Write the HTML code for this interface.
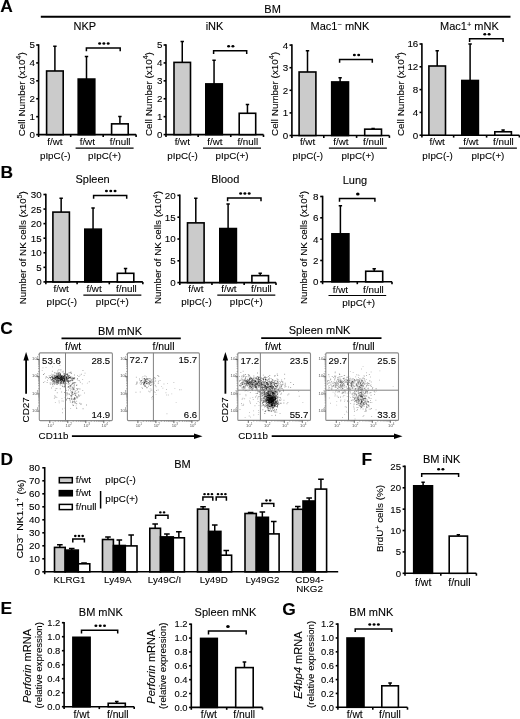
<!DOCTYPE html>
<html><head><meta charset="utf-8"><style>
html,body{margin:0;padding:0;background:#fff;}
svg{display:block;font-family:"Liberation Sans",sans-serif;will-change:transform;filter:blur(0.35px);}
text{stroke:#000;stroke-width:0.1px;}
</style></head><body>
<svg width="520" height="719" viewBox="0 0 520 719">
<defs><filter id="bl" x="-5%" y="-5%" width="110%" height="110%"><feGaussianBlur stdDeviation="0.35"/></filter></defs>
<rect width="520" height="719" fill="#fff"/>
<text x="0.3" y="12.2" font-size="17.4" font-weight="bold">A</text>
<text x="0.6" y="178.0" font-size="17.4" font-weight="bold">B</text>
<text x="0.2" y="333.5" font-size="17.4" font-weight="bold">C</text>
<text x="0.6" y="465.0" font-size="17.4" font-weight="bold">D</text>
<text x="0.6" y="613.8" font-size="17.4" font-weight="bold">E</text>
<text x="361.6" y="464.7" font-size="17.4" font-weight="bold">F</text>
<text x="282.3" y="614.8" font-size="17.4" font-weight="bold">G</text>
<text x="272.60" y="12.90" font-size="11" text-anchor="middle" >BM</text>
<line x1="40.80" y1="16.70" x2="510.50" y2="16.70" stroke="#000" stroke-width="2"/>
<path d="M38.60 44.20V134.60H136.10" stroke="#000" stroke-width="1.6" fill="none"/>
<line x1="36.20" y1="134.60" x2="38.60" y2="134.60" stroke="#000" stroke-width="1.6"/>
<text x="35.00" y="138.03" font-size="9.8" text-anchor="end" >0</text>
<line x1="36.20" y1="116.68" x2="38.60" y2="116.68" stroke="#000" stroke-width="1.6"/>
<text x="35.00" y="120.11" font-size="9.8" text-anchor="end" >1</text>
<line x1="36.20" y1="98.76" x2="38.60" y2="98.76" stroke="#000" stroke-width="1.6"/>
<text x="35.00" y="102.19" font-size="9.8" text-anchor="end" >2</text>
<line x1="36.20" y1="80.84" x2="38.60" y2="80.84" stroke="#000" stroke-width="1.6"/>
<text x="35.00" y="84.27" font-size="9.8" text-anchor="end" >3</text>
<line x1="36.20" y1="62.92" x2="38.60" y2="62.92" stroke="#000" stroke-width="1.6"/>
<text x="35.00" y="66.35" font-size="9.8" text-anchor="end" >4</text>
<line x1="36.20" y1="45.00" x2="38.60" y2="45.00" stroke="#000" stroke-width="1.6"/>
<text x="35.00" y="48.43" font-size="9.8" text-anchor="end" >5</text>
<line x1="38.60" y1="134.60" x2="38.60" y2="137.00" stroke="#000" stroke-width="1.6"/>
<line x1="70.70" y1="134.60" x2="70.70" y2="137.00" stroke="#000" stroke-width="1.6"/>
<line x1="103.20" y1="134.60" x2="103.20" y2="137.00" stroke="#000" stroke-width="1.6"/>
<line x1="136.10" y1="134.60" x2="136.10" y2="137.00" stroke="#000" stroke-width="1.6"/>
<path d="M54.90 70.98V46.25M53.20 46.25H56.60" stroke="#000" stroke-width="1.5" fill="none"/>
<rect x="46.60" y="70.98" width="16.60" height="63.62" fill="#cbcbcb" stroke="#000" stroke-width="1.6"/>
<path d="M86.50 79.05V56.47M84.80 56.47H88.20" stroke="#000" stroke-width="1.5" fill="none"/>
<rect x="78.20" y="79.05" width="16.60" height="55.55" fill="#000" stroke="#000" stroke-width="1.6"/>
<path d="M119.90 123.85V116.50M118.20 116.50H121.60" stroke="#000" stroke-width="1.5" fill="none"/>
<rect x="111.60" y="123.85" width="16.60" height="10.75" fill="#fff" stroke="#000" stroke-width="1.6"/>
<path d="M86.40 51.30V48.10H120.20V51.30" stroke="#000" stroke-width="1.5" fill="none"/>
<ellipse cx="99.60" cy="43.60" rx="1.5" ry="1.25" fill="#000"/>
<ellipse cx="103.90" cy="43.60" rx="1.5" ry="1.25" fill="#000"/>
<ellipse cx="108.20" cy="43.60" rx="1.5" ry="1.25" fill="#000"/>
<text x="84.80" y="30.00" font-size="11" text-anchor="middle" >NKP</text>
<text x="54.90" y="145.20" font-size="9.8" text-anchor="middle" >f/wt</text>
<text x="55.20" y="158.70" font-size="9.8" text-anchor="middle" >pIpC(-)</text>
<text x="87.30" y="145.20" font-size="9.8" text-anchor="middle" >f/wt</text>
<text x="120.20" y="145.20" font-size="9.8" text-anchor="middle" >f/null</text>
<line x1="75.60" y1="148.10" x2="133.60" y2="148.10" stroke="#000" stroke-width="1.2"/>
<text x="104.60" y="158.70" font-size="9.8" text-anchor="middle" >pIpC(+)</text>
<text transform="translate(24.80,136.30) rotate(-90)" font-size="9.3"  textLength="84" lengthAdjust="spacingAndGlyphs">Cell Number (x10<tspan dy="-3.6" font-size="6.5">4</tspan><tspan dy="3.6">)</tspan></text>
<path d="M166.00 44.20V134.60H263.50" stroke="#000" stroke-width="1.6" fill="none"/>
<line x1="163.60" y1="134.60" x2="166.00" y2="134.60" stroke="#000" stroke-width="1.6"/>
<text x="162.40" y="138.03" font-size="9.8" text-anchor="end" >0</text>
<line x1="163.60" y1="116.68" x2="166.00" y2="116.68" stroke="#000" stroke-width="1.6"/>
<text x="162.40" y="120.11" font-size="9.8" text-anchor="end" >1</text>
<line x1="163.60" y1="98.76" x2="166.00" y2="98.76" stroke="#000" stroke-width="1.6"/>
<text x="162.40" y="102.19" font-size="9.8" text-anchor="end" >2</text>
<line x1="163.60" y1="80.84" x2="166.00" y2="80.84" stroke="#000" stroke-width="1.6"/>
<text x="162.40" y="84.27" font-size="9.8" text-anchor="end" >3</text>
<line x1="163.60" y1="62.92" x2="166.00" y2="62.92" stroke="#000" stroke-width="1.6"/>
<text x="162.40" y="66.35" font-size="9.8" text-anchor="end" >4</text>
<line x1="163.60" y1="45.00" x2="166.00" y2="45.00" stroke="#000" stroke-width="1.6"/>
<text x="162.40" y="48.43" font-size="9.8" text-anchor="end" >5</text>
<line x1="166.00" y1="134.60" x2="166.00" y2="137.00" stroke="#000" stroke-width="1.6"/>
<line x1="198.15" y1="134.60" x2="198.15" y2="137.00" stroke="#000" stroke-width="1.6"/>
<line x1="230.75" y1="134.60" x2="230.75" y2="137.00" stroke="#000" stroke-width="1.6"/>
<line x1="263.50" y1="134.60" x2="263.50" y2="137.00" stroke="#000" stroke-width="1.6"/>
<path d="M182.25 62.38V41.42M180.55 41.42H183.95" stroke="#000" stroke-width="1.5" fill="none"/>
<rect x="174.00" y="62.38" width="16.50" height="72.22" fill="#cbcbcb" stroke="#000" stroke-width="1.6"/>
<path d="M214.05 83.89V60.23M212.35 60.23H215.75" stroke="#000" stroke-width="1.5" fill="none"/>
<rect x="205.80" y="83.89" width="16.50" height="50.71" fill="#000" stroke="#000" stroke-width="1.6"/>
<path d="M247.45 113.28V104.49M245.75 104.49H249.15" stroke="#000" stroke-width="1.5" fill="none"/>
<rect x="239.20" y="113.28" width="16.50" height="21.32" fill="#fff" stroke="#000" stroke-width="1.6"/>
<path d="M213.60 54.00V50.80H246.70V54.00" stroke="#000" stroke-width="1.5" fill="none"/>
<ellipse cx="228.60" cy="46.30" rx="1.5" ry="1.25" fill="#000"/>
<ellipse cx="232.90" cy="46.30" rx="1.5" ry="1.25" fill="#000"/>
<text x="214.50" y="30.00" font-size="11" text-anchor="middle" >iNK</text>
<text x="182.25" y="145.20" font-size="9.8" text-anchor="middle" >f/wt</text>
<text x="182.55" y="158.70" font-size="9.8" text-anchor="middle" >pIpC(-)</text>
<text x="214.85" y="145.20" font-size="9.8" text-anchor="middle" >f/wt</text>
<text x="247.75" y="145.20" font-size="9.8" text-anchor="middle" >f/null</text>
<line x1="203.00" y1="148.10" x2="261.00" y2="148.10" stroke="#000" stroke-width="1.2"/>
<text x="232.00" y="158.70" font-size="9.8" text-anchor="middle" >pIpC(+)</text>
<text transform="translate(151.80,136.10) rotate(-90)" font-size="9.3"  textLength="84" lengthAdjust="spacingAndGlyphs">Cell Number (x10<tspan dy="-3.6" font-size="6.5">4</tspan><tspan dy="3.6">)</tspan></text>
<path d="M291.90 44.30V135.50H389.40" stroke="#000" stroke-width="1.6" fill="none"/>
<line x1="289.50" y1="135.50" x2="291.90" y2="135.50" stroke="#000" stroke-width="1.6"/>
<text x="288.30" y="138.93" font-size="9.8" text-anchor="end" >0</text>
<line x1="289.50" y1="112.90" x2="291.90" y2="112.90" stroke="#000" stroke-width="1.6"/>
<text x="288.30" y="116.33" font-size="9.8" text-anchor="end" >1</text>
<line x1="289.50" y1="90.30" x2="291.90" y2="90.30" stroke="#000" stroke-width="1.6"/>
<text x="288.30" y="93.73" font-size="9.8" text-anchor="end" >2</text>
<line x1="289.50" y1="67.70" x2="291.90" y2="67.70" stroke="#000" stroke-width="1.6"/>
<text x="288.30" y="71.13" font-size="9.8" text-anchor="end" >3</text>
<line x1="289.50" y1="45.10" x2="291.90" y2="45.10" stroke="#000" stroke-width="1.6"/>
<text x="288.30" y="48.53" font-size="9.8" text-anchor="end" >4</text>
<line x1="291.90" y1="135.50" x2="291.90" y2="137.90" stroke="#000" stroke-width="1.6"/>
<line x1="323.80" y1="135.50" x2="323.80" y2="137.90" stroke="#000" stroke-width="1.6"/>
<line x1="356.60" y1="135.50" x2="356.60" y2="137.90" stroke="#000" stroke-width="1.6"/>
<line x1="389.40" y1="135.50" x2="389.40" y2="137.90" stroke="#000" stroke-width="1.6"/>
<path d="M307.50 71.99V50.75M305.80 50.75H309.20" stroke="#000" stroke-width="1.5" fill="none"/>
<rect x="299.10" y="71.99" width="16.80" height="63.51" fill="#cbcbcb" stroke="#000" stroke-width="1.6"/>
<path d="M340.10 81.94V77.64M338.40 77.64H341.80" stroke="#000" stroke-width="1.5" fill="none"/>
<rect x="331.70" y="81.94" width="16.80" height="53.56" fill="#000" stroke="#000" stroke-width="1.6"/>
<path d="M373.10 129.17V128.49M371.40 128.49H374.80" stroke="#000" stroke-width="1.5" fill="none"/>
<rect x="364.70" y="129.17" width="16.80" height="6.33" fill="#fff" stroke="#000" stroke-width="1.6"/>
<path d="M339.60 62.80V59.60H372.30V62.80" stroke="#000" stroke-width="1.5" fill="none"/>
<ellipse cx="354.40" cy="55.10" rx="1.5" ry="1.25" fill="#000"/>
<ellipse cx="358.70" cy="55.10" rx="1.5" ry="1.25" fill="#000"/>
<text x="340.00" y="30.00" font-size="11" text-anchor="middle" >Mac1<tspan dy="-3.2" font-size="7.5">−</tspan><tspan dy="3.2"> mNK</tspan></text>
<text x="307.50" y="145.20" font-size="9.8" text-anchor="middle" >f/wt</text>
<text x="307.80" y="158.70" font-size="9.8" text-anchor="middle" >pIpC(-)</text>
<text x="340.90" y="145.20" font-size="9.8" text-anchor="middle" >f/wt</text>
<text x="373.40" y="145.20" font-size="9.8" text-anchor="middle" >f/null</text>
<line x1="328.90" y1="148.10" x2="386.90" y2="148.10" stroke="#000" stroke-width="1.2"/>
<text x="357.90" y="158.70" font-size="9.8" text-anchor="middle" >pIpC(+)</text>
<text transform="translate(277.80,136.00) rotate(-90)" font-size="9.3"  textLength="84" lengthAdjust="spacingAndGlyphs">Cell Number (x10<tspan dy="-3.6" font-size="6.5">4</tspan><tspan dy="3.6">)</tspan></text>
<path d="M421.90 43.20V135.20H519.40" stroke="#000" stroke-width="1.6" fill="none"/>
<line x1="419.50" y1="135.20" x2="421.90" y2="135.20" stroke="#000" stroke-width="1.6"/>
<text x="418.30" y="138.63" font-size="9.8" text-anchor="end" >0</text>
<line x1="419.50" y1="112.40" x2="421.90" y2="112.40" stroke="#000" stroke-width="1.6"/>
<text x="418.30" y="115.83" font-size="9.8" text-anchor="end" >4</text>
<line x1="419.50" y1="89.60" x2="421.90" y2="89.60" stroke="#000" stroke-width="1.6"/>
<text x="418.30" y="93.03" font-size="9.8" text-anchor="end" >8</text>
<line x1="419.50" y1="66.80" x2="421.90" y2="66.80" stroke="#000" stroke-width="1.6"/>
<text x="418.30" y="70.23" font-size="9.8" text-anchor="end" >12</text>
<line x1="419.50" y1="44.00" x2="421.90" y2="44.00" stroke="#000" stroke-width="1.6"/>
<text x="418.30" y="47.43" font-size="9.8" text-anchor="end" >16</text>
<line x1="421.90" y1="135.20" x2="421.90" y2="137.60" stroke="#000" stroke-width="1.6"/>
<line x1="453.65" y1="135.20" x2="453.65" y2="137.60" stroke="#000" stroke-width="1.6"/>
<line x1="486.60" y1="135.20" x2="486.60" y2="137.60" stroke="#000" stroke-width="1.6"/>
<line x1="519.40" y1="135.20" x2="519.40" y2="137.60" stroke="#000" stroke-width="1.6"/>
<path d="M437.20 66.00V50.84M435.50 50.84H438.90" stroke="#000" stroke-width="1.5" fill="none"/>
<rect x="428.90" y="66.00" width="16.60" height="69.20" fill="#cbcbcb" stroke="#000" stroke-width="1.6"/>
<path d="M470.10 80.48V44.00M468.40 44.00H471.80" stroke="#000" stroke-width="1.5" fill="none"/>
<rect x="461.80" y="80.48" width="16.60" height="54.72" fill="#000" stroke="#000" stroke-width="1.6"/>
<path d="M503.10 131.78V130.07M501.40 130.07H504.80" stroke="#000" stroke-width="1.5" fill="none"/>
<rect x="494.80" y="131.78" width="16.60" height="3.42" fill="#fff" stroke="#000" stroke-width="1.6"/>
<path d="M469.60 41.90V38.70H503.10V41.90" stroke="#000" stroke-width="1.5" fill="none"/>
<ellipse cx="484.80" cy="34.20" rx="1.5" ry="1.25" fill="#000"/>
<ellipse cx="489.10" cy="34.20" rx="1.5" ry="1.25" fill="#000"/>
<text x="469.40" y="30.00" font-size="11" text-anchor="middle" >Mac1<tspan dy="-3.2" font-size="7.5">+</tspan><tspan dy="3.2"> mNK</tspan></text>
<text x="437.20" y="145.20" font-size="9.8" text-anchor="middle" >f/wt</text>
<text x="437.50" y="158.70" font-size="9.8" text-anchor="middle" >pIpC(-)</text>
<text x="470.90" y="145.20" font-size="9.8" text-anchor="middle" >f/wt</text>
<text x="503.40" y="145.20" font-size="9.8" text-anchor="middle" >f/null</text>
<line x1="458.90" y1="148.10" x2="516.90" y2="148.10" stroke="#000" stroke-width="1.2"/>
<text x="487.90" y="158.70" font-size="9.8" text-anchor="middle" >pIpC(+)</text>
<text transform="translate(403.90,136.10) rotate(-90)" font-size="9.3"  textLength="84" lengthAdjust="spacingAndGlyphs">Cell Number (x10<tspan dy="-3.6" font-size="6.5">4</tspan><tspan dy="3.6">)</tspan></text>
<path d="M45.85 193.70V281.90H142.85" stroke="#000" stroke-width="1.6" fill="none"/>
<line x1="43.45" y1="281.90" x2="45.85" y2="281.90" stroke="#000" stroke-width="1.6"/>
<text x="41.75" y="285.33" font-size="9.8" text-anchor="end" >0</text>
<line x1="43.45" y1="267.33" x2="45.85" y2="267.33" stroke="#000" stroke-width="1.6"/>
<text x="41.75" y="270.76" font-size="9.8" text-anchor="end" >5</text>
<line x1="43.45" y1="252.77" x2="45.85" y2="252.77" stroke="#000" stroke-width="1.6"/>
<text x="41.75" y="256.20" font-size="9.8" text-anchor="end" >10</text>
<line x1="43.45" y1="238.20" x2="45.85" y2="238.20" stroke="#000" stroke-width="1.6"/>
<text x="41.75" y="241.63" font-size="9.8" text-anchor="end" >15</text>
<line x1="43.45" y1="223.63" x2="45.85" y2="223.63" stroke="#000" stroke-width="1.6"/>
<text x="41.75" y="227.06" font-size="9.8" text-anchor="end" >20</text>
<line x1="43.45" y1="209.07" x2="45.85" y2="209.07" stroke="#000" stroke-width="1.6"/>
<text x="41.75" y="212.50" font-size="9.8" text-anchor="end" >25</text>
<line x1="43.45" y1="194.50" x2="45.85" y2="194.50" stroke="#000" stroke-width="1.6"/>
<text x="41.75" y="197.93" font-size="9.8" text-anchor="end" >30</text>
<line x1="45.85" y1="281.90" x2="45.85" y2="284.30" stroke="#000" stroke-width="1.6"/>
<line x1="77.10" y1="281.90" x2="77.10" y2="284.30" stroke="#000" stroke-width="1.6"/>
<line x1="109.30" y1="281.90" x2="109.30" y2="284.30" stroke="#000" stroke-width="1.6"/>
<line x1="142.85" y1="281.90" x2="142.85" y2="284.30" stroke="#000" stroke-width="1.6"/>
<path d="M61.15 212.10V198.29M59.45 198.29H62.85" stroke="#000" stroke-width="1.5" fill="none"/>
<rect x="52.90" y="212.10" width="16.50" height="69.80" fill="#cbcbcb" stroke="#000" stroke-width="1.6"/>
<path d="M93.05 229.17V207.90M91.35 207.90H94.75" stroke="#000" stroke-width="1.5" fill="none"/>
<rect x="84.80" y="229.17" width="16.50" height="52.73" fill="#000" stroke="#000" stroke-width="1.6"/>
<path d="M125.55 273.31V268.50M123.85 268.50H127.25" stroke="#000" stroke-width="1.5" fill="none"/>
<rect x="117.30" y="273.31" width="16.50" height="8.59" fill="#fff" stroke="#000" stroke-width="1.6"/>
<path d="M93.60 198.80V195.60H126.70V198.80" stroke="#000" stroke-width="1.5" fill="none"/>
<ellipse cx="106.45" cy="191.10" rx="1.5" ry="1.25" fill="#000"/>
<ellipse cx="110.75" cy="191.10" rx="1.5" ry="1.25" fill="#000"/>
<ellipse cx="115.05" cy="191.10" rx="1.5" ry="1.25" fill="#000"/>
<text x="92.60" y="183.20" font-size="11" text-anchor="middle" >Spleen</text>
<text x="61.15" y="292.00" font-size="9.8" text-anchor="middle" >f/wt</text>
<text x="61.75" y="305.10" font-size="9.8" text-anchor="middle" >pIpC(-)</text>
<text x="94.05" y="292.00" font-size="9.8" text-anchor="middle" >f/wt</text>
<text x="126.45" y="292.00" font-size="9.8" text-anchor="middle" >f/null</text>
<line x1="83.35" y1="295.20" x2="141.35" y2="295.20" stroke="#000" stroke-width="1.2"/>
<text x="112.35" y="305.10" font-size="9.8" text-anchor="middle" >pIpC(+)</text>
<text transform="translate(25.90,304.20) rotate(-90)" font-size="9.0"  textLength="113" lengthAdjust="spacingAndGlyphs">Number of NK cells (x10<tspan dy="-3.6" font-size="6.5">5</tspan><tspan dy="3.6">)</tspan></text>
<path d="M179.80 194.60V282.60H276.00" stroke="#000" stroke-width="1.6" fill="none"/>
<line x1="177.40" y1="282.60" x2="179.80" y2="282.60" stroke="#000" stroke-width="1.6"/>
<text x="175.70" y="286.03" font-size="9.8" text-anchor="end" >0</text>
<line x1="177.40" y1="260.80" x2="179.80" y2="260.80" stroke="#000" stroke-width="1.6"/>
<text x="175.70" y="264.23" font-size="9.8" text-anchor="end" >5</text>
<line x1="177.40" y1="239.00" x2="179.80" y2="239.00" stroke="#000" stroke-width="1.6"/>
<text x="175.70" y="242.43" font-size="9.8" text-anchor="end" >10</text>
<line x1="177.40" y1="217.20" x2="179.80" y2="217.20" stroke="#000" stroke-width="1.6"/>
<text x="175.70" y="220.63" font-size="9.8" text-anchor="end" >15</text>
<line x1="177.40" y1="195.40" x2="179.80" y2="195.40" stroke="#000" stroke-width="1.6"/>
<text x="175.70" y="198.83" font-size="9.8" text-anchor="end" >20</text>
<line x1="179.80" y1="282.60" x2="179.80" y2="285.00" stroke="#000" stroke-width="1.6"/>
<line x1="211.95" y1="282.60" x2="211.95" y2="285.00" stroke="#000" stroke-width="1.6"/>
<line x1="244.15" y1="282.60" x2="244.15" y2="285.00" stroke="#000" stroke-width="1.6"/>
<line x1="276.00" y1="282.60" x2="276.00" y2="285.00" stroke="#000" stroke-width="1.6"/>
<path d="M195.80 222.87V198.19M194.10 198.19H197.50" stroke="#000" stroke-width="1.5" fill="none"/>
<rect x="187.50" y="222.87" width="16.60" height="59.73" fill="#cbcbcb" stroke="#000" stroke-width="1.6"/>
<path d="M228.10 228.54V203.99M226.40 203.99H229.80" stroke="#000" stroke-width="1.5" fill="none"/>
<rect x="219.80" y="228.54" width="16.60" height="54.06" fill="#000" stroke="#000" stroke-width="1.6"/>
<path d="M260.20 275.62V273.18M258.50 273.18H261.90" stroke="#000" stroke-width="1.5" fill="none"/>
<rect x="251.90" y="275.62" width="16.60" height="6.98" fill="#fff" stroke="#000" stroke-width="1.6"/>
<path d="M227.60 201.30V198.10H261.00V201.30" stroke="#000" stroke-width="1.5" fill="none"/>
<ellipse cx="240.60" cy="193.60" rx="1.5" ry="1.25" fill="#000"/>
<ellipse cx="244.90" cy="193.60" rx="1.5" ry="1.25" fill="#000"/>
<ellipse cx="249.20" cy="193.60" rx="1.5" ry="1.25" fill="#000"/>
<text x="225.30" y="183.20" font-size="11" text-anchor="middle" >Blood</text>
<text x="195.80" y="292.00" font-size="9.8" text-anchor="middle" >f/wt</text>
<text x="196.40" y="305.10" font-size="9.8" text-anchor="middle" >pIpC(-)</text>
<text x="228.90" y="292.00" font-size="9.8" text-anchor="middle" >f/wt</text>
<text x="261.40" y="292.00" font-size="9.8" text-anchor="middle" >f/null</text>
<line x1="217.30" y1="295.20" x2="275.30" y2="295.20" stroke="#000" stroke-width="1.2"/>
<text x="246.30" y="305.10" font-size="9.8" text-anchor="middle" >pIpC(+)</text>
<text transform="translate(161.40,304.10) rotate(-90)" font-size="9.0"  textLength="113" lengthAdjust="spacingAndGlyphs">Number of NK cells (x10<tspan dy="-3.6" font-size="6.5">4</tspan><tspan dy="3.6">)</tspan></text>
<path d="M322.60 195.70V281.80H392.00" stroke="#000" stroke-width="1.6" fill="none"/>
<line x1="320.20" y1="281.80" x2="322.60" y2="281.80" stroke="#000" stroke-width="1.6"/>
<text x="318.50" y="285.23" font-size="9.8" text-anchor="end" >0</text>
<line x1="320.20" y1="260.48" x2="322.60" y2="260.48" stroke="#000" stroke-width="1.6"/>
<text x="318.50" y="263.91" font-size="9.8" text-anchor="end" >2</text>
<line x1="320.20" y1="239.15" x2="322.60" y2="239.15" stroke="#000" stroke-width="1.6"/>
<text x="318.50" y="242.58" font-size="9.8" text-anchor="end" >4</text>
<line x1="320.20" y1="217.82" x2="322.60" y2="217.82" stroke="#000" stroke-width="1.6"/>
<text x="318.50" y="221.25" font-size="9.8" text-anchor="end" >6</text>
<line x1="320.20" y1="196.50" x2="322.60" y2="196.50" stroke="#000" stroke-width="1.6"/>
<text x="318.50" y="199.93" font-size="9.8" text-anchor="end" >8</text>
<line x1="322.60" y1="281.80" x2="322.60" y2="284.20" stroke="#000" stroke-width="1.6"/>
<line x1="357.30" y1="281.80" x2="357.30" y2="284.20" stroke="#000" stroke-width="1.6"/>
<line x1="392.00" y1="281.80" x2="392.00" y2="284.20" stroke="#000" stroke-width="1.6"/>
<path d="M340.40 233.82V205.67M338.70 205.67H342.10" stroke="#000" stroke-width="1.5" fill="none"/>
<rect x="331.90" y="233.82" width="17.00" height="47.98" fill="#000" stroke="#000" stroke-width="1.6"/>
<path d="M374.20 271.24V268.79M372.50 268.79H375.90" stroke="#000" stroke-width="1.5" fill="none"/>
<rect x="365.70" y="271.24" width="17.00" height="10.56" fill="#fff" stroke="#000" stroke-width="1.6"/>
<path d="M339.50 201.70V198.50H374.90V201.70" stroke="#000" stroke-width="1.5" fill="none"/>
<ellipse cx="357.80" cy="194.00" rx="1.8" ry="1.5" fill="#000"/>
<text x="355.00" y="184.00" font-size="11" text-anchor="middle" >Lung</text>
<text x="340.40" y="293.00" font-size="9.8" text-anchor="middle" >f/wt</text>
<text x="373.40" y="293.00" font-size="9.8" text-anchor="middle" >f/null</text>
<line x1="328.50" y1="295.50" x2="386.20" y2="295.50" stroke="#000" stroke-width="1.2"/>
<text x="358.65" y="305.70" font-size="9.8" text-anchor="middle" >pIpC(+)</text>
<text transform="translate(307.30,304.10) rotate(-90)" font-size="9.0"  textLength="113" lengthAdjust="spacingAndGlyphs">Number of NK cells (x10<tspan dy="-3.6" font-size="6.5">4</tspan><tspan dy="3.6">)</tspan></text>
<text x="120.00" y="334.60" font-size="11" text-anchor="middle" >BM mNK</text>
<line x1="61.50" y1="338.30" x2="180.80" y2="338.30" stroke="#000" stroke-width="1.8"/>
<text x="319.60" y="334.40" font-size="11" text-anchor="middle" >Spleen mNK</text>
<line x1="261.20" y1="338.20" x2="381.50" y2="338.20" stroke="#000" stroke-width="1.8"/>
<g fill="#000" fill-opacity="0.5" filter="url(#bl)">
<path d="M54.4 378.8h.9v.9h-.9zM65.5 376.9h.9v.9h-.9zM53.9 377.9h.9v.9h-.9zM62.9 380.4h.9v.9h-.9zM54.4 375.2h.9v.9h-.9zM64.0 379.0h.9v.9h-.9zM68.2 380.2h.9v.9h-.9zM60.0 377.4h.9v.9h-.9zM73.4 377.4h.9v.9h-.9zM56.6 375.5h.9v.9h-.9zM61.0 378.3h.9v.9h-.9zM58.8 377.9h.9v.9h-.9z"/>
<path d="M61.9 379.5h.9v.9h-.9zM66.0 378.5h.9v.9h-.9zM51.6 379.5h.9v.9h-.9zM53.4 377.6h.9v.9h-.9zM53.1 378.0h.9v.9h-.9zM56.6 378.5h.9v.9h-.9zM77.0 377.9h.9v.9h-.9zM64.7 375.1h.9v.9h-.9zM59.1 379.5h.9v.9h-.9zM60.0 378.8h.9v.9h-.9zM61.0 375.8h.9v.9h-.9zM63.3 376.2h.9v.9h-.9z"/>
<path d="M69.9 376.9h.9v.9h-.9zM63.9 378.0h.9v.9h-.9zM65.3 376.7h.9v.9h-.9zM65.5 377.7h.9v.9h-.9zM66.8 379.4h.9v.9h-.9zM61.2 376.3h.9v.9h-.9zM64.3 379.0h.9v.9h-.9zM68.7 377.2h.9v.9h-.9zM63.3 379.1h.9v.9h-.9zM61.9 378.5h.9v.9h-.9zM61.4 376.7h.9v.9h-.9zM55.4 377.1h.9v.9h-.9z"/>
<path d="M63.5 381.3h.9v.9h-.9zM65.4 380.3h.9v.9h-.9zM64.4 379.5h.9v.9h-.9zM61.4 379.7h.9v.9h-.9zM69.4 377.3h.9v.9h-.9zM57.0 382.3h.9v.9h-.9zM61.7 380.1h.9v.9h-.9zM64.9 375.5h.9v.9h-.9zM72.7 381.9h.9v.9h-.9zM61.4 379.7h.9v.9h-.9zM61.1 376.1h.9v.9h-.9zM59.9 378.8h.9v.9h-.9z"/>
<path d="M66.1 379.6h.9v.9h-.9zM60.8 381.0h.9v.9h-.9zM56.7 379.7h.9v.9h-.9zM66.1 377.4h.9v.9h-.9zM51.5 376.0h.9v.9h-.9zM61.7 379.2h.9v.9h-.9zM68.2 375.8h.9v.9h-.9zM60.5 379.4h.9v.9h-.9zM59.7 372.8h.9v.9h-.9zM64.5 383.1h.9v.9h-.9zM65.5 376.0h.9v.9h-.9zM58.4 378.5h.9v.9h-.9z"/>
<path d="M72.9 379.4h.9v.9h-.9zM61.1 381.4h.9v.9h-.9zM60.1 382.1h.9v.9h-.9zM57.1 377.0h.9v.9h-.9zM64.1 381.1h.9v.9h-.9zM63.8 378.7h.9v.9h-.9zM51.4 376.4h.9v.9h-.9zM57.4 376.8h.9v.9h-.9zM63.4 377.3h.9v.9h-.9zM64.4 378.2h.9v.9h-.9zM58.8 378.3h.9v.9h-.9zM62.6 379.9h.9v.9h-.9z"/>
<path d="M58.1 377.5h.9v.9h-.9zM53.7 381.5h.9v.9h-.9zM67.8 377.6h.9v.9h-.9zM58.1 375.3h.9v.9h-.9zM61.3 378.5h.9v.9h-.9zM71.4 378.5h.9v.9h-.9zM56.6 372.6h.9v.9h-.9zM67.5 378.4h.9v.9h-.9zM52.5 378.4h.9v.9h-.9zM52.5 385.7h.9v.9h-.9zM66.1 379.3h.9v.9h-.9zM59.6 373.3h.9v.9h-.9z"/>
<path d="M59.9 374.6h.9v.9h-.9zM63.5 373.3h.9v.9h-.9zM56.0 380.7h.9v.9h-.9zM68.7 375.4h.9v.9h-.9zM52.8 379.9h.9v.9h-.9zM64.8 375.8h.9v.9h-.9zM57.0 376.5h.9v.9h-.9zM54.6 376.5h.9v.9h-.9zM66.8 379.5h.9v.9h-.9zM70.8 377.8h.9v.9h-.9zM59.8 375.8h.9v.9h-.9zM59.9 375.1h.9v.9h-.9z"/>
<path d="M51.6 379.5h.9v.9h-.9zM67.7 379.8h.9v.9h-.9zM67.2 378.6h.9v.9h-.9zM56.9 378.2h.9v.9h-.9zM58.6 375.6h.9v.9h-.9zM52.0 374.7h.9v.9h-.9zM60.5 378.3h.9v.9h-.9zM58.1 381.1h.9v.9h-.9zM61.4 379.3h.9v.9h-.9zM66.6 376.2h.9v.9h-.9zM50.7 379.7h.9v.9h-.9zM57.1 380.9h.9v.9h-.9z"/>
<path d="M62.2 380.2h.9v.9h-.9zM64.3 373.4h.9v.9h-.9zM64.1 376.5h.9v.9h-.9zM56.7 377.0h.9v.9h-.9zM64.3 379.9h.9v.9h-.9zM65.6 374.3h.9v.9h-.9zM57.5 372.8h.9v.9h-.9zM60.0 379.3h.9v.9h-.9zM56.7 378.5h.9v.9h-.9zM61.7 380.2h.9v.9h-.9zM56.4 376.2h.9v.9h-.9zM56.7 381.9h.9v.9h-.9z"/>
<path d="M66.0 377.7h.9v.9h-.9zM61.6 378.3h.9v.9h-.9zM61.5 377.5h.9v.9h-.9zM58.8 375.2h.9v.9h-.9zM57.3 381.6h.9v.9h-.9zM63.2 378.1h.9v.9h-.9zM59.4 378.1h.9v.9h-.9zM62.3 376.6h.9v.9h-.9zM61.5 378.5h.9v.9h-.9zM56.8 376.3h.9v.9h-.9zM55.5 375.7h.9v.9h-.9zM64.9 372.8h.9v.9h-.9z"/>
<path d="M59.2 376.7h.9v.9h-.9zM57.4 378.2h.9v.9h-.9zM66.1 378.2h.9v.9h-.9zM59.8 376.7h.9v.9h-.9zM59.9 380.0h.9v.9h-.9zM58.5 375.5h.9v.9h-.9zM54.2 375.6h.9v.9h-.9zM53.6 380.4h.9v.9h-.9zM62.3 377.5h.9v.9h-.9zM67.8 376.6h.9v.9h-.9zM64.3 379.8h.9v.9h-.9zM52.8 374.6h.9v.9h-.9z"/>
<path d="M55.9 380.0h.9v.9h-.9zM67.0 375.3h.9v.9h-.9zM65.7 377.2h.9v.9h-.9zM58.5 376.8h.9v.9h-.9zM58.9 374.0h.9v.9h-.9zM55.5 375.3h.9v.9h-.9zM63.0 382.6h.9v.9h-.9zM74.2 377.3h.9v.9h-.9zM51.9 377.1h.9v.9h-.9zM55.8 382.4h.9v.9h-.9zM63.4 376.4h.9v.9h-.9zM65.2 379.2h.9v.9h-.9z"/>
<path d="M52.4 376.8h.9v.9h-.9zM59.3 378.0h.9v.9h-.9zM61.2 377.3h.9v.9h-.9zM61.4 376.7h.9v.9h-.9zM56.0 381.3h.9v.9h-.9zM62.3 379.0h.9v.9h-.9zM52.5 377.6h.9v.9h-.9zM64.6 375.2h.9v.9h-.9zM66.0 377.1h.9v.9h-.9zM62.5 377.7h.9v.9h-.9zM61.6 380.6h.9v.9h-.9zM58.5 381.4h.9v.9h-.9z"/>
<path d="M56.6 376.0h.9v.9h-.9zM64.1 375.7h.9v.9h-.9zM58.6 380.0h.9v.9h-.9zM66.6 374.1h.9v.9h-.9zM63.0 382.1h.9v.9h-.9zM66.5 377.5h.9v.9h-.9zM57.5 377.3h.9v.9h-.9zM54.7 377.4h.9v.9h-.9zM59.6 377.7h.9v.9h-.9zM66.4 377.5h.9v.9h-.9zM53.2 380.3h.9v.9h-.9zM55.1 377.0h.9v.9h-.9z"/>
<path d="M59.8 377.2h.9v.9h-.9zM55.5 377.5h.9v.9h-.9zM71.4 376.7h.9v.9h-.9zM59.8 380.5h.9v.9h-.9zM64.2 379.7h.9v.9h-.9zM64.8 373.7h.9v.9h-.9zM56.2 378.3h.9v.9h-.9zM63.0 380.8h.9v.9h-.9zM62.8 377.5h.9v.9h-.9zM60.7 377.5h.9v.9h-.9zM61.7 379.5h.9v.9h-.9zM58.8 376.2h.9v.9h-.9z"/>
<path d="M56.2 380.4h.9v.9h-.9zM66.9 380.2h.9v.9h-.9zM64.8 379.8h.9v.9h-.9zM60.5 379.5h.9v.9h-.9zM55.2 377.6h.9v.9h-.9zM56.8 379.6h.9v.9h-.9zM57.6 377.8h.9v.9h-.9zM62.5 381.0h.9v.9h-.9zM56.5 375.9h.9v.9h-.9zM64.6 375.6h.9v.9h-.9zM62.8 376.7h.9v.9h-.9zM60.0 374.0h.9v.9h-.9z"/>
<path d="M64.1 376.9h.9v.9h-.9zM56.0 382.6h.9v.9h-.9zM64.1 385.7h.9v.9h-.9zM62.5 377.2h.9v.9h-.9zM61.0 381.5h.9v.9h-.9zM60.4 379.0h.9v.9h-.9zM63.1 376.0h.9v.9h-.9zM61.1 376.9h.9v.9h-.9zM54.3 379.9h.9v.9h-.9zM63.8 378.2h.9v.9h-.9zM56.0 373.6h.9v.9h-.9zM62.9 377.8h.9v.9h-.9z"/>
<path d="M52.1 377.9h.9v.9h-.9zM52.9 377.9h.9v.9h-.9zM61.2 378.8h.9v.9h-.9zM61.6 378.4h.9v.9h-.9zM54.8 377.2h.9v.9h-.9zM57.9 377.5h.9v.9h-.9zM61.9 379.4h.9v.9h-.9zM68.7 372.3h.9v.9h-.9zM62.5 377.6h.9v.9h-.9zM71.9 380.1h.9v.9h-.9zM52.2 378.9h.9v.9h-.9zM57.9 380.2h.9v.9h-.9z"/>
<path d="M55.2 377.8h.9v.9h-.9zM59.8 377.8h.9v.9h-.9zM57.6 374.0h.9v.9h-.9zM62.8 380.2h.9v.9h-.9zM60.2 375.8h.9v.9h-.9zM61.5 379.2h.9v.9h-.9zM59.6 378.0h.9v.9h-.9zM67.5 375.5h.9v.9h-.9zM57.7 373.8h.9v.9h-.9zM57.0 376.4h.9v.9h-.9zM55.7 376.5h.9v.9h-.9zM69.5 377.6h.9v.9h-.9z"/>
<path d="M59.9 382.8h.9v.9h-.9zM60.2 374.2h.9v.9h-.9zM62.5 375.9h.9v.9h-.9zM68.7 375.3h.9v.9h-.9zM57.6 374.5h.9v.9h-.9zM61.0 375.8h.9v.9h-.9zM60.2 377.2h.9v.9h-.9zM57.4 380.1h.9v.9h-.9zM65.2 378.1h.9v.9h-.9zM56.0 375.6h.9v.9h-.9zM61.8 383.3h.9v.9h-.9zM58.2 376.3h.9v.9h-.9z"/>
<path d="M57.0 375.6h.9v.9h-.9zM55.6 377.5h.9v.9h-.9zM67.7 378.0h.9v.9h-.9zM57.9 374.4h.9v.9h-.9zM61.6 377.9h.9v.9h-.9zM54.4 375.6h.9v.9h-.9zM60.3 380.2h.9v.9h-.9zM63.6 378.5h.9v.9h-.9zM58.9 378.7h.9v.9h-.9zM60.4 382.8h.9v.9h-.9zM54.8 377.2h.9v.9h-.9zM66.8 377.4h.9v.9h-.9z"/>
<path d="M67.6 377.9h.9v.9h-.9zM61.2 377.2h.9v.9h-.9zM53.6 375.9h.9v.9h-.9zM71.6 379.4h.9v.9h-.9zM63.5 380.1h.9v.9h-.9zM63.3 380.2h.9v.9h-.9zM59.2 377.5h.9v.9h-.9zM65.4 377.2h.9v.9h-.9zM53.8 377.5h.9v.9h-.9zM57.8 379.3h.9v.9h-.9zM56.9 375.7h.9v.9h-.9zM58.8 381.4h.9v.9h-.9z"/>
<path d="M60.3 378.4h.9v.9h-.9zM60.5 378.7h.9v.9h-.9zM65.1 381.1h.9v.9h-.9zM52.3 381.0h.9v.9h-.9zM60.5 377.3h.9v.9h-.9zM72.5 377.6h.9v.9h-.9zM70.2 380.1h.9v.9h-.9zM55.4 379.1h.9v.9h-.9zM64.2 377.7h.9v.9h-.9zM48.9 377.2h.9v.9h-.9zM59.5 375.6h.9v.9h-.9zM69.6 377.5h.9v.9h-.9z"/>
<path d="M58.5 377.3h.9v.9h-.9zM56.6 376.3h.9v.9h-.9zM61.0 378.7h.9v.9h-.9zM58.0 377.8h.9v.9h-.9zM53.5 379.1h.9v.9h-.9zM56.8 378.5h.9v.9h-.9zM56.0 376.9h.9v.9h-.9zM61.6 375.3h.9v.9h-.9zM72.8 377.9h.9v.9h-.9zM60.1 376.4h.9v.9h-.9zM68.5 381.0h.9v.9h-.9zM62.0 375.0h.9v.9h-.9z"/>
</g>
<g fill="#000" fill-opacity="0.35" filter="url(#bl)">
<path d="M56.5 381.5h.9v.9h-.9zM56.4 373.5h.9v.9h-.9zM50.3 375.0h.9v.9h-.9zM61.1 376.1h.9v.9h-.9zM61.2 391.5h.9v.9h-.9zM77.0 375.2h.9v.9h-.9zM64.1 379.5h.9v.9h-.9zM59.8 383.6h.9v.9h-.9zM58.0 377.4h.9v.9h-.9zM57.6 378.4h.9v.9h-.9zM72.6 383.1h.9v.9h-.9zM48.9 376.4h.9v.9h-.9z"/>
<path d="M53.8 382.3h.9v.9h-.9zM63.0 383.1h.9v.9h-.9zM60.4 370.4h.9v.9h-.9zM65.1 380.2h.9v.9h-.9zM65.6 373.4h.9v.9h-.9zM61.7 376.0h.9v.9h-.9zM54.8 380.3h.9v.9h-.9zM64.2 375.2h.9v.9h-.9zM45.6 367.2h.9v.9h-.9zM55.8 383.8h.9v.9h-.9zM60.5 368.9h.9v.9h-.9zM53.2 380.5h.9v.9h-.9z"/>
<path d="M76.1 385.0h.9v.9h-.9zM64.3 380.0h.9v.9h-.9zM51.5 376.5h.9v.9h-.9zM58.0 375.4h.9v.9h-.9zM61.6 377.3h.9v.9h-.9zM64.0 385.6h.9v.9h-.9zM67.7 381.2h.9v.9h-.9zM58.8 372.1h.9v.9h-.9zM60.0 381.4h.9v.9h-.9zM51.9 384.2h.9v.9h-.9zM58.0 380.5h.9v.9h-.9zM58.0 373.2h.9v.9h-.9z"/>
<path d="M79.6 374.7h.9v.9h-.9zM69.3 376.9h.9v.9h-.9zM63.5 375.5h.9v.9h-.9zM57.3 382.9h.9v.9h-.9zM78.5 376.1h.9v.9h-.9zM61.1 383.2h.9v.9h-.9zM55.3 381.9h.9v.9h-.9zM53.9 381.4h.9v.9h-.9zM64.9 384.6h.9v.9h-.9zM64.3 373.8h.9v.9h-.9zM67.0 374.4h.9v.9h-.9zM67.8 386.1h.9v.9h-.9z"/>
<path d="M66.4 376.8h.9v.9h-.9zM71.7 380.3h.9v.9h-.9zM49.8 376.9h.9v.9h-.9zM73.8 378.3h.9v.9h-.9zM62.1 377.5h.9v.9h-.9zM45.8 376.0h.9v.9h-.9zM64.2 380.1h.9v.9h-.9zM59.4 369.4h.9v.9h-.9zM72.0 382.8h.9v.9h-.9zM70.2 385.3h.9v.9h-.9zM57.0 376.1h.9v.9h-.9zM63.8 386.6h.9v.9h-.9z"/>
<path d="M45.8 377.2h.9v.9h-.9zM54.6 381.2h.9v.9h-.9zM74.2 378.3h.9v.9h-.9zM49.8 378.7h.9v.9h-.9zM58.4 372.0h.9v.9h-.9zM69.0 377.1h.9v.9h-.9zM67.1 373.4h.9v.9h-.9zM70.9 373.0h.9v.9h-.9zM70.5 371.4h.9v.9h-.9zM73.4 377.9h.9v.9h-.9zM47.0 377.2h.9v.9h-.9zM64.0 374.7h.9v.9h-.9z"/>
<path d="M56.6 380.0h.9v.9h-.9zM59.5 365.2h.9v.9h-.9zM57.1 380.7h.9v.9h-.9zM63.7 383.7h.9v.9h-.9zM54.8 390.1h.9v.9h-.9zM68.2 380.8h.9v.9h-.9zM70.8 383.8h.9v.9h-.9zM61.9 376.3h.9v.9h-.9zM70.2 381.4h.9v.9h-.9zM44.0 373.2h.9v.9h-.9zM65.2 379.7h.9v.9h-.9zM63.5 382.0h.9v.9h-.9z"/>
<path d="M62.3 386.2h.9v.9h-.9zM55.7 376.9h.9v.9h-.9zM63.9 382.5h.9v.9h-.9zM68.1 386.0h.9v.9h-.9zM56.7 384.0h.9v.9h-.9zM65.2 374.5h.9v.9h-.9zM59.8 388.3h.9v.9h-.9zM68.1 377.3h.9v.9h-.9zM54.7 379.0h.9v.9h-.9zM81.8 383.4h.9v.9h-.9zM63.8 375.0h.9v.9h-.9zM50.3 377.5h.9v.9h-.9z"/>
<path d="M56.8 392.3h.9v.9h-.9zM57.4 376.1h.9v.9h-.9zM71.2 379.9h.9v.9h-.9zM49.9 384.2h.9v.9h-.9zM58.2 372.9h.9v.9h-.9zM63.9 381.3h.9v.9h-.9zM58.0 382.0h.9v.9h-.9zM68.4 375.4h.9v.9h-.9zM42.5 367.4h.9v.9h-.9zM59.8 384.5h.9v.9h-.9zM70.0 385.7h.9v.9h-.9zM77.7 379.9h.9v.9h-.9z"/>
<path d="M70.5 372.6h.9v.9h-.9zM67.2 381.1h.9v.9h-.9zM60.2 377.0h.9v.9h-.9zM51.0 379.1h.9v.9h-.9zM72.5 377.9h.9v.9h-.9zM65.8 376.3h.9v.9h-.9zM63.3 374.6h.9v.9h-.9zM64.4 378.2h.9v.9h-.9zM63.8 376.4h.9v.9h-.9zM50.4 377.0h.9v.9h-.9zM70.3 386.5h.9v.9h-.9zM58.1 382.4h.9v.9h-.9z"/>
<path d="M67.8 381.1h.9v.9h-.9zM47.0 379.8h.9v.9h-.9zM52.3 383.8h.9v.9h-.9zM68.1 382.1h.9v.9h-.9zM67.3 373.6h.9v.9h-.9zM69.7 379.8h.9v.9h-.9zM59.4 375.7h.9v.9h-.9zM51.8 376.6h.9v.9h-.9zM88.8 381.3h.9v.9h-.9zM62.9 376.2h.9v.9h-.9zM55.4 376.3h.9v.9h-.9zM53.0 382.5h.9v.9h-.9z"/>
<path d="M58.6 382.8h.9v.9h-.9zM50.6 382.6h.9v.9h-.9zM60.8 382.0h.9v.9h-.9zM60.1 375.0h.9v.9h-.9zM71.9 377.6h.9v.9h-.9zM59.7 375.0h.9v.9h-.9zM62.8 377.3h.9v.9h-.9zM63.5 380.7h.9v.9h-.9zM54.8 372.4h.9v.9h-.9zM64.9 383.3h.9v.9h-.9zM67.3 374.2h.9v.9h-.9zM66.4 381.0h.9v.9h-.9z"/>
<path d="M63.6 381.1h.9v.9h-.9zM58.1 379.8h.9v.9h-.9zM69.3 377.2h.9v.9h-.9zM48.0 377.9h.9v.9h-.9zM62.8 370.8h.9v.9h-.9zM54.9 381.3h.9v.9h-.9zM59.6 379.3h.9v.9h-.9zM49.7 382.5h.9v.9h-.9zM76.8 378.9h.9v.9h-.9zM54.4 373.5h.9v.9h-.9zM69.0 379.9h.9v.9h-.9zM53.9 384.1h.9v.9h-.9z"/>
<path d="M67.9 382.0h.9v.9h-.9zM45.2 377.7h.9v.9h-.9zM66.6 373.8h.9v.9h-.9zM69.4 385.8h.9v.9h-.9zM70.3 376.2h.9v.9h-.9zM54.6 382.9h.9v.9h-.9zM69.9 385.0h.9v.9h-.9zM71.8 379.1h.9v.9h-.9zM57.3 370.5h.9v.9h-.9zM68.1 389.5h.9v.9h-.9zM56.8 376.7h.9v.9h-.9zM66.8 381.0h.9v.9h-.9z"/>
<path d="M48.7 375.2h.9v.9h-.9zM51.1 387.6h.9v.9h-.9zM54.5 382.5h.9v.9h-.9zM78.3 388.3h.9v.9h-.9zM73.8 386.9h.9v.9h-.9zM49.9 376.9h.9v.9h-.9zM54.4 377.4h.9v.9h-.9zM84.6 372.7h.9v.9h-.9zM66.0 373.7h.9v.9h-.9zM73.0 385.4h.9v.9h-.9zM56.4 388.0h.9v.9h-.9zM61.7 384.9h.9v.9h-.9z"/>
<path d="M63.8 376.6h.9v.9h-.9zM57.6 378.3h.9v.9h-.9zM66.6 379.8h.9v.9h-.9zM82.2 379.2h.9v.9h-.9zM56.8 375.6h.9v.9h-.9zM54.0 372.2h.9v.9h-.9zM52.1 382.6h.9v.9h-.9zM61.5 378.3h.9v.9h-.9zM64.2 383.9h.9v.9h-.9zM66.5 382.7h.9v.9h-.9zM56.0 377.6h.9v.9h-.9zM54.0 378.2h.9v.9h-.9z"/>
<path d="M53.6 377.0h.9v.9h-.9zM59.4 378.0h.9v.9h-.9zM58.6 376.7h.9v.9h-.9zM72.8 378.1h.9v.9h-.9zM51.9 379.4h.9v.9h-.9zM51.2 373.7h.9v.9h-.9zM61.8 371.6h.9v.9h-.9zM70.3 372.0h.9v.9h-.9zM52.9 381.2h.9v.9h-.9zM43.1 374.2h.9v.9h-.9zM50.2 377.6h.9v.9h-.9zM43.2 382.1h.9v.9h-.9z"/>
<path d="M59.7 380.3h.9v.9h-.9zM58.0 369.4h.9v.9h-.9zM59.6 372.9h.9v.9h-.9zM61.1 375.2h.9v.9h-.9zM58.1 377.9h.9v.9h-.9zM68.0 382.8h.9v.9h-.9zM52.0 378.5h.9v.9h-.9zM74.1 381.9h.9v.9h-.9zM54.4 378.1h.9v.9h-.9zM57.9 383.1h.9v.9h-.9zM61.3 380.7h.9v.9h-.9zM80.9 373.8h.9v.9h-.9z"/>
<path d="M51.9 370.8h.9v.9h-.9zM46.7 382.1h.9v.9h-.9zM63.6 386.4h.9v.9h-.9zM43.2 374.2h.9v.9h-.9zM74.0 384.3h.9v.9h-.9zM69.0 383.3h.9v.9h-.9zM61.3 379.0h.9v.9h-.9zM61.3 382.8h.9v.9h-.9zM59.5 380.4h.9v.9h-.9zM74.1 374.6h.9v.9h-.9zM54.2 381.2h.9v.9h-.9zM58.6 378.2h.9v.9h-.9z"/>
<path d="M79.9 381.8h.9v.9h-.9zM57.2 383.7h.9v.9h-.9zM83.7 375.2h.9v.9h-.9zM55.0 379.2h.9v.9h-.9zM55.3 388.4h.9v.9h-.9zM65.7 377.5h.9v.9h-.9zM65.4 375.7h.9v.9h-.9zM55.6 379.2h.9v.9h-.9zM82.5 370.0h.9v.9h-.9z"/>
</g>
<g fill="#000" fill-opacity="0.4" filter="url(#bl)">
<path d="M74.7 402.9h.9v.9h-.9zM76.0 407.4h.9v.9h-.9zM74.8 394.9h.9v.9h-.9zM72.5 387.0h.9v.9h-.9zM79.5 388.5h.9v.9h-.9zM72.5 389.2h.9v.9h-.9zM69.9 376.5h.9v.9h-.9zM71.5 393.1h.9v.9h-.9zM73.6 398.9h.9v.9h-.9zM72.4 388.4h.9v.9h-.9zM74.2 398.1h.9v.9h-.9zM69.4 381.0h.9v.9h-.9z"/>
<path d="M68.9 397.9h.9v.9h-.9zM77.0 389.2h.9v.9h-.9zM73.4 398.8h.9v.9h-.9zM78.3 391.4h.9v.9h-.9zM72.0 401.9h.9v.9h-.9zM82.6 408.3h.9v.9h-.9zM68.4 393.6h.9v.9h-.9zM71.8 392.0h.9v.9h-.9zM70.3 388.4h.9v.9h-.9zM73.0 405.0h.9v.9h-.9zM75.8 397.3h.9v.9h-.9zM73.1 388.0h.9v.9h-.9z"/>
<path d="M72.1 400.8h.9v.9h-.9zM76.3 407.9h.9v.9h-.9zM74.0 393.4h.9v.9h-.9zM66.5 392.3h.9v.9h-.9zM66.1 399.6h.9v.9h-.9zM70.5 391.7h.9v.9h-.9zM67.6 386.9h.9v.9h-.9zM69.3 398.6h.9v.9h-.9zM74.0 385.6h.9v.9h-.9zM65.3 388.5h.9v.9h-.9zM71.1 384.6h.9v.9h-.9zM75.4 393.0h.9v.9h-.9z"/>
<path d="M73.4 389.3h.9v.9h-.9zM70.7 388.7h.9v.9h-.9zM66.6 393.8h.9v.9h-.9zM74.6 382.3h.9v.9h-.9zM73.4 400.9h.9v.9h-.9zM73.9 402.2h.9v.9h-.9zM71.9 392.4h.9v.9h-.9zM67.8 384.2h.9v.9h-.9zM65.7 383.2h.9v.9h-.9zM74.0 397.0h.9v.9h-.9zM77.7 396.3h.9v.9h-.9zM69.0 393.8h.9v.9h-.9z"/>
<path d="M72.4 404.6h.9v.9h-.9zM80.8 403.5h.9v.9h-.9zM68.5 387.1h.9v.9h-.9zM73.8 388.6h.9v.9h-.9zM75.1 398.7h.9v.9h-.9zM76.4 396.3h.9v.9h-.9zM69.5 385.5h.9v.9h-.9zM72.5 401.6h.9v.9h-.9zM79.3 402.8h.9v.9h-.9zM74.5 398.3h.9v.9h-.9zM76.3 403.4h.9v.9h-.9zM76.4 384.5h.9v.9h-.9z"/>
<path d="M76.8 397.6h.9v.9h-.9zM71.2 395.5h.9v.9h-.9zM74.2 393.2h.9v.9h-.9zM66.2 390.2h.9v.9h-.9zM75.2 393.8h.9v.9h-.9zM66.6 392.7h.9v.9h-.9zM75.9 395.7h.9v.9h-.9zM74.7 391.5h.9v.9h-.9zM70.4 395.1h.9v.9h-.9zM71.6 393.5h.9v.9h-.9zM86.0 404.6h.9v.9h-.9zM73.5 382.5h.9v.9h-.9z"/>
<path d="M73.4 398.3h.9v.9h-.9zM70.2 389.9h.9v.9h-.9zM64.0 392.0h.9v.9h-.9zM70.6 396.3h.9v.9h-.9zM78.5 394.8h.9v.9h-.9zM76.9 396.7h.9v.9h-.9zM72.2 390.7h.9v.9h-.9zM69.6 399.8h.9v.9h-.9zM76.5 388.1h.9v.9h-.9zM76.4 389.9h.9v.9h-.9zM67.0 397.8h.9v.9h-.9zM67.9 398.2h.9v.9h-.9z"/>
<path d="M73.8 399.4h.9v.9h-.9zM75.0 401.8h.9v.9h-.9zM74.4 397.6h.9v.9h-.9zM74.0 400.8h.9v.9h-.9zM71.4 399.0h.9v.9h-.9zM79.0 395.7h.9v.9h-.9zM74.8 390.5h.9v.9h-.9zM71.8 394.1h.9v.9h-.9zM71.6 386.4h.9v.9h-.9zM72.9 394.2h.9v.9h-.9zM74.3 398.4h.9v.9h-.9zM65.9 398.7h.9v.9h-.9z"/>
<path d="M72.3 387.5h.9v.9h-.9zM71.5 395.2h.9v.9h-.9zM76.5 392.4h.9v.9h-.9zM73.6 382.7h.9v.9h-.9zM73.7 392.6h.9v.9h-.9zM71.3 398.0h.9v.9h-.9zM80.2 403.7h.9v.9h-.9zM69.9 401.6h.9v.9h-.9zM71.7 392.0h.9v.9h-.9zM70.7 394.8h.9v.9h-.9zM75.2 395.1h.9v.9h-.9zM72.2 391.6h.9v.9h-.9z"/>
<path d="M71.4 398.6h.9v.9h-.9zM70.9 390.9h.9v.9h-.9z"/>
</g>
<g fill="#000" fill-opacity="0.3" filter="url(#bl)">
<path d="M63.3 381.0h.9v.9h-.9zM63.0 372.4h.9v.9h-.9zM71.3 396.5h.9v.9h-.9zM62.1 408.6h.9v.9h-.9zM55.4 396.6h.9v.9h-.9zM72.2 383.6h.9v.9h-.9zM62.9 400.7h.9v.9h-.9zM66.8 393.4h.9v.9h-.9zM84.1 392.6h.9v.9h-.9zM44.4 381.2h.9v.9h-.9zM76.8 388.5h.9v.9h-.9zM52.0 366.4h.9v.9h-.9z"/>
<path d="M70.2 407.9h.9v.9h-.9zM49.8 364.1h.9v.9h-.9zM72.4 383.5h.9v.9h-.9zM62.2 386.1h.9v.9h-.9zM54.3 395.3h.9v.9h-.9zM77.9 394.4h.9v.9h-.9zM58.8 402.4h.9v.9h-.9zM64.6 396.9h.9v.9h-.9zM53.9 397.8h.9v.9h-.9zM75.6 405.4h.9v.9h-.9zM66.4 395.3h.9v.9h-.9zM58.6 400.5h.9v.9h-.9z"/>
<path d="M76.0 402.9h.9v.9h-.9zM61.0 375.5h.9v.9h-.9zM65.1 387.5h.9v.9h-.9zM56.4 397.2h.9v.9h-.9zM78.2 394.7h.9v.9h-.9zM80.3 394.7h.9v.9h-.9zM53.5 383.1h.9v.9h-.9zM61.5 398.2h.9v.9h-.9zM77.9 391.6h.9v.9h-.9zM79.1 380.3h.9v.9h-.9zM64.6 407.8h.9v.9h-.9zM71.7 402.4h.9v.9h-.9z"/>
<path d="M41.8 370.2h.9v.9h-.9zM54.9 401.9h.9v.9h-.9zM86.9 382.7h.9v.9h-.9zM53.4 378.0h.9v.9h-.9zM54.6 396.6h.9v.9h-.9zM62.0 412.3h.9v.9h-.9zM75.3 381.9h.9v.9h-.9zM69.1 388.2h.9v.9h-.9zM76.2 400.8h.9v.9h-.9zM61.6 400.6h.9v.9h-.9zM73.3 389.0h.9v.9h-.9zM69.3 398.1h.9v.9h-.9z"/>
<path d="M62.0 382.1h.9v.9h-.9zM82.3 390.1h.9v.9h-.9z"/>
</g>
<rect x="39.30" y="352.90" width="73.10" height="67.70" rx="1" fill="none" stroke="#8a8a8a" stroke-width="1.1"/>
<line x1="65.50" y1="352.90" x2="65.50" y2="420.60" stroke="#808080" stroke-width="1"/>
<text x="42.10" y="363.60" font-size="9.6" text-anchor="start" >53.6</text>
<text x="110.20" y="363.60" font-size="9.6" text-anchor="end" >28.5</text>
<text x="110.20" y="418.20" font-size="9.6" text-anchor="end" >14.9</text>
<text x="65.00" y="350.00" font-size="10.4" text-anchor="start" >f/wt</text>
<line x1="36.80" y1="359.50" x2="39.30" y2="359.50" stroke="#555" stroke-width="0.9"/>
<text x="32.1" y="360.1" font-size="4.2" fill="#555" style="stroke:none">10<tspan dy="-1.6" font-size="3">1</tspan></text>
<line x1="38.10" y1="354.32" x2="39.30" y2="354.32" stroke="#777" stroke-width="0.6"/>
<line x1="36.80" y1="376.70" x2="39.30" y2="376.70" stroke="#555" stroke-width="0.9"/>
<text x="32.1" y="377.3" font-size="4.2" fill="#555" style="stroke:none">10<tspan dy="-1.6" font-size="3">2</tspan></text>
<line x1="38.10" y1="371.52" x2="39.30" y2="371.52" stroke="#777" stroke-width="0.6"/>
<line x1="38.10" y1="368.49" x2="39.30" y2="368.49" stroke="#777" stroke-width="0.6"/>
<line x1="38.10" y1="366.34" x2="39.30" y2="366.34" stroke="#777" stroke-width="0.6"/>
<line x1="38.10" y1="364.68" x2="39.30" y2="364.68" stroke="#777" stroke-width="0.6"/>
<line x1="38.10" y1="363.32" x2="39.30" y2="363.32" stroke="#777" stroke-width="0.6"/>
<line x1="38.10" y1="362.16" x2="39.30" y2="362.16" stroke="#777" stroke-width="0.6"/>
<line x1="38.10" y1="361.17" x2="39.30" y2="361.17" stroke="#777" stroke-width="0.6"/>
<line x1="38.10" y1="360.29" x2="39.30" y2="360.29" stroke="#777" stroke-width="0.6"/>
<line x1="36.80" y1="393.90" x2="39.30" y2="393.90" stroke="#555" stroke-width="0.9"/>
<text x="32.1" y="394.5" font-size="4.2" fill="#555" style="stroke:none">10<tspan dy="-1.6" font-size="3">3</tspan></text>
<line x1="38.10" y1="388.72" x2="39.30" y2="388.72" stroke="#777" stroke-width="0.6"/>
<line x1="38.10" y1="385.69" x2="39.30" y2="385.69" stroke="#777" stroke-width="0.6"/>
<line x1="38.10" y1="383.54" x2="39.30" y2="383.54" stroke="#777" stroke-width="0.6"/>
<line x1="38.10" y1="381.88" x2="39.30" y2="381.88" stroke="#777" stroke-width="0.6"/>
<line x1="38.10" y1="380.52" x2="39.30" y2="380.52" stroke="#777" stroke-width="0.6"/>
<line x1="38.10" y1="379.36" x2="39.30" y2="379.36" stroke="#777" stroke-width="0.6"/>
<line x1="38.10" y1="378.37" x2="39.30" y2="378.37" stroke="#777" stroke-width="0.6"/>
<line x1="38.10" y1="377.49" x2="39.30" y2="377.49" stroke="#777" stroke-width="0.6"/>
<line x1="36.80" y1="411.10" x2="39.30" y2="411.10" stroke="#555" stroke-width="0.9"/>
<text x="32.1" y="411.7" font-size="4.2" fill="#555" style="stroke:none">10<tspan dy="-1.6" font-size="3">4</tspan></text>
<line x1="38.10" y1="405.92" x2="39.30" y2="405.92" stroke="#777" stroke-width="0.6"/>
<line x1="38.10" y1="402.89" x2="39.30" y2="402.89" stroke="#777" stroke-width="0.6"/>
<line x1="38.10" y1="400.74" x2="39.30" y2="400.74" stroke="#777" stroke-width="0.6"/>
<line x1="38.10" y1="399.08" x2="39.30" y2="399.08" stroke="#777" stroke-width="0.6"/>
<line x1="38.10" y1="397.72" x2="39.30" y2="397.72" stroke="#777" stroke-width="0.6"/>
<line x1="38.10" y1="396.56" x2="39.30" y2="396.56" stroke="#777" stroke-width="0.6"/>
<line x1="38.10" y1="395.57" x2="39.30" y2="395.57" stroke="#777" stroke-width="0.6"/>
<line x1="38.10" y1="394.69" x2="39.30" y2="394.69" stroke="#777" stroke-width="0.6"/>
<line x1="49.80" y1="420.60" x2="49.80" y2="423.10" stroke="#555" stroke-width="0.9"/>
<text x="47.6" y="426.8" font-size="4.2" fill="#555" style="stroke:none">10<tspan dy="-1.6" font-size="3">1</tspan></text>
<line x1="55.22" y1="420.60" x2="55.22" y2="421.80" stroke="#777" stroke-width="0.6"/>
<line x1="58.39" y1="420.60" x2="58.39" y2="421.80" stroke="#777" stroke-width="0.6"/>
<line x1="60.64" y1="420.60" x2="60.64" y2="421.80" stroke="#777" stroke-width="0.6"/>
<line x1="62.38" y1="420.60" x2="62.38" y2="421.80" stroke="#777" stroke-width="0.6"/>
<line x1="63.81" y1="420.60" x2="63.81" y2="421.80" stroke="#777" stroke-width="0.6"/>
<line x1="65.01" y1="420.60" x2="65.01" y2="421.80" stroke="#777" stroke-width="0.6"/>
<line x1="66.06" y1="420.60" x2="66.06" y2="421.80" stroke="#777" stroke-width="0.6"/>
<line x1="66.98" y1="420.60" x2="66.98" y2="421.80" stroke="#777" stroke-width="0.6"/>
<line x1="67.80" y1="420.60" x2="67.80" y2="423.10" stroke="#555" stroke-width="0.9"/>
<text x="65.6" y="426.8" font-size="4.2" fill="#555" style="stroke:none">10<tspan dy="-1.6" font-size="3">2</tspan></text>
<line x1="73.22" y1="420.60" x2="73.22" y2="421.80" stroke="#777" stroke-width="0.6"/>
<line x1="76.39" y1="420.60" x2="76.39" y2="421.80" stroke="#777" stroke-width="0.6"/>
<line x1="78.64" y1="420.60" x2="78.64" y2="421.80" stroke="#777" stroke-width="0.6"/>
<line x1="80.38" y1="420.60" x2="80.38" y2="421.80" stroke="#777" stroke-width="0.6"/>
<line x1="81.81" y1="420.60" x2="81.81" y2="421.80" stroke="#777" stroke-width="0.6"/>
<line x1="83.01" y1="420.60" x2="83.01" y2="421.80" stroke="#777" stroke-width="0.6"/>
<line x1="84.06" y1="420.60" x2="84.06" y2="421.80" stroke="#777" stroke-width="0.6"/>
<line x1="84.98" y1="420.60" x2="84.98" y2="421.80" stroke="#777" stroke-width="0.6"/>
<line x1="85.80" y1="420.60" x2="85.80" y2="423.10" stroke="#555" stroke-width="0.9"/>
<text x="83.6" y="426.8" font-size="4.2" fill="#555" style="stroke:none">10<tspan dy="-1.6" font-size="3">3</tspan></text>
<line x1="91.22" y1="420.60" x2="91.22" y2="421.80" stroke="#777" stroke-width="0.6"/>
<line x1="94.39" y1="420.60" x2="94.39" y2="421.80" stroke="#777" stroke-width="0.6"/>
<line x1="96.64" y1="420.60" x2="96.64" y2="421.80" stroke="#777" stroke-width="0.6"/>
<line x1="98.38" y1="420.60" x2="98.38" y2="421.80" stroke="#777" stroke-width="0.6"/>
<line x1="99.81" y1="420.60" x2="99.81" y2="421.80" stroke="#777" stroke-width="0.6"/>
<line x1="101.01" y1="420.60" x2="101.01" y2="421.80" stroke="#777" stroke-width="0.6"/>
<line x1="102.06" y1="420.60" x2="102.06" y2="421.80" stroke="#777" stroke-width="0.6"/>
<line x1="102.98" y1="420.60" x2="102.98" y2="421.80" stroke="#777" stroke-width="0.6"/>
<line x1="103.80" y1="420.60" x2="103.80" y2="423.10" stroke="#555" stroke-width="0.9"/>
<text x="101.6" y="426.8" font-size="4.2" fill="#555" style="stroke:none">10<tspan dy="-1.6" font-size="3">4</tspan></text>
<line x1="109.22" y1="420.60" x2="109.22" y2="421.80" stroke="#777" stroke-width="0.6"/>
<g fill="#000" fill-opacity="0.4" filter="url(#bl)">
<path d="M140.5 381.5h.9v.9h-.9zM144.9 380.0h.9v.9h-.9zM149.7 381.1h.9v.9h-.9zM145.0 384.8h.9v.9h-.9zM144.1 378.3h.9v.9h-.9zM140.8 379.9h.9v.9h-.9zM148.5 382.8h.9v.9h-.9zM150.3 384.9h.9v.9h-.9zM152.5 382.4h.9v.9h-.9zM151.2 382.4h.9v.9h-.9zM144.0 382.8h.9v.9h-.9zM146.4 380.7h.9v.9h-.9z"/>
<path d="M153.8 382.7h.9v.9h-.9zM144.3 380.9h.9v.9h-.9zM155.2 380.6h.9v.9h-.9zM149.0 382.4h.9v.9h-.9zM148.2 382.4h.9v.9h-.9zM144.4 380.1h.9v.9h-.9zM145.6 380.4h.9v.9h-.9zM149.3 384.4h.9v.9h-.9zM142.8 382.3h.9v.9h-.9zM142.4 379.6h.9v.9h-.9zM145.3 381.3h.9v.9h-.9zM144.5 375.6h.9v.9h-.9z"/>
<path d="M151.5 380.5h.9v.9h-.9zM143.8 382.6h.9v.9h-.9zM143.9 378.1h.9v.9h-.9zM148.1 382.0h.9v.9h-.9zM143.0 382.9h.9v.9h-.9zM147.6 378.7h.9v.9h-.9zM153.0 381.7h.9v.9h-.9zM141.8 382.1h.9v.9h-.9zM146.7 383.2h.9v.9h-.9zM141.0 383.3h.9v.9h-.9zM149.8 382.6h.9v.9h-.9zM148.6 383.9h.9v.9h-.9z"/>
<path d="M149.0 381.4h.9v.9h-.9zM143.0 383.5h.9v.9h-.9zM150.0 381.7h.9v.9h-.9zM146.8 382.7h.9v.9h-.9zM136.5 381.8h.9v.9h-.9zM136.6 381.6h.9v.9h-.9zM150.3 385.1h.9v.9h-.9zM144.4 382.0h.9v.9h-.9zM145.9 376.4h.9v.9h-.9zM149.0 381.1h.9v.9h-.9zM146.5 379.1h.9v.9h-.9zM146.0 381.3h.9v.9h-.9z"/>
<path d="M151.1 381.7h.9v.9h-.9zM159.6 380.2h.9v.9h-.9zM145.2 381.0h.9v.9h-.9zM143.1 384.3h.9v.9h-.9zM148.7 378.4h.9v.9h-.9zM146.6 383.5h.9v.9h-.9zM140.7 381.4h.9v.9h-.9zM145.3 386.1h.9v.9h-.9zM147.8 380.2h.9v.9h-.9zM144.0 385.1h.9v.9h-.9zM144.4 386.0h.9v.9h-.9zM140.2 380.7h.9v.9h-.9z"/>
<path d="M145.3 379.6h.9v.9h-.9zM145.4 382.6h.9v.9h-.9zM143.6 378.0h.9v.9h-.9zM151.4 384.2h.9v.9h-.9zM143.5 381.7h.9v.9h-.9zM136.3 383.3h.9v.9h-.9zM141.1 379.9h.9v.9h-.9zM154.5 378.4h.9v.9h-.9zM146.3 378.8h.9v.9h-.9zM139.1 378.6h.9v.9h-.9zM147.2 378.3h.9v.9h-.9zM143.9 382.6h.9v.9h-.9z"/>
<path d="M145.6 378.3h.9v.9h-.9zM151.9 381.4h.9v.9h-.9zM151.6 378.9h.9v.9h-.9zM152.7 378.2h.9v.9h-.9zM139.5 380.2h.9v.9h-.9zM144.7 381.7h.9v.9h-.9zM144.0 382.4h.9v.9h-.9zM151.3 379.7h.9v.9h-.9zM140.9 380.2h.9v.9h-.9zM149.3 382.8h.9v.9h-.9zM144.8 379.0h.9v.9h-.9zM146.1 383.1h.9v.9h-.9z"/>
<path d="M143.4 383.9h.9v.9h-.9zM147.0 381.7h.9v.9h-.9zM143.8 384.0h.9v.9h-.9zM146.3 377.9h.9v.9h-.9zM149.3 380.2h.9v.9h-.9zM150.3 381.5h.9v.9h-.9zM143.8 381.5h.9v.9h-.9zM144.3 379.3h.9v.9h-.9zM146.2 382.9h.9v.9h-.9zM146.4 380.9h.9v.9h-.9zM144.0 382.3h.9v.9h-.9z"/>
</g>
<g fill="#000" fill-opacity="0.3" filter="url(#bl)">
<path d="M150.6 390.1h.9v.9h-.9zM151.3 397.2h.9v.9h-.9zM135.6 383.9h.9v.9h-.9zM152.7 389.7h.9v.9h-.9zM135.9 376.8h.9v.9h-.9zM148.0 390.7h.9v.9h-.9zM157.2 375.0h.9v.9h-.9zM149.4 391.4h.9v.9h-.9zM148.6 378.0h.9v.9h-.9zM142.5 376.2h.9v.9h-.9zM158.0 382.7h.9v.9h-.9zM144.9 378.9h.9v.9h-.9z"/>
<path d="M147.2 378.7h.9v.9h-.9zM140.4 384.0h.9v.9h-.9zM146.5 387.0h.9v.9h-.9zM149.5 391.4h.9v.9h-.9zM148.0 385.8h.9v.9h-.9zM150.2 379.4h.9v.9h-.9zM158.0 380.8h.9v.9h-.9zM135.5 391.8h.9v.9h-.9zM153.6 380.8h.9v.9h-.9zM156.1 390.1h.9v.9h-.9zM154.0 377.1h.9v.9h-.9zM149.8 378.0h.9v.9h-.9z"/>
<path d="M143.4 380.8h.9v.9h-.9zM141.5 387.2h.9v.9h-.9zM142.0 388.0h.9v.9h-.9zM149.7 380.6h.9v.9h-.9zM149.7 388.4h.9v.9h-.9zM157.6 382.7h.9v.9h-.9zM162.4 387.7h.9v.9h-.9zM158.4 376.1h.9v.9h-.9zM139.8 391.6h.9v.9h-.9zM146.5 387.1h.9v.9h-.9zM158.0 375.5h.9v.9h-.9zM152.0 396.0h.9v.9h-.9z"/>
<path d="M154.8 384.8h.9v.9h-.9zM152.9 384.3h.9v.9h-.9zM154.6 392.1h.9v.9h-.9zM146.5 387.7h.9v.9h-.9zM150.8 388.7h.9v.9h-.9zM155.1 377.8h.9v.9h-.9zM157.7 389.5h.9v.9h-.9zM139.5 382.5h.9v.9h-.9zM136.6 382.5h.9v.9h-.9z"/>
</g>
<g fill="#000" fill-opacity="0.25" filter="url(#bl)">
<path d="M167.1 382.9h.9v.9h-.9zM154.9 385.4h.9v.9h-.9zM155.7 386.3h.9v.9h-.9zM151.6 398.5h.9v.9h-.9zM161.1 385.9h.9v.9h-.9zM174.4 388.2h.9v.9h-.9zM173.4 382.1h.9v.9h-.9zM179.0 389.3h.9v.9h-.9zM152.9 397.1h.9v.9h-.9zM148.6 383.6h.9v.9h-.9zM166.1 389.0h.9v.9h-.9zM167.9 394.6h.9v.9h-.9z"/>
<path d="M166.2 394.5h.9v.9h-.9zM171.3 393.4h.9v.9h-.9zM175.7 401.9h.9v.9h-.9zM141.7 377.5h.9v.9h-.9zM180.7 389.3h.9v.9h-.9zM165.5 392.3h.9v.9h-.9zM166.5 413.3h.9v.9h-.9zM155.6 393.9h.9v.9h-.9zM163.5 383.6h.9v.9h-.9zM153.8 390.9h.9v.9h-.9z"/>
</g>
<rect x="127.40" y="352.90" width="72.00" height="67.70" rx="1" fill="none" stroke="#8a8a8a" stroke-width="1.1"/>
<line x1="153.40" y1="352.90" x2="153.40" y2="420.60" stroke="#808080" stroke-width="1"/>
<text x="129.60" y="363.20" font-size="9.6" text-anchor="start" >72.7</text>
<text x="197.20" y="363.20" font-size="9.6" text-anchor="end" >15.7</text>
<text x="197.20" y="418.00" font-size="9.6" text-anchor="end" >6.6</text>
<text x="152.50" y="350.00" font-size="10.4" text-anchor="start" >f/null</text>
<line x1="124.90" y1="359.50" x2="127.40" y2="359.50" stroke="#555" stroke-width="0.9"/>
<text x="120.2" y="360.1" font-size="4.2" fill="#555" style="stroke:none">10<tspan dy="-1.6" font-size="3">1</tspan></text>
<line x1="126.20" y1="354.32" x2="127.40" y2="354.32" stroke="#777" stroke-width="0.6"/>
<line x1="124.90" y1="376.70" x2="127.40" y2="376.70" stroke="#555" stroke-width="0.9"/>
<text x="120.2" y="377.3" font-size="4.2" fill="#555" style="stroke:none">10<tspan dy="-1.6" font-size="3">2</tspan></text>
<line x1="126.20" y1="371.52" x2="127.40" y2="371.52" stroke="#777" stroke-width="0.6"/>
<line x1="126.20" y1="368.49" x2="127.40" y2="368.49" stroke="#777" stroke-width="0.6"/>
<line x1="126.20" y1="366.34" x2="127.40" y2="366.34" stroke="#777" stroke-width="0.6"/>
<line x1="126.20" y1="364.68" x2="127.40" y2="364.68" stroke="#777" stroke-width="0.6"/>
<line x1="126.20" y1="363.32" x2="127.40" y2="363.32" stroke="#777" stroke-width="0.6"/>
<line x1="126.20" y1="362.16" x2="127.40" y2="362.16" stroke="#777" stroke-width="0.6"/>
<line x1="126.20" y1="361.17" x2="127.40" y2="361.17" stroke="#777" stroke-width="0.6"/>
<line x1="126.20" y1="360.29" x2="127.40" y2="360.29" stroke="#777" stroke-width="0.6"/>
<line x1="124.90" y1="393.90" x2="127.40" y2="393.90" stroke="#555" stroke-width="0.9"/>
<text x="120.2" y="394.5" font-size="4.2" fill="#555" style="stroke:none">10<tspan dy="-1.6" font-size="3">3</tspan></text>
<line x1="126.20" y1="388.72" x2="127.40" y2="388.72" stroke="#777" stroke-width="0.6"/>
<line x1="126.20" y1="385.69" x2="127.40" y2="385.69" stroke="#777" stroke-width="0.6"/>
<line x1="126.20" y1="383.54" x2="127.40" y2="383.54" stroke="#777" stroke-width="0.6"/>
<line x1="126.20" y1="381.88" x2="127.40" y2="381.88" stroke="#777" stroke-width="0.6"/>
<line x1="126.20" y1="380.52" x2="127.40" y2="380.52" stroke="#777" stroke-width="0.6"/>
<line x1="126.20" y1="379.36" x2="127.40" y2="379.36" stroke="#777" stroke-width="0.6"/>
<line x1="126.20" y1="378.37" x2="127.40" y2="378.37" stroke="#777" stroke-width="0.6"/>
<line x1="126.20" y1="377.49" x2="127.40" y2="377.49" stroke="#777" stroke-width="0.6"/>
<line x1="124.90" y1="411.10" x2="127.40" y2="411.10" stroke="#555" stroke-width="0.9"/>
<text x="120.2" y="411.7" font-size="4.2" fill="#555" style="stroke:none">10<tspan dy="-1.6" font-size="3">4</tspan></text>
<line x1="126.20" y1="405.92" x2="127.40" y2="405.92" stroke="#777" stroke-width="0.6"/>
<line x1="126.20" y1="402.89" x2="127.40" y2="402.89" stroke="#777" stroke-width="0.6"/>
<line x1="126.20" y1="400.74" x2="127.40" y2="400.74" stroke="#777" stroke-width="0.6"/>
<line x1="126.20" y1="399.08" x2="127.40" y2="399.08" stroke="#777" stroke-width="0.6"/>
<line x1="126.20" y1="397.72" x2="127.40" y2="397.72" stroke="#777" stroke-width="0.6"/>
<line x1="126.20" y1="396.56" x2="127.40" y2="396.56" stroke="#777" stroke-width="0.6"/>
<line x1="126.20" y1="395.57" x2="127.40" y2="395.57" stroke="#777" stroke-width="0.6"/>
<line x1="126.20" y1="394.69" x2="127.40" y2="394.69" stroke="#777" stroke-width="0.6"/>
<line x1="137.90" y1="420.60" x2="137.90" y2="423.10" stroke="#555" stroke-width="0.9"/>
<text x="135.7" y="426.8" font-size="4.2" fill="#555" style="stroke:none">10<tspan dy="-1.6" font-size="3">1</tspan></text>
<line x1="143.32" y1="420.60" x2="143.32" y2="421.80" stroke="#777" stroke-width="0.6"/>
<line x1="146.49" y1="420.60" x2="146.49" y2="421.80" stroke="#777" stroke-width="0.6"/>
<line x1="148.74" y1="420.60" x2="148.74" y2="421.80" stroke="#777" stroke-width="0.6"/>
<line x1="150.48" y1="420.60" x2="150.48" y2="421.80" stroke="#777" stroke-width="0.6"/>
<line x1="151.91" y1="420.60" x2="151.91" y2="421.80" stroke="#777" stroke-width="0.6"/>
<line x1="153.11" y1="420.60" x2="153.11" y2="421.80" stroke="#777" stroke-width="0.6"/>
<line x1="154.16" y1="420.60" x2="154.16" y2="421.80" stroke="#777" stroke-width="0.6"/>
<line x1="155.08" y1="420.60" x2="155.08" y2="421.80" stroke="#777" stroke-width="0.6"/>
<line x1="155.90" y1="420.60" x2="155.90" y2="423.10" stroke="#555" stroke-width="0.9"/>
<text x="153.7" y="426.8" font-size="4.2" fill="#555" style="stroke:none">10<tspan dy="-1.6" font-size="3">2</tspan></text>
<line x1="161.32" y1="420.60" x2="161.32" y2="421.80" stroke="#777" stroke-width="0.6"/>
<line x1="164.49" y1="420.60" x2="164.49" y2="421.80" stroke="#777" stroke-width="0.6"/>
<line x1="166.74" y1="420.60" x2="166.74" y2="421.80" stroke="#777" stroke-width="0.6"/>
<line x1="168.48" y1="420.60" x2="168.48" y2="421.80" stroke="#777" stroke-width="0.6"/>
<line x1="169.91" y1="420.60" x2="169.91" y2="421.80" stroke="#777" stroke-width="0.6"/>
<line x1="171.11" y1="420.60" x2="171.11" y2="421.80" stroke="#777" stroke-width="0.6"/>
<line x1="172.16" y1="420.60" x2="172.16" y2="421.80" stroke="#777" stroke-width="0.6"/>
<line x1="173.08" y1="420.60" x2="173.08" y2="421.80" stroke="#777" stroke-width="0.6"/>
<line x1="173.90" y1="420.60" x2="173.90" y2="423.10" stroke="#555" stroke-width="0.9"/>
<text x="171.7" y="426.8" font-size="4.2" fill="#555" style="stroke:none">10<tspan dy="-1.6" font-size="3">3</tspan></text>
<line x1="179.32" y1="420.60" x2="179.32" y2="421.80" stroke="#777" stroke-width="0.6"/>
<line x1="182.49" y1="420.60" x2="182.49" y2="421.80" stroke="#777" stroke-width="0.6"/>
<line x1="184.74" y1="420.60" x2="184.74" y2="421.80" stroke="#777" stroke-width="0.6"/>
<line x1="186.48" y1="420.60" x2="186.48" y2="421.80" stroke="#777" stroke-width="0.6"/>
<line x1="187.91" y1="420.60" x2="187.91" y2="421.80" stroke="#777" stroke-width="0.6"/>
<line x1="189.11" y1="420.60" x2="189.11" y2="421.80" stroke="#777" stroke-width="0.6"/>
<line x1="190.16" y1="420.60" x2="190.16" y2="421.80" stroke="#777" stroke-width="0.6"/>
<line x1="191.08" y1="420.60" x2="191.08" y2="421.80" stroke="#777" stroke-width="0.6"/>
<line x1="191.90" y1="420.60" x2="191.90" y2="423.10" stroke="#555" stroke-width="0.9"/>
<text x="189.7" y="426.8" font-size="4.2" fill="#555" style="stroke:none">10<tspan dy="-1.6" font-size="3">4</tspan></text>
<line x1="197.32" y1="420.60" x2="197.32" y2="421.80" stroke="#777" stroke-width="0.6"/>
<g fill="#000" fill-opacity="0.4" filter="url(#bl)">
<path d="M251.3 387.0h.9v.9h-.9zM245.7 376.1h.9v.9h-.9zM254.3 384.2h.9v.9h-.9zM255.4 383.9h.9v.9h-.9zM251.6 380.3h.9v.9h-.9zM246.6 381.6h.9v.9h-.9zM249.6 385.4h.9v.9h-.9zM257.7 378.1h.9v.9h-.9zM258.4 382.2h.9v.9h-.9zM261.8 387.3h.9v.9h-.9zM257.3 376.4h.9v.9h-.9zM258.1 377.2h.9v.9h-.9z"/>
<path d="M265.5 380.2h.9v.9h-.9zM251.3 388.4h.9v.9h-.9zM244.2 380.6h.9v.9h-.9zM246.4 384.6h.9v.9h-.9zM250.4 383.5h.9v.9h-.9zM258.1 376.7h.9v.9h-.9zM264.2 381.5h.9v.9h-.9zM239.5 380.2h.9v.9h-.9zM260.0 385.7h.9v.9h-.9zM247.3 382.7h.9v.9h-.9zM254.9 385.8h.9v.9h-.9zM251.8 385.7h.9v.9h-.9z"/>
<path d="M245.7 380.0h.9v.9h-.9zM258.3 384.8h.9v.9h-.9zM252.5 384.4h.9v.9h-.9zM254.6 385.0h.9v.9h-.9zM262.4 384.1h.9v.9h-.9zM259.6 381.1h.9v.9h-.9zM248.4 374.5h.9v.9h-.9zM256.3 382.5h.9v.9h-.9zM257.3 376.1h.9v.9h-.9zM249.0 380.5h.9v.9h-.9zM262.9 378.1h.9v.9h-.9zM256.6 388.2h.9v.9h-.9z"/>
<path d="M243.0 385.7h.9v.9h-.9zM265.9 388.7h.9v.9h-.9zM241.8 378.8h.9v.9h-.9zM254.6 386.4h.9v.9h-.9zM242.7 379.9h.9v.9h-.9zM243.8 386.1h.9v.9h-.9zM248.4 384.3h.9v.9h-.9zM258.2 386.3h.9v.9h-.9zM256.4 383.5h.9v.9h-.9zM262.4 384.0h.9v.9h-.9zM242.6 380.6h.9v.9h-.9zM260.4 382.9h.9v.9h-.9z"/>
<path d="M250.1 383.2h.9v.9h-.9zM280.1 382.2h.9v.9h-.9zM256.9 383.9h.9v.9h-.9zM250.7 386.4h.9v.9h-.9zM260.0 383.7h.9v.9h-.9zM241.8 386.7h.9v.9h-.9zM259.2 382.1h.9v.9h-.9zM243.0 381.6h.9v.9h-.9zM248.7 379.6h.9v.9h-.9zM261.3 382.8h.9v.9h-.9zM263.1 379.1h.9v.9h-.9zM251.4 387.0h.9v.9h-.9z"/>
<path d="M255.6 379.9h.9v.9h-.9zM245.6 380.4h.9v.9h-.9zM252.2 384.7h.9v.9h-.9zM254.1 384.9h.9v.9h-.9zM259.8 382.8h.9v.9h-.9zM263.5 384.9h.9v.9h-.9zM251.4 381.8h.9v.9h-.9zM252.8 379.9h.9v.9h-.9zM241.9 382.5h.9v.9h-.9zM248.7 384.4h.9v.9h-.9zM248.0 382.7h.9v.9h-.9zM254.6 380.8h.9v.9h-.9z"/>
<path d="M254.5 379.9h.9v.9h-.9zM249.4 385.1h.9v.9h-.9zM256.1 382.4h.9v.9h-.9zM246.5 384.7h.9v.9h-.9zM269.3 375.0h.9v.9h-.9zM261.5 383.1h.9v.9h-.9zM261.9 386.3h.9v.9h-.9zM244.5 388.3h.9v.9h-.9zM248.0 381.5h.9v.9h-.9zM258.0 382.1h.9v.9h-.9zM255.1 380.6h.9v.9h-.9zM244.4 382.4h.9v.9h-.9z"/>
<path d="M243.9 386.9h.9v.9h-.9zM254.9 387.1h.9v.9h-.9zM242.6 375.3h.9v.9h-.9zM242.3 383.6h.9v.9h-.9zM240.9 377.7h.9v.9h-.9zM255.2 381.0h.9v.9h-.9zM258.4 385.1h.9v.9h-.9zM255.8 378.2h.9v.9h-.9zM245.7 390.0h.9v.9h-.9zM251.0 383.3h.9v.9h-.9zM253.9 382.3h.9v.9h-.9zM251.4 380.4h.9v.9h-.9z"/>
<path d="M248.6 375.5h.9v.9h-.9zM266.6 382.0h.9v.9h-.9zM242.1 384.1h.9v.9h-.9zM258.3 377.5h.9v.9h-.9zM248.6 387.4h.9v.9h-.9zM257.3 383.8h.9v.9h-.9zM261.0 381.9h.9v.9h-.9zM250.4 387.7h.9v.9h-.9zM251.3 382.1h.9v.9h-.9zM258.1 382.5h.9v.9h-.9zM242.7 388.8h.9v.9h-.9zM252.3 388.4h.9v.9h-.9z"/>
<path d="M257.0 379.3h.9v.9h-.9zM265.5 381.8h.9v.9h-.9zM245.8 382.3h.9v.9h-.9zM246.9 381.5h.9v.9h-.9zM245.5 384.6h.9v.9h-.9zM255.8 386.0h.9v.9h-.9zM266.5 383.3h.9v.9h-.9zM253.6 383.4h.9v.9h-.9zM246.2 380.5h.9v.9h-.9zM259.0 379.4h.9v.9h-.9zM254.9 387.3h.9v.9h-.9zM247.0 379.2h.9v.9h-.9z"/>
<path d="M253.6 381.8h.9v.9h-.9zM254.9 380.6h.9v.9h-.9zM254.5 380.4h.9v.9h-.9zM260.9 383.3h.9v.9h-.9zM257.5 380.9h.9v.9h-.9zM241.1 382.4h.9v.9h-.9zM252.4 386.1h.9v.9h-.9zM260.7 382.2h.9v.9h-.9zM252.4 379.0h.9v.9h-.9zM252.5 383.0h.9v.9h-.9zM249.4 378.7h.9v.9h-.9zM263.3 379.2h.9v.9h-.9z"/>
<path d="M266.3 386.3h.9v.9h-.9zM265.4 379.5h.9v.9h-.9zM257.9 377.6h.9v.9h-.9zM249.8 377.2h.9v.9h-.9zM246.8 380.6h.9v.9h-.9zM260.6 386.0h.9v.9h-.9zM249.8 381.4h.9v.9h-.9zM245.1 378.5h.9v.9h-.9zM257.6 379.7h.9v.9h-.9zM255.7 378.4h.9v.9h-.9zM244.6 380.5h.9v.9h-.9zM259.9 380.5h.9v.9h-.9z"/>
<path d="M258.9 381.1h.9v.9h-.9zM243.7 375.6h.9v.9h-.9zM248.9 379.1h.9v.9h-.9zM260.1 383.8h.9v.9h-.9zM239.4 385.1h.9v.9h-.9zM257.0 372.6h.9v.9h-.9zM244.2 383.1h.9v.9h-.9zM239.8 379.8h.9v.9h-.9zM256.9 383.1h.9v.9h-.9zM256.3 384.3h.9v.9h-.9zM245.5 390.2h.9v.9h-.9zM256.9 389.4h.9v.9h-.9z"/>
<path d="M250.5 384.1h.9v.9h-.9zM255.4 381.8h.9v.9h-.9zM255.2 383.1h.9v.9h-.9zM259.2 383.3h.9v.9h-.9zM253.1 383.9h.9v.9h-.9zM264.3 382.5h.9v.9h-.9zM257.5 382.7h.9v.9h-.9zM245.2 377.6h.9v.9h-.9zM247.6 376.4h.9v.9h-.9zM254.8 380.5h.9v.9h-.9zM262.5 383.5h.9v.9h-.9zM242.4 381.5h.9v.9h-.9z"/>
<path d="M253.0 380.0h.9v.9h-.9zM249.7 378.7h.9v.9h-.9zM246.7 383.2h.9v.9h-.9zM249.9 386.3h.9v.9h-.9zM249.6 387.1h.9v.9h-.9zM261.5 384.7h.9v.9h-.9zM260.4 387.5h.9v.9h-.9zM258.0 381.5h.9v.9h-.9zM254.0 379.8h.9v.9h-.9zM250.7 383.4h.9v.9h-.9zM248.5 382.6h.9v.9h-.9zM249.0 377.9h.9v.9h-.9z"/>
<path d="M241.0 384.5h.9v.9h-.9zM252.8 384.9h.9v.9h-.9zM251.7 382.2h.9v.9h-.9zM254.6 381.1h.9v.9h-.9zM263.5 385.5h.9v.9h-.9zM255.6 378.7h.9v.9h-.9zM248.1 382.9h.9v.9h-.9zM261.7 382.0h.9v.9h-.9zM252.2 383.9h.9v.9h-.9zM253.3 381.6h.9v.9h-.9zM243.3 386.2h.9v.9h-.9zM251.9 380.4h.9v.9h-.9z"/>
<path d="M251.5 377.8h.9v.9h-.9zM238.9 376.2h.9v.9h-.9zM255.3 377.7h.9v.9h-.9zM253.2 378.2h.9v.9h-.9zM246.3 379.8h.9v.9h-.9zM266.0 382.7h.9v.9h-.9zM247.5 384.9h.9v.9h-.9zM249.6 386.1h.9v.9h-.9zM239.7 385.6h.9v.9h-.9zM243.5 379.6h.9v.9h-.9zM253.8 378.5h.9v.9h-.9zM239.0 380.8h.9v.9h-.9z"/>
<path d="M249.7 376.6h.9v.9h-.9zM259.9 379.3h.9v.9h-.9zM247.1 381.3h.9v.9h-.9zM252.5 385.5h.9v.9h-.9zM259.2 382.8h.9v.9h-.9zM251.5 378.3h.9v.9h-.9zM254.7 380.4h.9v.9h-.9zM253.1 378.5h.9v.9h-.9zM249.5 381.5h.9v.9h-.9zM240.2 385.4h.9v.9h-.9zM251.0 377.8h.9v.9h-.9zM250.0 382.4h.9v.9h-.9z"/>
<path d="M249.3 378.6h.9v.9h-.9zM250.2 377.5h.9v.9h-.9zM265.6 388.2h.9v.9h-.9zM270.1 386.5h.9v.9h-.9zM244.5 380.1h.9v.9h-.9zM260.8 380.4h.9v.9h-.9zM249.2 381.9h.9v.9h-.9zM255.4 377.5h.9v.9h-.9zM252.3 383.6h.9v.9h-.9zM258.2 379.3h.9v.9h-.9zM266.7 383.4h.9v.9h-.9zM255.8 387.1h.9v.9h-.9z"/>
<path d="M260.5 386.7h.9v.9h-.9zM251.7 381.4h.9v.9h-.9zM245.9 380.9h.9v.9h-.9zM245.1 374.1h.9v.9h-.9zM247.3 378.7h.9v.9h-.9zM247.2 380.5h.9v.9h-.9zM248.1 382.3h.9v.9h-.9zM251.5 380.8h.9v.9h-.9zM247.0 381.6h.9v.9h-.9zM249.5 381.6h.9v.9h-.9zM263.0 382.8h.9v.9h-.9zM248.8 375.2h.9v.9h-.9z"/>
<path d="M240.4 372.2h.9v.9h-.9zM259.0 385.6h.9v.9h-.9zM248.7 380.5h.9v.9h-.9zM255.8 383.9h.9v.9h-.9zM249.5 377.8h.9v.9h-.9zM263.3 384.5h.9v.9h-.9zM247.1 381.8h.9v.9h-.9zM247.6 380.3h.9v.9h-.9zM248.8 385.4h.9v.9h-.9zM252.0 380.4h.9v.9h-.9zM246.5 382.9h.9v.9h-.9zM245.0 376.7h.9v.9h-.9z"/>
<path d="M250.9 387.2h.9v.9h-.9zM246.5 382.5h.9v.9h-.9zM250.4 386.0h.9v.9h-.9zM255.8 377.8h.9v.9h-.9zM266.0 382.0h.9v.9h-.9zM244.7 380.3h.9v.9h-.9zM252.5 385.6h.9v.9h-.9zM249.7 379.5h.9v.9h-.9zM262.6 387.2h.9v.9h-.9zM249.1 382.4h.9v.9h-.9zM255.0 381.0h.9v.9h-.9zM244.7 385.4h.9v.9h-.9z"/>
<path d="M243.2 375.9h.9v.9h-.9zM256.7 385.8h.9v.9h-.9zM258.5 379.5h.9v.9h-.9zM250.0 378.4h.9v.9h-.9zM247.8 373.9h.9v.9h-.9zM245.0 386.6h.9v.9h-.9zM242.6 387.7h.9v.9h-.9zM253.4 375.5h.9v.9h-.9zM259.6 378.8h.9v.9h-.9zM256.4 381.4h.9v.9h-.9zM249.2 381.4h.9v.9h-.9zM241.4 379.5h.9v.9h-.9z"/>
<path d="M248.8 387.9h.9v.9h-.9zM247.4 383.1h.9v.9h-.9zM255.7 386.1h.9v.9h-.9zM250.1 382.7h.9v.9h-.9zM244.6 390.4h.9v.9h-.9zM240.1 382.9h.9v.9h-.9zM249.2 382.6h.9v.9h-.9zM247.8 380.5h.9v.9h-.9zM260.0 385.2h.9v.9h-.9zM251.5 381.6h.9v.9h-.9zM253.5 381.8h.9v.9h-.9zM255.6 384.5h.9v.9h-.9z"/>
<path d="M255.9 376.8h.9v.9h-.9zM251.6 378.5h.9v.9h-.9zM255.6 381.1h.9v.9h-.9zM254.5 381.7h.9v.9h-.9zM259.6 386.5h.9v.9h-.9zM253.5 377.1h.9v.9h-.9zM252.1 388.6h.9v.9h-.9zM246.6 381.8h.9v.9h-.9zM271.7 387.6h.9v.9h-.9zM257.3 382.8h.9v.9h-.9zM241.5 387.5h.9v.9h-.9zM259.5 376.5h.9v.9h-.9z"/>
<path d="M251.2 381.6h.9v.9h-.9zM251.6 379.9h.9v.9h-.9zM272.1 379.2h.9v.9h-.9zM263.9 384.2h.9v.9h-.9zM252.2 383.5h.9v.9h-.9zM258.1 379.5h.9v.9h-.9zM249.2 386.1h.9v.9h-.9zM259.7 383.4h.9v.9h-.9zM242.6 376.7h.9v.9h-.9zM264.2 386.9h.9v.9h-.9zM256.3 383.4h.9v.9h-.9zM249.6 383.7h.9v.9h-.9z"/>
<path d="M261.8 384.6h.9v.9h-.9zM247.8 383.3h.9v.9h-.9zM247.9 381.8h.9v.9h-.9zM243.4 374.3h.9v.9h-.9zM243.8 382.7h.9v.9h-.9zM245.9 383.9h.9v.9h-.9zM247.7 383.1h.9v.9h-.9zM248.5 386.8h.9v.9h-.9zM249.0 382.2h.9v.9h-.9zM261.4 387.0h.9v.9h-.9zM242.9 387.0h.9v.9h-.9zM243.7 378.9h.9v.9h-.9z"/>
<path d="M245.5 385.4h.9v.9h-.9zM243.7 384.0h.9v.9h-.9zM255.6 381.5h.9v.9h-.9zM255.9 388.9h.9v.9h-.9zM265.1 379.3h.9v.9h-.9zM254.4 380.8h.9v.9h-.9zM251.2 380.3h.9v.9h-.9zM256.6 379.3h.9v.9h-.9zM242.3 382.3h.9v.9h-.9zM254.8 386.1h.9v.9h-.9zM257.7 379.3h.9v.9h-.9zM244.9 383.2h.9v.9h-.9z"/>
<path d="M254.4 384.5h.9v.9h-.9zM262.9 374.7h.9v.9h-.9zM247.4 383.9h.9v.9h-.9zM243.7 387.6h.9v.9h-.9zM251.6 384.1h.9v.9h-.9zM250.6 383.3h.9v.9h-.9zM255.5 383.9h.9v.9h-.9zM241.3 375.8h.9v.9h-.9zM251.6 384.7h.9v.9h-.9zM250.3 381.6h.9v.9h-.9zM260.9 384.3h.9v.9h-.9zM244.7 382.7h.9v.9h-.9z"/>
<path d="M250.6 382.3h.9v.9h-.9zM251.7 384.1h.9v.9h-.9zM252.2 383.3h.9v.9h-.9zM252.6 381.5h.9v.9h-.9zM247.8 383.0h.9v.9h-.9zM255.9 387.3h.9v.9h-.9zM272.1 379.9h.9v.9h-.9zM247.1 385.6h.9v.9h-.9zM249.0 382.6h.9v.9h-.9zM242.3 384.1h.9v.9h-.9zM240.7 385.4h.9v.9h-.9zM245.7 382.9h.9v.9h-.9z"/>
<path d="M260.2 379.4h.9v.9h-.9zM251.4 389.1h.9v.9h-.9zM241.2 382.6h.9v.9h-.9zM251.0 378.5h.9v.9h-.9zM242.9 386.3h.9v.9h-.9zM257.7 378.2h.9v.9h-.9zM258.8 379.1h.9v.9h-.9zM246.0 383.5h.9v.9h-.9zM251.4 383.9h.9v.9h-.9zM261.0 380.1h.9v.9h-.9zM256.7 383.1h.9v.9h-.9zM239.1 384.7h.9v.9h-.9z"/>
<path d="M260.3 377.6h.9v.9h-.9zM249.8 385.4h.9v.9h-.9zM259.5 380.9h.9v.9h-.9zM250.5 381.1h.9v.9h-.9zM242.6 382.5h.9v.9h-.9zM269.1 377.5h.9v.9h-.9zM252.1 379.0h.9v.9h-.9zM264.4 376.7h.9v.9h-.9zM259.5 383.6h.9v.9h-.9zM245.5 381.1h.9v.9h-.9zM252.8 387.8h.9v.9h-.9zM254.6 386.1h.9v.9h-.9z"/>
<path d="M260.8 382.5h.9v.9h-.9zM252.7 381.9h.9v.9h-.9zM265.4 386.4h.9v.9h-.9zM260.2 380.0h.9v.9h-.9zM250.1 384.7h.9v.9h-.9zM250.9 377.7h.9v.9h-.9zM240.4 383.7h.9v.9h-.9zM258.4 383.9h.9v.9h-.9zM264.7 377.0h.9v.9h-.9zM259.3 379.3h.9v.9h-.9zM254.3 383.2h.9v.9h-.9zM248.5 379.3h.9v.9h-.9z"/>
<path d="M249.7 381.8h.9v.9h-.9zM258.1 381.1h.9v.9h-.9zM244.6 378.6h.9v.9h-.9zM248.6 383.8h.9v.9h-.9zM245.4 380.9h.9v.9h-.9zM256.4 383.0h.9v.9h-.9zM268.6 383.7h.9v.9h-.9z"/>
</g>
<g fill="#000" fill-opacity="0.38" filter="url(#bl)">
<path d="M276.6 392.6h.9v.9h-.9zM259.1 377.2h.9v.9h-.9zM266.7 384.6h.9v.9h-.9zM280.4 386.8h.9v.9h-.9zM268.4 378.3h.9v.9h-.9zM274.7 383.0h.9v.9h-.9zM265.3 379.1h.9v.9h-.9zM277.0 382.9h.9v.9h-.9zM273.4 383.6h.9v.9h-.9zM266.7 382.1h.9v.9h-.9zM267.7 383.7h.9v.9h-.9zM267.1 386.5h.9v.9h-.9z"/>
<path d="M265.0 384.9h.9v.9h-.9zM272.8 386.4h.9v.9h-.9zM250.9 386.5h.9v.9h-.9zM274.3 382.1h.9v.9h-.9zM269.4 382.3h.9v.9h-.9zM261.5 395.7h.9v.9h-.9zM270.3 385.6h.9v.9h-.9zM263.4 382.0h.9v.9h-.9zM255.0 383.3h.9v.9h-.9zM265.4 383.7h.9v.9h-.9zM274.4 389.1h.9v.9h-.9zM271.7 379.3h.9v.9h-.9z"/>
<path d="M267.9 385.9h.9v.9h-.9zM284.2 373.8h.9v.9h-.9zM262.5 380.8h.9v.9h-.9zM270.1 386.1h.9v.9h-.9zM281.1 385.9h.9v.9h-.9zM281.3 381.0h.9v.9h-.9zM265.5 377.0h.9v.9h-.9zM265.7 386.2h.9v.9h-.9zM271.1 391.5h.9v.9h-.9zM268.9 379.5h.9v.9h-.9zM274.8 375.3h.9v.9h-.9zM276.7 384.8h.9v.9h-.9z"/>
<path d="M261.1 385.3h.9v.9h-.9zM272.4 388.3h.9v.9h-.9zM269.0 381.1h.9v.9h-.9zM270.8 382.8h.9v.9h-.9zM263.5 387.0h.9v.9h-.9zM277.5 380.4h.9v.9h-.9zM266.7 378.9h.9v.9h-.9zM267.4 380.5h.9v.9h-.9zM270.5 385.9h.9v.9h-.9zM281.2 379.5h.9v.9h-.9zM265.2 378.6h.9v.9h-.9zM270.3 386.3h.9v.9h-.9z"/>
<path d="M264.3 383.1h.9v.9h-.9zM263.5 377.5h.9v.9h-.9zM266.7 386.4h.9v.9h-.9zM267.9 376.0h.9v.9h-.9zM263.4 381.8h.9v.9h-.9zM284.2 378.3h.9v.9h-.9zM290.2 387.0h.9v.9h-.9zM279.3 386.8h.9v.9h-.9zM252.5 384.0h.9v.9h-.9zM272.2 385.2h.9v.9h-.9zM279.5 382.9h.9v.9h-.9zM264.9 385.1h.9v.9h-.9z"/>
<path d="M271.7 385.0h.9v.9h-.9zM267.4 383.0h.9v.9h-.9zM248.9 384.0h.9v.9h-.9zM278.0 383.6h.9v.9h-.9zM270.2 385.8h.9v.9h-.9zM268.6 382.4h.9v.9h-.9zM282.9 390.3h.9v.9h-.9zM258.3 381.0h.9v.9h-.9zM273.0 386.4h.9v.9h-.9zM262.5 381.1h.9v.9h-.9zM275.6 388.3h.9v.9h-.9zM264.4 382.2h.9v.9h-.9z"/>
<path d="M269.0 388.0h.9v.9h-.9zM274.5 385.2h.9v.9h-.9zM284.4 386.7h.9v.9h-.9zM272.0 390.0h.9v.9h-.9zM282.9 389.5h.9v.9h-.9zM284.5 385.3h.9v.9h-.9zM257.0 382.3h.9v.9h-.9zM272.8 383.6h.9v.9h-.9zM277.0 384.9h.9v.9h-.9zM285.5 386.2h.9v.9h-.9zM278.5 388.7h.9v.9h-.9zM282.3 381.9h.9v.9h-.9z"/>
<path d="M282.1 383.8h.9v.9h-.9zM257.6 390.9h.9v.9h-.9zM273.8 389.0h.9v.9h-.9zM264.4 386.6h.9v.9h-.9zM266.7 393.7h.9v.9h-.9zM282.8 383.7h.9v.9h-.9zM254.8 384.2h.9v.9h-.9zM274.1 383.6h.9v.9h-.9zM274.5 382.7h.9v.9h-.9zM276.5 385.7h.9v.9h-.9zM266.5 387.3h.9v.9h-.9zM275.8 383.4h.9v.9h-.9z"/>
<path d="M267.0 380.2h.9v.9h-.9zM288.4 393.5h.9v.9h-.9zM277.6 382.1h.9v.9h-.9zM277.3 380.8h.9v.9h-.9zM264.6 375.9h.9v.9h-.9zM267.7 381.1h.9v.9h-.9zM279.4 385.5h.9v.9h-.9zM267.1 382.5h.9v.9h-.9zM270.9 383.7h.9v.9h-.9zM271.9 388.6h.9v.9h-.9zM261.1 384.7h.9v.9h-.9zM272.7 387.2h.9v.9h-.9z"/>
<path d="M271.4 380.8h.9v.9h-.9zM277.7 388.5h.9v.9h-.9zM266.5 388.3h.9v.9h-.9zM290.3 382.0h.9v.9h-.9zM276.8 373.6h.9v.9h-.9zM273.8 380.4h.9v.9h-.9zM275.3 383.2h.9v.9h-.9zM274.1 388.6h.9v.9h-.9zM278.8 387.8h.9v.9h-.9zM267.4 383.2h.9v.9h-.9zM271.9 382.3h.9v.9h-.9zM266.4 384.2h.9v.9h-.9z"/>
<path d="M275.6 383.1h.9v.9h-.9zM263.9 388.3h.9v.9h-.9zM267.7 391.1h.9v.9h-.9zM274.1 385.0h.9v.9h-.9zM280.9 384.4h.9v.9h-.9zM263.4 384.6h.9v.9h-.9zM257.9 385.4h.9v.9h-.9zM272.8 386.2h.9v.9h-.9zM272.2 391.6h.9v.9h-.9zM273.3 382.2h.9v.9h-.9zM293.1 384.1h.9v.9h-.9zM277.5 383.4h.9v.9h-.9z"/>
<path d="M269.9 383.8h.9v.9h-.9zM267.7 383.9h.9v.9h-.9zM270.3 381.9h.9v.9h-.9zM266.3 382.6h.9v.9h-.9zM255.0 385.1h.9v.9h-.9zM253.2 382.4h.9v.9h-.9zM271.1 381.2h.9v.9h-.9zM271.8 391.4h.9v.9h-.9zM272.7 381.8h.9v.9h-.9zM274.2 380.9h.9v.9h-.9zM258.5 380.5h.9v.9h-.9zM275.8 382.8h.9v.9h-.9z"/>
<path d="M275.4 386.5h.9v.9h-.9zM257.7 377.6h.9v.9h-.9zM265.2 378.4h.9v.9h-.9zM275.5 379.9h.9v.9h-.9zM263.1 389.0h.9v.9h-.9zM261.5 378.3h.9v.9h-.9zM279.8 383.9h.9v.9h-.9zM269.9 385.7h.9v.9h-.9zM266.7 382.2h.9v.9h-.9zM268.7 388.4h.9v.9h-.9zM270.6 378.0h.9v.9h-.9zM262.2 385.4h.9v.9h-.9z"/>
<path d="M261.2 377.6h.9v.9h-.9zM266.5 376.9h.9v.9h-.9zM272.8 391.8h.9v.9h-.9zM284.8 384.3h.9v.9h-.9zM281.6 384.5h.9v.9h-.9zM271.4 386.4h.9v.9h-.9zM271.8 381.8h.9v.9h-.9zM270.8 382.5h.9v.9h-.9zM273.8 387.9h.9v.9h-.9zM262.7 381.5h.9v.9h-.9zM263.1 390.2h.9v.9h-.9zM276.5 384.5h.9v.9h-.9z"/>
<path d="M264.5 387.4h.9v.9h-.9zM263.7 377.1h.9v.9h-.9zM266.1 388.6h.9v.9h-.9zM270.5 381.8h.9v.9h-.9zM266.9 387.2h.9v.9h-.9zM265.1 381.1h.9v.9h-.9zM275.0 386.1h.9v.9h-.9zM270.6 385.5h.9v.9h-.9zM274.0 375.6h.9v.9h-.9zM271.5 381.2h.9v.9h-.9zM270.5 383.5h.9v.9h-.9zM273.3 387.0h.9v.9h-.9z"/>
<path d="M264.4 380.9h.9v.9h-.9zM268.0 383.4h.9v.9h-.9zM260.4 383.9h.9v.9h-.9zM276.7 381.3h.9v.9h-.9zM258.6 386.6h.9v.9h-.9zM281.1 385.5h.9v.9h-.9zM282.1 388.3h.9v.9h-.9zM270.8 382.6h.9v.9h-.9zM288.0 386.6h.9v.9h-.9zM268.8 388.9h.9v.9h-.9zM266.0 382.1h.9v.9h-.9zM281.1 387.8h.9v.9h-.9z"/>
<path d="M268.2 387.6h.9v.9h-.9zM277.2 375.0h.9v.9h-.9zM270.6 387.5h.9v.9h-.9zM273.2 379.7h.9v.9h-.9zM277.3 381.6h.9v.9h-.9zM277.4 385.1h.9v.9h-.9zM279.4 380.9h.9v.9h-.9zM284.8 382.8h.9v.9h-.9zM270.1 381.7h.9v.9h-.9zM270.8 384.4h.9v.9h-.9zM269.5 386.4h.9v.9h-.9zM275.8 383.1h.9v.9h-.9z"/>
<path d="M271.1 384.7h.9v.9h-.9zM278.2 389.1h.9v.9h-.9zM265.2 386.7h.9v.9h-.9zM276.6 378.4h.9v.9h-.9zM274.7 390.4h.9v.9h-.9zM268.2 379.1h.9v.9h-.9zM256.5 383.9h.9v.9h-.9zM270.0 383.2h.9v.9h-.9zM277.5 379.0h.9v.9h-.9zM270.7 390.8h.9v.9h-.9zM282.3 381.3h.9v.9h-.9zM259.0 385.1h.9v.9h-.9z"/>
<path d="M274.0 384.6h.9v.9h-.9zM265.0 386.7h.9v.9h-.9zM265.6 379.4h.9v.9h-.9zM265.3 383.6h.9v.9h-.9z"/>
</g>
<g fill="#000" fill-opacity="0.38" filter="url(#bl)">
<path d="M266.3 383.9h.9v.9h-.9zM268.9 394.1h.9v.9h-.9zM257.6 390.8h.9v.9h-.9zM262.3 377.9h.9v.9h-.9zM267.6 384.2h.9v.9h-.9zM264.8 386.1h.9v.9h-.9zM251.1 384.9h.9v.9h-.9zM271.2 391.9h.9v.9h-.9zM259.1 391.7h.9v.9h-.9zM270.1 394.6h.9v.9h-.9zM277.8 395.7h.9v.9h-.9zM273.9 391.8h.9v.9h-.9z"/>
<path d="M266.9 383.9h.9v.9h-.9zM266.4 392.8h.9v.9h-.9zM271.8 386.2h.9v.9h-.9zM254.3 385.2h.9v.9h-.9zM257.0 389.7h.9v.9h-.9zM258.6 384.6h.9v.9h-.9zM264.9 387.5h.9v.9h-.9zM267.6 392.2h.9v.9h-.9zM268.3 394.3h.9v.9h-.9zM262.4 390.9h.9v.9h-.9zM283.0 390.5h.9v.9h-.9zM263.3 389.3h.9v.9h-.9z"/>
<path d="M265.7 387.5h.9v.9h-.9zM275.0 396.6h.9v.9h-.9zM264.4 385.7h.9v.9h-.9zM272.9 393.8h.9v.9h-.9zM267.3 392.6h.9v.9h-.9zM265.5 394.5h.9v.9h-.9zM267.1 390.3h.9v.9h-.9zM270.9 385.0h.9v.9h-.9zM268.4 390.0h.9v.9h-.9zM272.6 386.5h.9v.9h-.9zM255.8 386.4h.9v.9h-.9zM269.6 389.3h.9v.9h-.9z"/>
<path d="M269.3 395.0h.9v.9h-.9zM272.4 392.4h.9v.9h-.9zM268.5 385.1h.9v.9h-.9zM266.2 388.0h.9v.9h-.9zM261.7 389.4h.9v.9h-.9zM264.5 385.4h.9v.9h-.9zM260.8 381.7h.9v.9h-.9zM276.2 386.0h.9v.9h-.9zM263.2 379.1h.9v.9h-.9zM266.0 389.3h.9v.9h-.9zM268.8 385.4h.9v.9h-.9zM260.2 397.4h.9v.9h-.9z"/>
<path d="M264.6 390.3h.9v.9h-.9zM267.4 388.8h.9v.9h-.9zM275.1 391.0h.9v.9h-.9zM271.1 394.7h.9v.9h-.9zM271.6 389.1h.9v.9h-.9zM260.9 392.4h.9v.9h-.9zM266.7 383.0h.9v.9h-.9zM270.7 396.4h.9v.9h-.9zM272.6 390.4h.9v.9h-.9zM276.0 391.1h.9v.9h-.9zM261.2 389.8h.9v.9h-.9zM270.8 387.8h.9v.9h-.9z"/>
<path d="M262.2 383.9h.9v.9h-.9zM275.5 392.0h.9v.9h-.9zM262.2 394.5h.9v.9h-.9zM267.1 385.4h.9v.9h-.9zM262.5 391.5h.9v.9h-.9zM272.7 392.0h.9v.9h-.9zM264.9 379.0h.9v.9h-.9zM260.5 390.7h.9v.9h-.9zM261.0 383.8h.9v.9h-.9zM259.9 380.4h.9v.9h-.9zM274.8 380.3h.9v.9h-.9zM260.5 390.8h.9v.9h-.9z"/>
<path d="M270.3 393.2h.9v.9h-.9zM261.9 388.7h.9v.9h-.9zM277.3 385.6h.9v.9h-.9zM269.0 386.0h.9v.9h-.9zM257.5 385.2h.9v.9h-.9zM261.3 392.4h.9v.9h-.9zM271.7 397.9h.9v.9h-.9zM261.6 387.1h.9v.9h-.9zM269.8 386.5h.9v.9h-.9zM261.5 388.2h.9v.9h-.9zM272.2 386.2h.9v.9h-.9zM276.6 386.5h.9v.9h-.9z"/>
<path d="M272.6 392.4h.9v.9h-.9zM263.8 389.1h.9v.9h-.9zM274.2 383.8h.9v.9h-.9zM273.3 388.2h.9v.9h-.9zM271.9 393.6h.9v.9h-.9zM269.3 386.3h.9v.9h-.9zM267.4 384.4h.9v.9h-.9zM255.1 396.5h.9v.9h-.9zM262.4 378.9h.9v.9h-.9zM268.6 381.6h.9v.9h-.9zM269.1 395.4h.9v.9h-.9zM274.6 393.0h.9v.9h-.9z"/>
<path d="M264.9 385.3h.9v.9h-.9zM254.7 383.9h.9v.9h-.9zM265.1 385.9h.9v.9h-.9zM276.3 387.4h.9v.9h-.9zM265.2 392.9h.9v.9h-.9zM263.7 392.6h.9v.9h-.9zM269.8 385.7h.9v.9h-.9zM271.4 387.8h.9v.9h-.9zM264.2 391.6h.9v.9h-.9zM267.6 387.1h.9v.9h-.9zM272.5 395.1h.9v.9h-.9zM266.9 386.7h.9v.9h-.9z"/>
<path d="M265.3 389.7h.9v.9h-.9zM273.3 382.2h.9v.9h-.9zM276.3 390.7h.9v.9h-.9zM267.3 400.4h.9v.9h-.9zM274.6 396.9h.9v.9h-.9zM265.0 393.9h.9v.9h-.9zM257.7 386.8h.9v.9h-.9zM261.2 394.6h.9v.9h-.9zM269.5 383.4h.9v.9h-.9zM272.7 390.4h.9v.9h-.9zM270.4 401.9h.9v.9h-.9zM257.0 393.0h.9v.9h-.9z"/>
<path d="M263.3 390.5h.9v.9h-.9zM270.2 394.9h.9v.9h-.9zM272.0 391.7h.9v.9h-.9zM253.6 387.1h.9v.9h-.9zM268.1 387.7h.9v.9h-.9zM263.4 392.3h.9v.9h-.9zM267.4 387.1h.9v.9h-.9zM265.4 385.9h.9v.9h-.9zM262.9 386.7h.9v.9h-.9zM272.1 395.9h.9v.9h-.9zM269.8 385.8h.9v.9h-.9zM264.4 391.0h.9v.9h-.9z"/>
<path d="M263.7 392.4h.9v.9h-.9zM275.9 395.2h.9v.9h-.9zM263.0 390.0h.9v.9h-.9zM266.8 391.4h.9v.9h-.9zM261.4 389.7h.9v.9h-.9zM268.3 385.6h.9v.9h-.9zM267.7 391.4h.9v.9h-.9zM266.2 386.7h.9v.9h-.9zM268.3 390.4h.9v.9h-.9zM262.2 388.0h.9v.9h-.9zM266.8 385.2h.9v.9h-.9zM269.3 386.5h.9v.9h-.9z"/>
<path d="M260.1 393.7h.9v.9h-.9zM273.8 383.7h.9v.9h-.9zM264.3 384.8h.9v.9h-.9zM255.7 393.1h.9v.9h-.9zM264.1 392.6h.9v.9h-.9zM264.3 384.4h.9v.9h-.9zM271.1 387.0h.9v.9h-.9zM271.2 383.1h.9v.9h-.9zM275.0 395.7h.9v.9h-.9zM263.0 380.2h.9v.9h-.9zM255.8 387.7h.9v.9h-.9zM255.5 387.1h.9v.9h-.9z"/>
<path d="M268.2 386.5h.9v.9h-.9zM269.4 387.4h.9v.9h-.9zM262.0 388.8h.9v.9h-.9zM262.8 390.2h.9v.9h-.9zM264.0 395.2h.9v.9h-.9zM261.7 391.9h.9v.9h-.9zM268.9 390.9h.9v.9h-.9zM265.0 385.2h.9v.9h-.9zM256.0 385.4h.9v.9h-.9zM270.6 390.6h.9v.9h-.9zM271.7 383.9h.9v.9h-.9zM268.0 386.8h.9v.9h-.9z"/>
<path d="M257.3 392.4h.9v.9h-.9zM275.5 387.8h.9v.9h-.9zM271.9 388.3h.9v.9h-.9zM260.6 380.9h.9v.9h-.9zM270.9 393.7h.9v.9h-.9zM264.4 393.5h.9v.9h-.9zM271.3 386.1h.9v.9h-.9zM271.8 392.3h.9v.9h-.9zM263.2 387.3h.9v.9h-.9zM268.5 385.8h.9v.9h-.9zM260.0 389.7h.9v.9h-.9zM278.6 390.5h.9v.9h-.9z"/>
<path d="M263.8 386.7h.9v.9h-.9zM275.1 385.5h.9v.9h-.9zM261.7 386.3h.9v.9h-.9zM265.6 386.3h.9v.9h-.9zM265.8 389.2h.9v.9h-.9zM274.0 390.8h.9v.9h-.9zM256.5 387.6h.9v.9h-.9zM261.2 384.0h.9v.9h-.9zM264.4 385.5h.9v.9h-.9zM266.5 386.5h.9v.9h-.9zM274.5 388.0h.9v.9h-.9zM259.4 391.3h.9v.9h-.9z"/>
<path d="M262.7 390.2h.9v.9h-.9zM257.3 381.4h.9v.9h-.9zM257.2 384.6h.9v.9h-.9zM256.2 395.4h.9v.9h-.9zM275.3 386.0h.9v.9h-.9zM277.3 393.5h.9v.9h-.9zM261.4 387.2h.9v.9h-.9zM269.9 384.2h.9v.9h-.9z"/>
</g>
<g fill="#000" fill-opacity="0.42" filter="url(#bl)">
<path d="M272.8 393.3h.9v.9h-.9zM274.7 410.8h.9v.9h-.9zM271.0 405.5h.9v.9h-.9zM270.2 401.1h.9v.9h-.9zM265.5 398.6h.9v.9h-.9zM276.5 406.1h.9v.9h-.9zM264.5 395.5h.9v.9h-.9zM272.3 403.4h.9v.9h-.9zM269.6 391.6h.9v.9h-.9zM266.9 401.7h.9v.9h-.9zM274.2 396.0h.9v.9h-.9zM271.6 407.0h.9v.9h-.9z"/>
<path d="M265.6 392.0h.9v.9h-.9zM269.4 404.8h.9v.9h-.9zM269.3 400.2h.9v.9h-.9zM263.7 399.3h.9v.9h-.9zM260.5 397.9h.9v.9h-.9zM267.8 406.5h.9v.9h-.9zM273.0 391.5h.9v.9h-.9zM276.4 411.7h.9v.9h-.9zM270.5 400.3h.9v.9h-.9zM266.9 396.2h.9v.9h-.9zM268.7 401.5h.9v.9h-.9zM270.4 397.7h.9v.9h-.9z"/>
<path d="M264.3 413.0h.9v.9h-.9zM274.8 405.5h.9v.9h-.9zM267.2 394.9h.9v.9h-.9zM268.1 396.5h.9v.9h-.9zM274.1 390.4h.9v.9h-.9zM269.6 397.6h.9v.9h-.9zM268.8 401.7h.9v.9h-.9zM270.8 399.0h.9v.9h-.9zM271.2 386.2h.9v.9h-.9zM272.8 397.7h.9v.9h-.9zM271.6 397.3h.9v.9h-.9zM263.3 401.8h.9v.9h-.9z"/>
<path d="M267.0 400.0h.9v.9h-.9zM266.6 395.2h.9v.9h-.9zM274.6 391.3h.9v.9h-.9zM277.1 404.9h.9v.9h-.9zM270.7 402.7h.9v.9h-.9zM280.6 399.4h.9v.9h-.9zM261.8 393.0h.9v.9h-.9zM267.2 396.4h.9v.9h-.9zM263.5 397.6h.9v.9h-.9zM273.0 402.4h.9v.9h-.9zM270.5 391.3h.9v.9h-.9zM272.1 400.5h.9v.9h-.9z"/>
<path d="M272.3 398.8h.9v.9h-.9zM275.3 393.6h.9v.9h-.9zM269.1 403.0h.9v.9h-.9zM268.3 400.6h.9v.9h-.9zM275.0 414.8h.9v.9h-.9zM261.6 398.1h.9v.9h-.9zM270.9 395.6h.9v.9h-.9zM269.8 389.2h.9v.9h-.9zM273.6 401.9h.9v.9h-.9zM265.7 402.9h.9v.9h-.9zM265.5 396.3h.9v.9h-.9zM279.7 391.2h.9v.9h-.9z"/>
<path d="M260.9 399.8h.9v.9h-.9zM270.8 410.8h.9v.9h-.9zM276.8 402.3h.9v.9h-.9zM264.2 394.0h.9v.9h-.9zM268.2 406.2h.9v.9h-.9zM267.0 399.6h.9v.9h-.9zM264.0 401.4h.9v.9h-.9zM278.9 399.4h.9v.9h-.9zM268.3 393.1h.9v.9h-.9zM268.9 395.1h.9v.9h-.9zM264.5 405.7h.9v.9h-.9zM269.3 400.5h.9v.9h-.9z"/>
<path d="M271.1 399.6h.9v.9h-.9zM269.7 397.2h.9v.9h-.9zM272.0 394.0h.9v.9h-.9zM265.8 398.0h.9v.9h-.9zM269.9 390.3h.9v.9h-.9zM266.9 393.0h.9v.9h-.9zM269.3 405.7h.9v.9h-.9zM265.1 400.6h.9v.9h-.9zM275.5 398.4h.9v.9h-.9zM272.0 393.6h.9v.9h-.9zM262.0 402.7h.9v.9h-.9zM270.3 408.2h.9v.9h-.9z"/>
<path d="M269.5 395.0h.9v.9h-.9zM274.0 409.2h.9v.9h-.9zM274.0 396.2h.9v.9h-.9zM271.2 402.5h.9v.9h-.9zM267.1 397.1h.9v.9h-.9zM276.0 402.4h.9v.9h-.9zM271.3 397.8h.9v.9h-.9zM271.1 398.5h.9v.9h-.9zM270.7 401.8h.9v.9h-.9zM266.4 399.5h.9v.9h-.9zM266.9 399.0h.9v.9h-.9zM263.1 397.5h.9v.9h-.9z"/>
<path d="M268.0 401.5h.9v.9h-.9zM268.2 390.6h.9v.9h-.9zM269.8 381.4h.9v.9h-.9zM266.5 404.3h.9v.9h-.9zM266.1 395.7h.9v.9h-.9zM265.5 400.2h.9v.9h-.9zM266.3 402.1h.9v.9h-.9zM271.5 391.8h.9v.9h-.9zM277.4 392.9h.9v.9h-.9zM268.7 402.5h.9v.9h-.9zM260.5 395.9h.9v.9h-.9zM272.8 403.2h.9v.9h-.9z"/>
<path d="M268.0 398.9h.9v.9h-.9zM275.8 392.0h.9v.9h-.9zM266.6 407.1h.9v.9h-.9zM270.5 401.6h.9v.9h-.9zM267.5 395.0h.9v.9h-.9zM264.3 405.4h.9v.9h-.9zM270.2 391.4h.9v.9h-.9zM272.6 395.9h.9v.9h-.9zM274.7 391.5h.9v.9h-.9zM266.9 396.9h.9v.9h-.9zM262.7 400.7h.9v.9h-.9zM273.5 397.5h.9v.9h-.9z"/>
<path d="M264.5 388.8h.9v.9h-.9zM272.5 398.1h.9v.9h-.9zM267.2 399.1h.9v.9h-.9zM271.2 390.1h.9v.9h-.9zM274.2 397.3h.9v.9h-.9zM269.8 397.8h.9v.9h-.9zM270.9 405.0h.9v.9h-.9zM264.9 396.7h.9v.9h-.9zM264.8 395.6h.9v.9h-.9zM269.3 397.5h.9v.9h-.9zM270.4 397.6h.9v.9h-.9zM275.9 400.3h.9v.9h-.9z"/>
<path d="M277.3 400.0h.9v.9h-.9zM266.1 403.2h.9v.9h-.9zM275.2 395.1h.9v.9h-.9zM270.4 395.4h.9v.9h-.9zM266.2 401.0h.9v.9h-.9zM270.9 404.8h.9v.9h-.9zM267.3 402.7h.9v.9h-.9zM275.2 400.4h.9v.9h-.9zM267.7 401.6h.9v.9h-.9zM274.2 393.1h.9v.9h-.9zM270.9 409.9h.9v.9h-.9zM270.5 397.2h.9v.9h-.9z"/>
<path d="M271.5 400.2h.9v.9h-.9zM276.1 395.4h.9v.9h-.9zM264.1 395.9h.9v.9h-.9zM275.2 398.6h.9v.9h-.9zM272.9 400.2h.9v.9h-.9zM270.2 406.4h.9v.9h-.9zM269.1 406.5h.9v.9h-.9zM277.0 402.7h.9v.9h-.9zM271.8 401.6h.9v.9h-.9zM270.0 398.1h.9v.9h-.9zM274.7 404.0h.9v.9h-.9zM270.2 398.8h.9v.9h-.9z"/>
<path d="M273.9 405.1h.9v.9h-.9zM267.8 407.8h.9v.9h-.9zM268.5 402.7h.9v.9h-.9zM269.4 397.9h.9v.9h-.9zM272.2 397.2h.9v.9h-.9zM269.2 388.6h.9v.9h-.9zM273.2 393.2h.9v.9h-.9zM273.7 402.7h.9v.9h-.9zM272.7 407.1h.9v.9h-.9zM272.7 399.5h.9v.9h-.9zM267.8 391.8h.9v.9h-.9zM274.4 392.2h.9v.9h-.9z"/>
<path d="M273.6 394.5h.9v.9h-.9zM262.7 404.0h.9v.9h-.9zM270.8 400.4h.9v.9h-.9zM268.7 410.3h.9v.9h-.9zM267.3 401.7h.9v.9h-.9zM273.3 407.6h.9v.9h-.9zM270.0 402.5h.9v.9h-.9zM268.2 390.6h.9v.9h-.9zM268.2 407.9h.9v.9h-.9zM267.6 393.6h.9v.9h-.9zM275.8 396.3h.9v.9h-.9zM271.0 399.7h.9v.9h-.9z"/>
<path d="M268.5 391.7h.9v.9h-.9zM276.9 406.6h.9v.9h-.9zM271.8 401.4h.9v.9h-.9zM268.7 406.2h.9v.9h-.9zM266.2 387.1h.9v.9h-.9zM269.9 400.5h.9v.9h-.9zM271.1 402.2h.9v.9h-.9zM272.6 394.8h.9v.9h-.9zM265.5 401.7h.9v.9h-.9zM271.7 397.7h.9v.9h-.9zM267.8 401.3h.9v.9h-.9zM270.8 410.9h.9v.9h-.9z"/>
<path d="M273.3 402.4h.9v.9h-.9zM277.1 391.5h.9v.9h-.9zM268.5 393.7h.9v.9h-.9zM263.4 398.4h.9v.9h-.9zM279.8 400.2h.9v.9h-.9zM261.9 389.7h.9v.9h-.9zM265.6 401.3h.9v.9h-.9zM275.3 391.1h.9v.9h-.9zM272.4 392.7h.9v.9h-.9zM275.1 401.8h.9v.9h-.9zM270.5 393.0h.9v.9h-.9zM263.4 392.4h.9v.9h-.9z"/>
<path d="M269.7 405.5h.9v.9h-.9zM278.1 389.8h.9v.9h-.9zM270.6 398.5h.9v.9h-.9zM265.1 392.7h.9v.9h-.9zM274.4 389.9h.9v.9h-.9zM265.5 399.1h.9v.9h-.9zM276.9 405.5h.9v.9h-.9zM269.9 388.3h.9v.9h-.9zM267.9 402.0h.9v.9h-.9zM266.7 405.5h.9v.9h-.9zM270.0 399.2h.9v.9h-.9zM266.3 400.5h.9v.9h-.9z"/>
<path d="M265.3 395.8h.9v.9h-.9zM272.4 399.1h.9v.9h-.9zM281.0 392.7h.9v.9h-.9zM267.2 393.2h.9v.9h-.9zM264.9 410.7h.9v.9h-.9zM260.5 398.9h.9v.9h-.9zM268.4 396.9h.9v.9h-.9zM265.8 398.9h.9v.9h-.9zM268.2 400.3h.9v.9h-.9zM266.5 400.0h.9v.9h-.9zM269.9 408.7h.9v.9h-.9zM268.2 404.1h.9v.9h-.9z"/>
<path d="M271.7 401.5h.9v.9h-.9zM271.3 398.8h.9v.9h-.9zM268.0 396.8h.9v.9h-.9zM262.8 395.3h.9v.9h-.9zM264.2 393.8h.9v.9h-.9zM259.5 396.0h.9v.9h-.9zM266.7 400.1h.9v.9h-.9zM267.2 409.7h.9v.9h-.9zM268.6 390.1h.9v.9h-.9zM266.7 391.8h.9v.9h-.9zM268.1 410.0h.9v.9h-.9zM273.7 393.2h.9v.9h-.9z"/>
<path d="M277.3 398.3h.9v.9h-.9zM275.8 409.6h.9v.9h-.9zM266.4 388.3h.9v.9h-.9zM269.0 399.1h.9v.9h-.9zM267.5 405.6h.9v.9h-.9zM270.8 400.3h.9v.9h-.9zM273.6 398.0h.9v.9h-.9zM268.3 395.6h.9v.9h-.9zM272.2 408.5h.9v.9h-.9zM270.4 405.9h.9v.9h-.9zM266.3 400.0h.9v.9h-.9zM276.4 386.6h.9v.9h-.9z"/>
<path d="M266.8 395.7h.9v.9h-.9zM277.0 403.8h.9v.9h-.9zM280.4 393.8h.9v.9h-.9zM276.7 403.1h.9v.9h-.9zM272.3 403.0h.9v.9h-.9zM271.1 390.1h.9v.9h-.9zM272.0 406.3h.9v.9h-.9zM266.4 397.0h.9v.9h-.9zM276.5 395.6h.9v.9h-.9zM271.3 400.1h.9v.9h-.9zM266.8 395.8h.9v.9h-.9zM263.6 393.5h.9v.9h-.9z"/>
<path d="M263.6 398.0h.9v.9h-.9zM276.7 396.1h.9v.9h-.9zM263.5 401.2h.9v.9h-.9zM275.1 399.2h.9v.9h-.9zM271.3 392.8h.9v.9h-.9zM276.1 404.1h.9v.9h-.9zM276.0 409.2h.9v.9h-.9zM273.5 392.7h.9v.9h-.9zM271.2 398.8h.9v.9h-.9zM272.3 387.3h.9v.9h-.9zM269.1 404.1h.9v.9h-.9zM276.6 402.9h.9v.9h-.9z"/>
<path d="M276.3 400.7h.9v.9h-.9zM263.5 396.9h.9v.9h-.9zM267.8 384.1h.9v.9h-.9zM266.0 388.4h.9v.9h-.9zM274.5 402.9h.9v.9h-.9zM264.0 385.6h.9v.9h-.9zM268.1 409.5h.9v.9h-.9zM261.0 393.4h.9v.9h-.9zM267.4 402.1h.9v.9h-.9zM273.7 393.7h.9v.9h-.9zM266.5 392.6h.9v.9h-.9zM271.8 394.7h.9v.9h-.9z"/>
<path d="M278.4 404.1h.9v.9h-.9zM268.8 397.5h.9v.9h-.9zM279.7 397.1h.9v.9h-.9zM266.4 397.1h.9v.9h-.9zM269.8 389.3h.9v.9h-.9zM273.4 393.7h.9v.9h-.9zM272.7 386.0h.9v.9h-.9zM268.7 393.5h.9v.9h-.9zM272.1 402.5h.9v.9h-.9zM259.6 393.9h.9v.9h-.9zM274.7 404.3h.9v.9h-.9zM272.6 395.1h.9v.9h-.9z"/>
<path d="M263.1 401.8h.9v.9h-.9zM269.7 399.3h.9v.9h-.9zM269.3 400.5h.9v.9h-.9zM274.3 397.4h.9v.9h-.9zM271.7 397.1h.9v.9h-.9zM265.7 404.9h.9v.9h-.9zM273.2 403.4h.9v.9h-.9zM269.2 399.4h.9v.9h-.9zM264.5 411.1h.9v.9h-.9zM268.4 399.5h.9v.9h-.9zM268.4 394.3h.9v.9h-.9zM261.4 400.5h.9v.9h-.9z"/>
<path d="M270.9 401.4h.9v.9h-.9zM266.5 403.3h.9v.9h-.9zM265.3 398.4h.9v.9h-.9zM275.8 393.7h.9v.9h-.9zM271.5 390.6h.9v.9h-.9zM266.4 403.0h.9v.9h-.9zM266.0 400.6h.9v.9h-.9zM270.3 394.3h.9v.9h-.9zM268.1 400.3h.9v.9h-.9zM271.0 404.5h.9v.9h-.9zM272.5 396.6h.9v.9h-.9zM266.8 393.5h.9v.9h-.9z"/>
<path d="M271.1 399.2h.9v.9h-.9zM266.8 405.7h.9v.9h-.9zM271.7 401.3h.9v.9h-.9zM270.7 404.8h.9v.9h-.9zM276.9 403.7h.9v.9h-.9zM262.1 402.1h.9v.9h-.9zM273.6 386.4h.9v.9h-.9zM277.1 406.4h.9v.9h-.9zM265.2 399.9h.9v.9h-.9zM270.2 398.1h.9v.9h-.9zM267.0 407.7h.9v.9h-.9zM277.6 401.2h.9v.9h-.9z"/>
<path d="M269.5 398.7h.9v.9h-.9zM273.4 401.4h.9v.9h-.9zM265.0 388.2h.9v.9h-.9zM270.0 397.6h.9v.9h-.9zM266.1 394.1h.9v.9h-.9zM266.2 399.9h.9v.9h-.9zM273.3 392.9h.9v.9h-.9zM272.7 398.6h.9v.9h-.9zM268.5 401.2h.9v.9h-.9zM270.4 402.2h.9v.9h-.9zM267.8 394.8h.9v.9h-.9zM272.2 392.0h.9v.9h-.9z"/>
<path d="M272.4 403.5h.9v.9h-.9zM273.5 391.6h.9v.9h-.9zM280.7 402.8h.9v.9h-.9zM260.3 403.3h.9v.9h-.9zM264.5 393.3h.9v.9h-.9zM268.9 401.8h.9v.9h-.9zM269.9 393.5h.9v.9h-.9zM264.1 400.3h.9v.9h-.9zM271.9 397.6h.9v.9h-.9zM271.6 387.7h.9v.9h-.9zM271.7 401.0h.9v.9h-.9zM278.7 391.6h.9v.9h-.9z"/>
<path d="M264.4 391.6h.9v.9h-.9zM274.9 401.2h.9v.9h-.9zM272.3 398.4h.9v.9h-.9zM267.9 400.2h.9v.9h-.9zM269.7 399.3h.9v.9h-.9zM271.0 395.9h.9v.9h-.9zM272.9 398.4h.9v.9h-.9zM266.0 398.2h.9v.9h-.9zM269.1 401.0h.9v.9h-.9zM283.4 402.5h.9v.9h-.9zM268.1 396.7h.9v.9h-.9zM273.5 398.9h.9v.9h-.9z"/>
<path d="M266.8 395.1h.9v.9h-.9zM270.8 404.6h.9v.9h-.9zM274.1 402.3h.9v.9h-.9zM274.4 400.9h.9v.9h-.9zM275.8 406.2h.9v.9h-.9zM269.9 401.3h.9v.9h-.9zM276.8 391.5h.9v.9h-.9zM268.5 399.3h.9v.9h-.9zM257.7 401.2h.9v.9h-.9zM268.9 398.1h.9v.9h-.9zM274.6 412.0h.9v.9h-.9zM264.8 399.0h.9v.9h-.9z"/>
<path d="M264.6 396.1h.9v.9h-.9zM266.6 394.9h.9v.9h-.9zM274.4 400.2h.9v.9h-.9zM265.3 406.1h.9v.9h-.9zM262.4 409.3h.9v.9h-.9zM273.3 405.0h.9v.9h-.9zM276.3 397.4h.9v.9h-.9zM274.7 400.1h.9v.9h-.9zM272.4 397.5h.9v.9h-.9zM269.3 409.8h.9v.9h-.9zM270.9 394.9h.9v.9h-.9zM267.8 392.9h.9v.9h-.9z"/>
<path d="M270.8 398.1h.9v.9h-.9zM278.0 403.5h.9v.9h-.9zM273.0 394.7h.9v.9h-.9zM269.5 398.0h.9v.9h-.9zM268.1 401.5h.9v.9h-.9zM271.9 405.2h.9v.9h-.9zM271.0 397.6h.9v.9h-.9zM269.4 395.9h.9v.9h-.9zM266.1 393.3h.9v.9h-.9zM268.9 399.5h.9v.9h-.9zM262.9 404.4h.9v.9h-.9zM273.0 407.1h.9v.9h-.9z"/>
<path d="M272.5 395.4h.9v.9h-.9zM273.3 401.5h.9v.9h-.9zM267.8 392.5h.9v.9h-.9zM268.0 397.0h.9v.9h-.9zM265.8 405.1h.9v.9h-.9zM267.7 394.5h.9v.9h-.9zM269.6 400.4h.9v.9h-.9zM272.0 405.1h.9v.9h-.9zM269.0 402.2h.9v.9h-.9zM273.5 395.7h.9v.9h-.9zM270.8 403.8h.9v.9h-.9zM273.4 396.8h.9v.9h-.9z"/>
<path d="M274.4 399.7h.9v.9h-.9zM266.7 394.4h.9v.9h-.9zM271.4 405.3h.9v.9h-.9zM268.3 402.8h.9v.9h-.9zM272.3 401.5h.9v.9h-.9zM274.2 406.3h.9v.9h-.9zM266.7 405.6h.9v.9h-.9zM278.1 401.9h.9v.9h-.9zM267.5 404.5h.9v.9h-.9zM270.2 390.6h.9v.9h-.9zM274.0 399.3h.9v.9h-.9zM263.5 400.6h.9v.9h-.9z"/>
<path d="M272.5 407.8h.9v.9h-.9zM273.6 395.4h.9v.9h-.9zM271.4 404.2h.9v.9h-.9zM268.1 394.8h.9v.9h-.9zM270.3 395.8h.9v.9h-.9zM268.4 404.9h.9v.9h-.9zM267.1 394.6h.9v.9h-.9zM270.2 392.1h.9v.9h-.9zM270.6 397.4h.9v.9h-.9zM265.7 399.5h.9v.9h-.9zM263.5 404.8h.9v.9h-.9zM268.3 395.2h.9v.9h-.9z"/>
<path d="M267.3 397.1h.9v.9h-.9zM272.6 399.0h.9v.9h-.9zM271.1 400.7h.9v.9h-.9zM271.5 402.7h.9v.9h-.9zM275.2 401.0h.9v.9h-.9zM272.5 410.3h.9v.9h-.9zM267.6 398.3h.9v.9h-.9zM262.4 405.2h.9v.9h-.9zM275.3 397.8h.9v.9h-.9zM274.6 393.7h.9v.9h-.9zM279.4 390.5h.9v.9h-.9zM267.6 398.2h.9v.9h-.9z"/>
<path d="M268.8 402.9h.9v.9h-.9zM269.4 390.3h.9v.9h-.9zM270.3 394.1h.9v.9h-.9zM267.2 404.6h.9v.9h-.9zM268.8 397.3h.9v.9h-.9zM274.8 388.5h.9v.9h-.9zM272.2 403.5h.9v.9h-.9zM263.4 401.7h.9v.9h-.9zM273.4 393.3h.9v.9h-.9zM269.3 410.4h.9v.9h-.9zM270.7 397.4h.9v.9h-.9zM275.0 396.8h.9v.9h-.9z"/>
<path d="M267.6 395.0h.9v.9h-.9zM259.6 401.9h.9v.9h-.9zM270.0 392.8h.9v.9h-.9zM273.7 410.5h.9v.9h-.9zM276.7 389.1h.9v.9h-.9zM274.1 406.0h.9v.9h-.9zM274.9 399.2h.9v.9h-.9zM275.0 395.6h.9v.9h-.9zM267.8 393.3h.9v.9h-.9zM262.2 399.5h.9v.9h-.9zM264.2 391.3h.9v.9h-.9zM270.4 401.7h.9v.9h-.9z"/>
<path d="M271.0 398.1h.9v.9h-.9zM272.1 404.7h.9v.9h-.9zM270.5 397.4h.9v.9h-.9zM269.1 406.1h.9v.9h-.9zM273.8 397.4h.9v.9h-.9zM272.3 404.6h.9v.9h-.9zM270.6 404.1h.9v.9h-.9zM273.4 397.9h.9v.9h-.9zM270.9 399.4h.9v.9h-.9zM268.0 399.5h.9v.9h-.9zM271.2 390.9h.9v.9h-.9zM262.0 395.3h.9v.9h-.9z"/>
<path d="M266.6 397.8h.9v.9h-.9zM266.0 392.1h.9v.9h-.9zM271.7 387.3h.9v.9h-.9zM271.4 401.6h.9v.9h-.9zM269.6 400.4h.9v.9h-.9zM263.2 400.1h.9v.9h-.9zM270.2 397.5h.9v.9h-.9zM273.6 396.8h.9v.9h-.9zM272.9 396.7h.9v.9h-.9zM268.8 402.8h.9v.9h-.9zM269.6 399.4h.9v.9h-.9zM274.0 403.7h.9v.9h-.9z"/>
<path d="M269.1 395.0h.9v.9h-.9zM273.6 399.4h.9v.9h-.9zM271.5 414.9h.9v.9h-.9zM269.3 394.9h.9v.9h-.9zM271.0 398.1h.9v.9h-.9zM272.3 399.4h.9v.9h-.9zM264.9 403.9h.9v.9h-.9zM265.8 395.6h.9v.9h-.9zM272.0 391.9h.9v.9h-.9zM276.2 402.6h.9v.9h-.9zM276.1 401.9h.9v.9h-.9zM264.9 400.6h.9v.9h-.9z"/>
<path d="M264.8 396.3h.9v.9h-.9zM271.7 403.8h.9v.9h-.9zM269.7 400.1h.9v.9h-.9zM264.5 390.0h.9v.9h-.9z"/>
</g>
<g fill="#000" fill-opacity="0.5" filter="url(#bl)">
<path d="M271.5 397.3h.9v.9h-.9zM267.7 395.3h.9v.9h-.9zM269.5 398.5h.9v.9h-.9zM270.4 398.7h.9v.9h-.9zM267.9 396.9h.9v.9h-.9zM272.6 404.7h.9v.9h-.9zM274.2 397.2h.9v.9h-.9zM273.0 400.6h.9v.9h-.9zM269.3 399.2h.9v.9h-.9zM267.6 391.7h.9v.9h-.9zM271.9 405.0h.9v.9h-.9zM269.4 395.1h.9v.9h-.9z"/>
<path d="M275.0 398.4h.9v.9h-.9zM268.3 405.0h.9v.9h-.9zM269.1 401.0h.9v.9h-.9zM272.2 392.1h.9v.9h-.9zM275.8 398.1h.9v.9h-.9zM270.3 401.4h.9v.9h-.9zM273.9 403.8h.9v.9h-.9zM268.2 398.5h.9v.9h-.9zM268.8 398.5h.9v.9h-.9zM269.2 395.5h.9v.9h-.9zM274.4 397.2h.9v.9h-.9zM268.5 396.5h.9v.9h-.9z"/>
<path d="M271.0 402.7h.9v.9h-.9zM270.8 400.6h.9v.9h-.9zM269.3 406.1h.9v.9h-.9zM270.2 402.2h.9v.9h-.9zM272.1 401.3h.9v.9h-.9zM270.1 398.4h.9v.9h-.9zM274.8 402.7h.9v.9h-.9zM267.9 397.7h.9v.9h-.9zM270.1 401.9h.9v.9h-.9zM271.5 400.9h.9v.9h-.9zM269.5 396.9h.9v.9h-.9zM267.4 407.0h.9v.9h-.9z"/>
<path d="M271.1 401.4h.9v.9h-.9zM272.1 393.3h.9v.9h-.9zM271.6 400.9h.9v.9h-.9zM271.4 400.1h.9v.9h-.9zM271.0 403.7h.9v.9h-.9zM273.1 393.1h.9v.9h-.9zM273.2 400.3h.9v.9h-.9zM268.8 402.7h.9v.9h-.9zM272.9 396.1h.9v.9h-.9zM268.7 398.4h.9v.9h-.9zM271.1 398.2h.9v.9h-.9zM268.6 395.5h.9v.9h-.9z"/>
<path d="M271.8 400.0h.9v.9h-.9zM273.0 405.8h.9v.9h-.9zM269.9 398.6h.9v.9h-.9zM272.7 398.4h.9v.9h-.9zM275.9 402.0h.9v.9h-.9zM272.9 399.3h.9v.9h-.9zM272.0 393.4h.9v.9h-.9zM277.0 399.6h.9v.9h-.9zM273.1 400.8h.9v.9h-.9zM271.1 401.4h.9v.9h-.9zM274.5 399.8h.9v.9h-.9zM271.2 401.8h.9v.9h-.9z"/>
<path d="M274.7 403.7h.9v.9h-.9zM271.2 397.2h.9v.9h-.9zM271.1 402.6h.9v.9h-.9zM272.4 404.2h.9v.9h-.9zM267.7 400.3h.9v.9h-.9zM272.9 399.0h.9v.9h-.9zM272.1 403.1h.9v.9h-.9zM269.8 396.6h.9v.9h-.9zM268.9 397.4h.9v.9h-.9zM270.2 399.5h.9v.9h-.9zM267.8 398.3h.9v.9h-.9zM274.8 400.9h.9v.9h-.9z"/>
<path d="M272.6 399.4h.9v.9h-.9zM271.0 404.1h.9v.9h-.9zM274.9 398.6h.9v.9h-.9zM268.5 399.7h.9v.9h-.9zM267.9 398.4h.9v.9h-.9zM274.0 405.3h.9v.9h-.9zM271.9 397.3h.9v.9h-.9zM269.6 390.0h.9v.9h-.9zM269.3 395.5h.9v.9h-.9zM270.7 397.0h.9v.9h-.9zM270.8 401.7h.9v.9h-.9zM267.1 399.0h.9v.9h-.9z"/>
<path d="M270.4 397.8h.9v.9h-.9zM267.1 397.5h.9v.9h-.9zM268.5 401.9h.9v.9h-.9zM274.5 399.1h.9v.9h-.9zM271.9 400.0h.9v.9h-.9zM273.2 400.1h.9v.9h-.9zM267.7 396.4h.9v.9h-.9zM273.4 397.8h.9v.9h-.9zM264.9 401.6h.9v.9h-.9zM268.8 398.6h.9v.9h-.9zM269.8 402.4h.9v.9h-.9zM269.1 393.7h.9v.9h-.9z"/>
<path d="M272.2 404.5h.9v.9h-.9zM273.3 399.0h.9v.9h-.9zM271.1 401.6h.9v.9h-.9zM271.0 401.1h.9v.9h-.9zM268.3 394.2h.9v.9h-.9zM272.6 402.7h.9v.9h-.9zM274.2 399.1h.9v.9h-.9zM277.6 402.8h.9v.9h-.9zM268.9 395.1h.9v.9h-.9zM272.5 400.4h.9v.9h-.9zM271.9 401.3h.9v.9h-.9zM271.1 405.8h.9v.9h-.9z"/>
<path d="M266.8 402.0h.9v.9h-.9zM267.5 397.4h.9v.9h-.9zM273.3 409.9h.9v.9h-.9zM273.2 397.0h.9v.9h-.9zM271.3 405.0h.9v.9h-.9zM268.4 398.0h.9v.9h-.9zM266.4 396.8h.9v.9h-.9zM272.4 406.4h.9v.9h-.9zM269.0 392.3h.9v.9h-.9zM271.2 400.8h.9v.9h-.9zM269.8 399.0h.9v.9h-.9zM276.4 402.9h.9v.9h-.9z"/>
<path d="M268.9 391.1h.9v.9h-.9zM273.8 395.6h.9v.9h-.9zM273.9 405.4h.9v.9h-.9zM268.5 400.5h.9v.9h-.9zM269.4 396.5h.9v.9h-.9zM268.5 397.2h.9v.9h-.9zM272.7 397.3h.9v.9h-.9zM268.3 401.1h.9v.9h-.9zM268.4 399.7h.9v.9h-.9zM271.8 401.6h.9v.9h-.9zM271.7 407.1h.9v.9h-.9zM271.6 398.0h.9v.9h-.9z"/>
<path d="M270.7 400.1h.9v.9h-.9zM278.4 396.9h.9v.9h-.9zM268.1 403.4h.9v.9h-.9zM269.0 402.7h.9v.9h-.9zM275.5 398.6h.9v.9h-.9zM270.8 397.2h.9v.9h-.9zM271.0 401.3h.9v.9h-.9zM272.5 401.0h.9v.9h-.9zM268.9 401.0h.9v.9h-.9zM269.8 398.4h.9v.9h-.9zM274.9 405.7h.9v.9h-.9zM272.7 400.9h.9v.9h-.9z"/>
<path d="M268.4 393.3h.9v.9h-.9zM272.2 397.3h.9v.9h-.9zM271.8 395.9h.9v.9h-.9zM273.3 396.9h.9v.9h-.9zM274.8 405.1h.9v.9h-.9zM270.5 395.2h.9v.9h-.9zM269.9 402.4h.9v.9h-.9zM273.4 403.4h.9v.9h-.9zM273.2 401.4h.9v.9h-.9zM275.1 402.8h.9v.9h-.9zM271.5 405.0h.9v.9h-.9zM271.0 395.7h.9v.9h-.9z"/>
<path d="M270.1 395.3h.9v.9h-.9zM268.5 399.4h.9v.9h-.9zM269.6 402.7h.9v.9h-.9zM264.1 397.5h.9v.9h-.9zM275.0 398.9h.9v.9h-.9zM271.6 403.3h.9v.9h-.9zM271.2 397.7h.9v.9h-.9zM272.9 392.4h.9v.9h-.9zM271.6 398.2h.9v.9h-.9zM272.4 401.2h.9v.9h-.9zM274.4 394.3h.9v.9h-.9zM269.2 399.8h.9v.9h-.9z"/>
<path d="M274.7 397.6h.9v.9h-.9zM273.3 399.2h.9v.9h-.9zM269.6 395.5h.9v.9h-.9zM267.7 399.1h.9v.9h-.9zM266.6 400.4h.9v.9h-.9zM267.5 400.2h.9v.9h-.9zM274.9 396.7h.9v.9h-.9zM271.5 405.6h.9v.9h-.9zM267.9 402.4h.9v.9h-.9zM277.1 394.1h.9v.9h-.9zM273.7 399.9h.9v.9h-.9zM269.7 402.6h.9v.9h-.9z"/>
<path d="M270.2 389.4h.9v.9h-.9zM270.1 397.4h.9v.9h-.9zM272.7 398.2h.9v.9h-.9zM271.5 399.7h.9v.9h-.9zM272.0 397.4h.9v.9h-.9zM271.0 397.4h.9v.9h-.9zM269.6 397.9h.9v.9h-.9zM271.3 404.1h.9v.9h-.9zM272.3 400.8h.9v.9h-.9zM270.3 402.8h.9v.9h-.9zM272.4 401.8h.9v.9h-.9zM271.1 402.6h.9v.9h-.9z"/>
<path d="M272.0 398.7h.9v.9h-.9zM273.6 402.9h.9v.9h-.9zM273.6 400.5h.9v.9h-.9zM266.8 398.0h.9v.9h-.9zM271.4 395.4h.9v.9h-.9zM272.1 396.3h.9v.9h-.9zM273.2 395.4h.9v.9h-.9zM266.8 397.5h.9v.9h-.9zM270.0 400.1h.9v.9h-.9zM274.2 400.5h.9v.9h-.9zM274.9 402.3h.9v.9h-.9zM271.5 401.4h.9v.9h-.9z"/>
<path d="M272.0 400.0h.9v.9h-.9zM275.1 397.9h.9v.9h-.9zM268.9 397.4h.9v.9h-.9zM271.2 402.1h.9v.9h-.9zM277.0 400.9h.9v.9h-.9zM268.0 391.4h.9v.9h-.9zM273.9 394.7h.9v.9h-.9zM274.9 402.1h.9v.9h-.9zM268.6 402.0h.9v.9h-.9zM270.5 404.4h.9v.9h-.9zM268.8 398.7h.9v.9h-.9zM270.5 395.8h.9v.9h-.9z"/>
<path d="M272.1 401.2h.9v.9h-.9zM274.3 398.1h.9v.9h-.9zM272.3 397.2h.9v.9h-.9zM268.4 400.9h.9v.9h-.9zM269.5 399.8h.9v.9h-.9zM272.4 396.1h.9v.9h-.9zM273.3 399.4h.9v.9h-.9zM271.2 400.1h.9v.9h-.9zM270.2 406.4h.9v.9h-.9zM268.0 394.5h.9v.9h-.9zM266.9 398.8h.9v.9h-.9zM276.0 401.0h.9v.9h-.9z"/>
<path d="M270.9 401.7h.9v.9h-.9zM275.1 398.1h.9v.9h-.9zM274.2 402.7h.9v.9h-.9zM268.8 401.7h.9v.9h-.9zM275.3 396.6h.9v.9h-.9zM272.1 403.9h.9v.9h-.9zM268.1 396.8h.9v.9h-.9zM274.4 404.7h.9v.9h-.9zM267.6 391.5h.9v.9h-.9zM269.1 398.5h.9v.9h-.9zM270.8 399.2h.9v.9h-.9zM272.1 397.8h.9v.9h-.9z"/>
<path d="M272.8 400.7h.9v.9h-.9zM275.7 404.2h.9v.9h-.9zM267.3 404.2h.9v.9h-.9zM269.7 402.2h.9v.9h-.9zM274.2 399.6h.9v.9h-.9zM272.1 399.1h.9v.9h-.9zM273.9 396.2h.9v.9h-.9zM269.8 401.0h.9v.9h-.9zM269.8 398.8h.9v.9h-.9zM273.2 402.4h.9v.9h-.9zM276.9 397.3h.9v.9h-.9zM267.9 397.1h.9v.9h-.9z"/>
<path d="M267.5 401.7h.9v.9h-.9zM271.2 402.0h.9v.9h-.9zM269.1 394.3h.9v.9h-.9zM266.4 396.3h.9v.9h-.9zM266.1 398.8h.9v.9h-.9zM272.3 400.8h.9v.9h-.9zM275.1 390.9h.9v.9h-.9zM273.1 402.1h.9v.9h-.9zM268.4 401.8h.9v.9h-.9zM271.8 405.4h.9v.9h-.9zM276.8 397.2h.9v.9h-.9zM272.1 400.6h.9v.9h-.9z"/>
<path d="M272.0 399.3h.9v.9h-.9zM271.7 408.4h.9v.9h-.9zM273.9 405.0h.9v.9h-.9zM272.8 400.8h.9v.9h-.9zM265.9 396.1h.9v.9h-.9zM272.8 400.1h.9v.9h-.9zM271.6 397.3h.9v.9h-.9zM272.4 400.3h.9v.9h-.9zM272.1 397.1h.9v.9h-.9zM267.9 400.1h.9v.9h-.9zM269.7 396.6h.9v.9h-.9zM274.5 403.2h.9v.9h-.9z"/>
<path d="M273.8 398.9h.9v.9h-.9zM271.8 405.2h.9v.9h-.9zM271.6 398.7h.9v.9h-.9zM273.8 398.7h.9v.9h-.9zM269.2 401.6h.9v.9h-.9zM271.4 405.2h.9v.9h-.9zM272.6 400.0h.9v.9h-.9zM269.3 398.3h.9v.9h-.9zM271.5 397.9h.9v.9h-.9zM269.9 403.8h.9v.9h-.9zM270.8 395.8h.9v.9h-.9zM274.3 393.6h.9v.9h-.9z"/>
<path d="M271.3 404.3h.9v.9h-.9zM269.4 407.9h.9v.9h-.9zM268.8 399.7h.9v.9h-.9zM274.9 397.8h.9v.9h-.9zM268.5 400.3h.9v.9h-.9zM270.8 401.6h.9v.9h-.9zM270.0 401.4h.9v.9h-.9zM271.3 401.1h.9v.9h-.9zM273.5 402.7h.9v.9h-.9zM269.2 399.6h.9v.9h-.9zM279.7 402.8h.9v.9h-.9zM273.2 400.0h.9v.9h-.9z"/>
</g>
<g fill="#000" fill-opacity="0.3" filter="url(#bl)">
<path d="M244.7 416.9h.9v.9h-.9zM239.5 393.8h.9v.9h-.9zM271.1 399.0h.9v.9h-.9zM248.9 389.5h.9v.9h-.9zM272.1 398.2h.9v.9h-.9zM257.9 396.0h.9v.9h-.9zM257.5 397.3h.9v.9h-.9zM261.3 405.5h.9v.9h-.9zM269.4 398.8h.9v.9h-.9zM267.9 389.3h.9v.9h-.9zM242.7 405.1h.9v.9h-.9zM272.9 393.5h.9v.9h-.9z"/>
<path d="M283.5 399.8h.9v.9h-.9zM254.5 405.3h.9v.9h-.9zM265.5 397.7h.9v.9h-.9zM249.3 378.3h.9v.9h-.9zM249.0 412.2h.9v.9h-.9zM279.0 399.7h.9v.9h-.9zM239.5 409.0h.9v.9h-.9zM272.5 394.3h.9v.9h-.9zM265.5 410.3h.9v.9h-.9zM241.5 404.7h.9v.9h-.9zM270.1 406.5h.9v.9h-.9zM268.7 398.3h.9v.9h-.9z"/>
<path d="M256.2 403.2h.9v.9h-.9zM272.5 382.6h.9v.9h-.9zM279.6 413.1h.9v.9h-.9zM270.1 399.6h.9v.9h-.9zM245.5 395.3h.9v.9h-.9zM257.2 398.5h.9v.9h-.9zM243.2 403.8h.9v.9h-.9zM259.3 390.8h.9v.9h-.9zM250.3 388.1h.9v.9h-.9zM252.3 397.2h.9v.9h-.9zM245.4 393.9h.9v.9h-.9zM268.4 410.6h.9v.9h-.9z"/>
<path d="M259.6 391.6h.9v.9h-.9zM250.0 402.8h.9v.9h-.9zM251.9 390.0h.9v.9h-.9zM279.9 388.3h.9v.9h-.9zM255.5 387.4h.9v.9h-.9zM241.1 403.1h.9v.9h-.9zM258.3 411.9h.9v.9h-.9zM242.7 370.8h.9v.9h-.9zM270.9 396.8h.9v.9h-.9zM252.5 387.4h.9v.9h-.9zM258.4 391.4h.9v.9h-.9zM277.2 405.0h.9v.9h-.9z"/>
<path d="M248.1 380.2h.9v.9h-.9zM265.0 394.6h.9v.9h-.9zM273.5 403.7h.9v.9h-.9zM246.2 382.2h.9v.9h-.9zM249.0 400.4h.9v.9h-.9zM280.5 385.6h.9v.9h-.9zM263.9 396.3h.9v.9h-.9zM258.5 404.9h.9v.9h-.9zM261.8 392.8h.9v.9h-.9zM265.0 410.8h.9v.9h-.9zM268.6 397.2h.9v.9h-.9zM267.6 408.6h.9v.9h-.9z"/>
<path d="M275.5 398.2h.9v.9h-.9zM298.2 391.2h.9v.9h-.9zM253.0 410.4h.9v.9h-.9zM260.5 398.7h.9v.9h-.9zM252.8 399.1h.9v.9h-.9zM262.0 403.2h.9v.9h-.9zM258.8 383.7h.9v.9h-.9zM244.9 384.6h.9v.9h-.9zM302.4 402.2h.9v.9h-.9zM298.8 395.8h.9v.9h-.9zM255.4 390.3h.9v.9h-.9zM241.7 398.8h.9v.9h-.9z"/>
<path d="M249.7 397.7h.9v.9h-.9zM257.9 413.9h.9v.9h-.9zM287.4 402.1h.9v.9h-.9zM253.3 414.6h.9v.9h-.9zM275.7 400.9h.9v.9h-.9zM287.3 394.6h.9v.9h-.9zM272.1 393.6h.9v.9h-.9zM271.0 399.4h.9v.9h-.9zM249.9 392.1h.9v.9h-.9zM244.2 398.3h.9v.9h-.9zM272.8 403.8h.9v.9h-.9zM262.5 392.4h.9v.9h-.9z"/>
<path d="M274.2 404.5h.9v.9h-.9zM258.4 382.4h.9v.9h-.9zM286.5 403.3h.9v.9h-.9zM270.1 394.7h.9v.9h-.9zM270.3 404.9h.9v.9h-.9zM263.0 394.0h.9v.9h-.9zM261.3 389.6h.9v.9h-.9zM272.8 392.0h.9v.9h-.9zM249.6 401.6h.9v.9h-.9zM248.7 415.5h.9v.9h-.9zM261.7 397.4h.9v.9h-.9zM280.3 398.2h.9v.9h-.9z"/>
<path d="M261.4 388.7h.9v.9h-.9zM273.2 404.8h.9v.9h-.9zM264.0 406.7h.9v.9h-.9zM258.1 410.2h.9v.9h-.9zM253.5 386.0h.9v.9h-.9zM250.0 416.7h.9v.9h-.9zM242.4 397.8h.9v.9h-.9zM247.5 390.7h.9v.9h-.9z"/>
</g>
<rect x="237.80" y="352.90" width="72.70" height="67.50" rx="1" fill="none" stroke="#8a8a8a" stroke-width="1.1"/>
<line x1="260.40" y1="352.90" x2="260.40" y2="420.40" stroke="#808080" stroke-width="1"/>
<line x1="237.80" y1="390.20" x2="310.50" y2="390.20" stroke="#808080" stroke-width="1"/>
<text x="240.40" y="363.80" font-size="9.6" text-anchor="start" >17.2</text>
<text x="308.40" y="363.60" font-size="9.6" text-anchor="end" >23.5</text>
<text x="308.40" y="418.40" font-size="9.6" text-anchor="end" >55.7</text>
<text x="265.00" y="350.00" font-size="10.4" text-anchor="start" >f/wt</text>
<line x1="235.30" y1="359.50" x2="237.80" y2="359.50" stroke="#555" stroke-width="0.9"/>
<text x="230.6" y="360.1" font-size="4.2" fill="#555" style="stroke:none">10<tspan dy="-1.6" font-size="3">1</tspan></text>
<line x1="236.60" y1="354.32" x2="237.80" y2="354.32" stroke="#777" stroke-width="0.6"/>
<line x1="235.30" y1="376.70" x2="237.80" y2="376.70" stroke="#555" stroke-width="0.9"/>
<text x="230.6" y="377.3" font-size="4.2" fill="#555" style="stroke:none">10<tspan dy="-1.6" font-size="3">2</tspan></text>
<line x1="236.60" y1="371.52" x2="237.80" y2="371.52" stroke="#777" stroke-width="0.6"/>
<line x1="236.60" y1="368.49" x2="237.80" y2="368.49" stroke="#777" stroke-width="0.6"/>
<line x1="236.60" y1="366.34" x2="237.80" y2="366.34" stroke="#777" stroke-width="0.6"/>
<line x1="236.60" y1="364.68" x2="237.80" y2="364.68" stroke="#777" stroke-width="0.6"/>
<line x1="236.60" y1="363.32" x2="237.80" y2="363.32" stroke="#777" stroke-width="0.6"/>
<line x1="236.60" y1="362.16" x2="237.80" y2="362.16" stroke="#777" stroke-width="0.6"/>
<line x1="236.60" y1="361.17" x2="237.80" y2="361.17" stroke="#777" stroke-width="0.6"/>
<line x1="236.60" y1="360.29" x2="237.80" y2="360.29" stroke="#777" stroke-width="0.6"/>
<line x1="235.30" y1="393.90" x2="237.80" y2="393.90" stroke="#555" stroke-width="0.9"/>
<text x="230.6" y="394.5" font-size="4.2" fill="#555" style="stroke:none">10<tspan dy="-1.6" font-size="3">3</tspan></text>
<line x1="236.60" y1="388.72" x2="237.80" y2="388.72" stroke="#777" stroke-width="0.6"/>
<line x1="236.60" y1="385.69" x2="237.80" y2="385.69" stroke="#777" stroke-width="0.6"/>
<line x1="236.60" y1="383.54" x2="237.80" y2="383.54" stroke="#777" stroke-width="0.6"/>
<line x1="236.60" y1="381.88" x2="237.80" y2="381.88" stroke="#777" stroke-width="0.6"/>
<line x1="236.60" y1="380.52" x2="237.80" y2="380.52" stroke="#777" stroke-width="0.6"/>
<line x1="236.60" y1="379.36" x2="237.80" y2="379.36" stroke="#777" stroke-width="0.6"/>
<line x1="236.60" y1="378.37" x2="237.80" y2="378.37" stroke="#777" stroke-width="0.6"/>
<line x1="236.60" y1="377.49" x2="237.80" y2="377.49" stroke="#777" stroke-width="0.6"/>
<line x1="235.30" y1="411.10" x2="237.80" y2="411.10" stroke="#555" stroke-width="0.9"/>
<text x="230.6" y="411.7" font-size="4.2" fill="#555" style="stroke:none">10<tspan dy="-1.6" font-size="3">4</tspan></text>
<line x1="236.60" y1="405.92" x2="237.80" y2="405.92" stroke="#777" stroke-width="0.6"/>
<line x1="236.60" y1="402.89" x2="237.80" y2="402.89" stroke="#777" stroke-width="0.6"/>
<line x1="236.60" y1="400.74" x2="237.80" y2="400.74" stroke="#777" stroke-width="0.6"/>
<line x1="236.60" y1="399.08" x2="237.80" y2="399.08" stroke="#777" stroke-width="0.6"/>
<line x1="236.60" y1="397.72" x2="237.80" y2="397.72" stroke="#777" stroke-width="0.6"/>
<line x1="236.60" y1="396.56" x2="237.80" y2="396.56" stroke="#777" stroke-width="0.6"/>
<line x1="236.60" y1="395.57" x2="237.80" y2="395.57" stroke="#777" stroke-width="0.6"/>
<line x1="236.60" y1="394.69" x2="237.80" y2="394.69" stroke="#777" stroke-width="0.6"/>
<line x1="248.30" y1="420.40" x2="248.30" y2="422.90" stroke="#555" stroke-width="0.9"/>
<text x="246.1" y="426.6" font-size="4.2" fill="#555" style="stroke:none">10<tspan dy="-1.6" font-size="3">1</tspan></text>
<line x1="253.72" y1="420.40" x2="253.72" y2="421.60" stroke="#777" stroke-width="0.6"/>
<line x1="256.89" y1="420.40" x2="256.89" y2="421.60" stroke="#777" stroke-width="0.6"/>
<line x1="259.14" y1="420.40" x2="259.14" y2="421.60" stroke="#777" stroke-width="0.6"/>
<line x1="260.88" y1="420.40" x2="260.88" y2="421.60" stroke="#777" stroke-width="0.6"/>
<line x1="262.31" y1="420.40" x2="262.31" y2="421.60" stroke="#777" stroke-width="0.6"/>
<line x1="263.51" y1="420.40" x2="263.51" y2="421.60" stroke="#777" stroke-width="0.6"/>
<line x1="264.56" y1="420.40" x2="264.56" y2="421.60" stroke="#777" stroke-width="0.6"/>
<line x1="265.48" y1="420.40" x2="265.48" y2="421.60" stroke="#777" stroke-width="0.6"/>
<line x1="266.30" y1="420.40" x2="266.30" y2="422.90" stroke="#555" stroke-width="0.9"/>
<text x="264.1" y="426.6" font-size="4.2" fill="#555" style="stroke:none">10<tspan dy="-1.6" font-size="3">2</tspan></text>
<line x1="271.72" y1="420.40" x2="271.72" y2="421.60" stroke="#777" stroke-width="0.6"/>
<line x1="274.89" y1="420.40" x2="274.89" y2="421.60" stroke="#777" stroke-width="0.6"/>
<line x1="277.14" y1="420.40" x2="277.14" y2="421.60" stroke="#777" stroke-width="0.6"/>
<line x1="278.88" y1="420.40" x2="278.88" y2="421.60" stroke="#777" stroke-width="0.6"/>
<line x1="280.31" y1="420.40" x2="280.31" y2="421.60" stroke="#777" stroke-width="0.6"/>
<line x1="281.51" y1="420.40" x2="281.51" y2="421.60" stroke="#777" stroke-width="0.6"/>
<line x1="282.56" y1="420.40" x2="282.56" y2="421.60" stroke="#777" stroke-width="0.6"/>
<line x1="283.48" y1="420.40" x2="283.48" y2="421.60" stroke="#777" stroke-width="0.6"/>
<line x1="284.30" y1="420.40" x2="284.30" y2="422.90" stroke="#555" stroke-width="0.9"/>
<text x="282.1" y="426.6" font-size="4.2" fill="#555" style="stroke:none">10<tspan dy="-1.6" font-size="3">3</tspan></text>
<line x1="289.72" y1="420.40" x2="289.72" y2="421.60" stroke="#777" stroke-width="0.6"/>
<line x1="292.89" y1="420.40" x2="292.89" y2="421.60" stroke="#777" stroke-width="0.6"/>
<line x1="295.14" y1="420.40" x2="295.14" y2="421.60" stroke="#777" stroke-width="0.6"/>
<line x1="296.88" y1="420.40" x2="296.88" y2="421.60" stroke="#777" stroke-width="0.6"/>
<line x1="298.31" y1="420.40" x2="298.31" y2="421.60" stroke="#777" stroke-width="0.6"/>
<line x1="299.51" y1="420.40" x2="299.51" y2="421.60" stroke="#777" stroke-width="0.6"/>
<line x1="300.56" y1="420.40" x2="300.56" y2="421.60" stroke="#777" stroke-width="0.6"/>
<line x1="301.48" y1="420.40" x2="301.48" y2="421.60" stroke="#777" stroke-width="0.6"/>
<line x1="302.30" y1="420.40" x2="302.30" y2="422.90" stroke="#555" stroke-width="0.9"/>
<text x="300.1" y="426.6" font-size="4.2" fill="#555" style="stroke:none">10<tspan dy="-1.6" font-size="3">4</tspan></text>
<line x1="307.72" y1="420.40" x2="307.72" y2="421.60" stroke="#777" stroke-width="0.6"/>
<g fill="#000" fill-opacity="0.32" filter="url(#bl)">
<path d="M354.2 386.1h.9v.9h-.9zM328.3 373.9h.9v.9h-.9zM341.0 385.2h.9v.9h-.9zM340.5 375.9h.9v.9h-.9zM337.0 388.0h.9v.9h-.9zM328.2 386.4h.9v.9h-.9zM347.2 384.0h.9v.9h-.9zM349.7 379.7h.9v.9h-.9zM340.8 389.6h.9v.9h-.9zM338.1 380.2h.9v.9h-.9zM328.0 380.0h.9v.9h-.9zM349.4 387.2h.9v.9h-.9z"/>
<path d="M348.5 384.7h.9v.9h-.9zM347.9 383.4h.9v.9h-.9zM352.1 381.4h.9v.9h-.9zM352.7 381.7h.9v.9h-.9zM340.1 380.1h.9v.9h-.9zM330.0 378.8h.9v.9h-.9zM343.9 383.7h.9v.9h-.9zM350.5 378.4h.9v.9h-.9zM345.8 386.3h.9v.9h-.9zM345.6 389.4h.9v.9h-.9zM337.4 382.0h.9v.9h-.9zM343.8 380.3h.9v.9h-.9z"/>
<path d="M341.5 383.0h.9v.9h-.9zM341.7 379.9h.9v.9h-.9zM337.6 381.7h.9v.9h-.9zM326.9 382.8h.9v.9h-.9zM331.2 381.0h.9v.9h-.9zM331.3 382.4h.9v.9h-.9zM338.3 380.9h.9v.9h-.9zM334.8 382.5h.9v.9h-.9zM357.7 374.6h.9v.9h-.9zM347.1 382.9h.9v.9h-.9zM338.2 376.8h.9v.9h-.9zM357.5 382.8h.9v.9h-.9z"/>
<path d="M351.8 380.5h.9v.9h-.9zM334.5 386.5h.9v.9h-.9zM349.3 380.8h.9v.9h-.9zM339.9 384.6h.9v.9h-.9zM334.2 378.6h.9v.9h-.9zM341.6 386.2h.9v.9h-.9zM350.5 382.8h.9v.9h-.9zM355.2 381.4h.9v.9h-.9zM337.2 391.6h.9v.9h-.9zM337.2 384.5h.9v.9h-.9zM347.5 382.5h.9v.9h-.9zM344.3 384.9h.9v.9h-.9z"/>
<path d="M347.5 379.6h.9v.9h-.9zM342.1 387.7h.9v.9h-.9zM349.2 380.3h.9v.9h-.9zM342.7 378.0h.9v.9h-.9zM329.5 379.9h.9v.9h-.9zM357.7 379.5h.9v.9h-.9zM335.4 385.1h.9v.9h-.9zM354.2 380.7h.9v.9h-.9zM343.3 378.4h.9v.9h-.9zM353.9 379.1h.9v.9h-.9zM342.4 391.8h.9v.9h-.9zM333.1 382.7h.9v.9h-.9z"/>
<path d="M341.6 384.0h.9v.9h-.9zM346.7 388.1h.9v.9h-.9zM346.9 384.5h.9v.9h-.9zM330.1 383.7h.9v.9h-.9zM329.2 387.0h.9v.9h-.9zM341.6 386.0h.9v.9h-.9zM337.3 383.0h.9v.9h-.9zM343.0 384.3h.9v.9h-.9zM341.1 379.7h.9v.9h-.9zM338.5 379.4h.9v.9h-.9zM333.2 377.1h.9v.9h-.9zM327.9 389.8h.9v.9h-.9z"/>
<path d="M334.9 377.5h.9v.9h-.9zM351.8 383.2h.9v.9h-.9zM340.9 386.7h.9v.9h-.9zM360.2 378.6h.9v.9h-.9zM356.0 384.4h.9v.9h-.9zM353.5 379.9h.9v.9h-.9zM358.5 386.8h.9v.9h-.9zM355.2 376.4h.9v.9h-.9zM345.4 381.3h.9v.9h-.9zM344.3 378.6h.9v.9h-.9zM348.4 385.1h.9v.9h-.9zM341.2 381.8h.9v.9h-.9z"/>
<path d="M329.7 382.2h.9v.9h-.9zM334.4 392.7h.9v.9h-.9zM342.2 388.3h.9v.9h-.9zM341.8 381.9h.9v.9h-.9zM349.3 381.9h.9v.9h-.9zM364.9 381.3h.9v.9h-.9zM358.0 377.2h.9v.9h-.9zM333.3 384.7h.9v.9h-.9zM328.7 390.1h.9v.9h-.9zM347.3 382.4h.9v.9h-.9zM359.4 379.9h.9v.9h-.9zM334.8 371.4h.9v.9h-.9z"/>
<path d="M351.7 383.9h.9v.9h-.9zM328.6 385.0h.9v.9h-.9zM352.2 381.1h.9v.9h-.9zM342.8 383.0h.9v.9h-.9zM349.3 378.4h.9v.9h-.9zM332.8 385.3h.9v.9h-.9zM347.2 384.0h.9v.9h-.9zM342.7 385.2h.9v.9h-.9zM346.8 379.6h.9v.9h-.9zM358.9 386.5h.9v.9h-.9zM339.8 381.6h.9v.9h-.9zM335.1 376.3h.9v.9h-.9z"/>
<path d="M331.8 376.1h.9v.9h-.9zM335.7 383.4h.9v.9h-.9zM341.5 376.1h.9v.9h-.9zM340.2 379.4h.9v.9h-.9zM331.3 386.6h.9v.9h-.9zM331.8 385.8h.9v.9h-.9zM335.2 386.0h.9v.9h-.9zM346.1 378.8h.9v.9h-.9zM348.4 387.3h.9v.9h-.9zM355.2 388.1h.9v.9h-.9zM338.6 391.0h.9v.9h-.9zM336.3 381.5h.9v.9h-.9z"/>
<path d="M327.0 381.2h.9v.9h-.9zM327.9 382.5h.9v.9h-.9zM350.2 388.7h.9v.9h-.9zM353.8 382.7h.9v.9h-.9zM346.9 382.9h.9v.9h-.9zM338.3 386.0h.9v.9h-.9zM328.5 382.9h.9v.9h-.9zM336.5 385.2h.9v.9h-.9zM349.7 377.7h.9v.9h-.9zM330.9 388.2h.9v.9h-.9zM352.6 382.0h.9v.9h-.9zM350.5 382.3h.9v.9h-.9z"/>
<path d="M346.9 380.5h.9v.9h-.9zM347.6 389.1h.9v.9h-.9zM356.7 387.4h.9v.9h-.9zM343.5 386.1h.9v.9h-.9zM338.0 380.9h.9v.9h-.9zM343.7 377.5h.9v.9h-.9zM344.2 374.9h.9v.9h-.9zM358.5 385.6h.9v.9h-.9zM345.2 379.2h.9v.9h-.9zM336.3 380.5h.9v.9h-.9zM333.2 385.6h.9v.9h-.9zM355.5 388.2h.9v.9h-.9z"/>
<path d="M328.8 376.4h.9v.9h-.9zM356.5 385.4h.9v.9h-.9zM352.7 384.9h.9v.9h-.9zM344.6 391.0h.9v.9h-.9zM350.9 384.9h.9v.9h-.9zM332.3 382.8h.9v.9h-.9zM355.6 384.5h.9v.9h-.9zM351.3 381.3h.9v.9h-.9zM349.3 379.7h.9v.9h-.9zM340.4 386.6h.9v.9h-.9zM359.1 380.8h.9v.9h-.9zM340.1 381.1h.9v.9h-.9z"/>
<path d="M340.3 382.2h.9v.9h-.9zM351.0 383.6h.9v.9h-.9zM342.2 384.0h.9v.9h-.9zM361.9 377.8h.9v.9h-.9zM336.4 383.2h.9v.9h-.9zM352.2 381.0h.9v.9h-.9zM331.7 388.5h.9v.9h-.9zM334.7 372.3h.9v.9h-.9zM355.7 390.3h.9v.9h-.9zM327.1 380.3h.9v.9h-.9zM339.6 385.0h.9v.9h-.9zM340.2 384.5h.9v.9h-.9z"/>
<path d="M346.9 381.5h.9v.9h-.9zM342.6 387.9h.9v.9h-.9zM344.0 384.8h.9v.9h-.9zM341.9 385.1h.9v.9h-.9zM358.4 382.4h.9v.9h-.9zM337.3 379.0h.9v.9h-.9zM352.3 378.8h.9v.9h-.9zM346.9 392.7h.9v.9h-.9zM344.3 389.6h.9v.9h-.9zM342.3 381.7h.9v.9h-.9zM348.0 378.4h.9v.9h-.9zM334.9 382.9h.9v.9h-.9z"/>
<path d="M361.8 384.7h.9v.9h-.9zM326.9 383.9h.9v.9h-.9zM363.6 378.2h.9v.9h-.9zM340.2 384.0h.9v.9h-.9zM340.5 381.2h.9v.9h-.9zM350.7 381.4h.9v.9h-.9zM334.6 383.6h.9v.9h-.9zM336.5 386.7h.9v.9h-.9zM342.5 381.3h.9v.9h-.9zM337.8 384.6h.9v.9h-.9zM352.4 380.8h.9v.9h-.9zM334.5 384.7h.9v.9h-.9z"/>
<path d="M336.1 383.8h.9v.9h-.9zM339.7 378.7h.9v.9h-.9zM329.0 381.7h.9v.9h-.9zM343.7 375.1h.9v.9h-.9zM364.2 378.7h.9v.9h-.9zM339.5 377.5h.9v.9h-.9zM329.4 388.4h.9v.9h-.9zM334.7 384.6h.9v.9h-.9zM358.1 382.8h.9v.9h-.9zM339.1 386.8h.9v.9h-.9zM339.1 374.2h.9v.9h-.9zM355.9 379.9h.9v.9h-.9z"/>
<path d="M344.5 391.6h.9v.9h-.9zM351.7 383.5h.9v.9h-.9zM359.2 378.3h.9v.9h-.9zM343.3 383.1h.9v.9h-.9zM335.3 391.3h.9v.9h-.9zM350.6 382.9h.9v.9h-.9zM335.2 381.9h.9v.9h-.9zM345.3 380.6h.9v.9h-.9zM371.7 389.4h.9v.9h-.9zM349.1 382.2h.9v.9h-.9zM335.3 386.7h.9v.9h-.9zM346.7 376.5h.9v.9h-.9z"/>
<path d="M342.9 381.3h.9v.9h-.9zM340.0 381.8h.9v.9h-.9zM343.4 381.2h.9v.9h-.9zM350.8 384.5h.9v.9h-.9zM340.8 381.5h.9v.9h-.9zM339.0 380.5h.9v.9h-.9zM340.7 383.1h.9v.9h-.9zM339.3 374.2h.9v.9h-.9zM343.1 378.3h.9v.9h-.9zM342.0 392.8h.9v.9h-.9zM352.7 371.9h.9v.9h-.9zM334.3 375.4h.9v.9h-.9z"/>
<path d="M334.0 382.0h.9v.9h-.9zM339.1 382.2h.9v.9h-.9zM337.8 378.6h.9v.9h-.9zM349.5 388.8h.9v.9h-.9zM333.4 381.4h.9v.9h-.9zM362.9 377.4h.9v.9h-.9zM330.8 384.4h.9v.9h-.9zM351.4 382.0h.9v.9h-.9zM353.9 381.6h.9v.9h-.9zM344.4 382.0h.9v.9h-.9zM345.5 382.2h.9v.9h-.9zM356.9 385.2h.9v.9h-.9z"/>
<path d="M358.9 381.5h.9v.9h-.9zM334.3 379.5h.9v.9h-.9zM338.1 383.5h.9v.9h-.9zM337.9 383.3h.9v.9h-.9zM346.6 377.1h.9v.9h-.9zM328.0 387.7h.9v.9h-.9zM335.7 390.1h.9v.9h-.9zM339.2 376.2h.9v.9h-.9zM330.3 378.7h.9v.9h-.9zM368.9 374.1h.9v.9h-.9zM342.7 391.6h.9v.9h-.9zM352.6 378.0h.9v.9h-.9z"/>
<path d="M358.1 387.6h.9v.9h-.9zM335.5 384.6h.9v.9h-.9zM346.1 381.5h.9v.9h-.9zM337.6 379.6h.9v.9h-.9zM346.8 379.9h.9v.9h-.9zM351.1 385.0h.9v.9h-.9zM340.4 385.4h.9v.9h-.9zM338.6 387.1h.9v.9h-.9zM350.7 386.0h.9v.9h-.9zM348.5 376.2h.9v.9h-.9zM341.6 386.8h.9v.9h-.9zM351.4 384.6h.9v.9h-.9z"/>
<path d="M342.0 381.8h.9v.9h-.9zM328.4 374.4h.9v.9h-.9zM340.4 385.6h.9v.9h-.9zM339.6 379.8h.9v.9h-.9zM340.3 387.8h.9v.9h-.9zM336.0 381.7h.9v.9h-.9zM345.7 386.6h.9v.9h-.9zM346.5 379.9h.9v.9h-.9zM337.1 377.3h.9v.9h-.9zM340.2 386.3h.9v.9h-.9zM344.0 380.2h.9v.9h-.9z"/>
</g>
<g fill="#000" fill-opacity="0.3" filter="url(#bl)">
<path d="M351.4 382.6h.9v.9h-.9zM364.6 386.8h.9v.9h-.9zM362.4 387.7h.9v.9h-.9zM367.9 385.0h.9v.9h-.9zM363.8 375.9h.9v.9h-.9zM363.9 382.7h.9v.9h-.9zM361.0 380.2h.9v.9h-.9zM357.3 379.4h.9v.9h-.9zM358.7 379.8h.9v.9h-.9zM366.6 382.8h.9v.9h-.9zM360.3 381.5h.9v.9h-.9zM358.3 381.1h.9v.9h-.9z"/>
<path d="M353.3 386.2h.9v.9h-.9zM354.3 379.2h.9v.9h-.9zM356.4 393.6h.9v.9h-.9zM366.7 385.2h.9v.9h-.9zM361.3 385.5h.9v.9h-.9zM362.3 393.9h.9v.9h-.9zM370.1 384.9h.9v.9h-.9zM347.3 380.2h.9v.9h-.9zM361.1 382.3h.9v.9h-.9zM362.4 382.9h.9v.9h-.9zM362.8 386.1h.9v.9h-.9zM356.1 378.8h.9v.9h-.9z"/>
<path d="M357.2 381.3h.9v.9h-.9zM352.9 384.6h.9v.9h-.9zM367.8 382.7h.9v.9h-.9zM356.6 379.7h.9v.9h-.9zM361.4 385.3h.9v.9h-.9zM360.8 390.8h.9v.9h-.9zM361.3 388.6h.9v.9h-.9zM357.0 385.9h.9v.9h-.9zM353.4 387.6h.9v.9h-.9zM369.6 380.4h.9v.9h-.9zM353.7 385.4h.9v.9h-.9zM359.5 387.9h.9v.9h-.9z"/>
<path d="M340.8 381.8h.9v.9h-.9zM363.1 385.2h.9v.9h-.9zM351.8 387.3h.9v.9h-.9zM360.3 384.4h.9v.9h-.9zM357.8 383.7h.9v.9h-.9zM363.6 378.4h.9v.9h-.9zM335.4 386.9h.9v.9h-.9zM342.2 385.1h.9v.9h-.9zM359.5 385.7h.9v.9h-.9zM351.5 386.6h.9v.9h-.9zM357.2 382.1h.9v.9h-.9zM357.5 380.6h.9v.9h-.9z"/>
<path d="M370.8 381.5h.9v.9h-.9zM359.3 382.7h.9v.9h-.9zM360.7 384.4h.9v.9h-.9zM357.3 384.4h.9v.9h-.9zM360.5 385.1h.9v.9h-.9zM366.8 383.8h.9v.9h-.9zM358.7 386.4h.9v.9h-.9zM358.4 386.0h.9v.9h-.9zM363.6 374.9h.9v.9h-.9zM360.1 382.5h.9v.9h-.9zM348.2 378.9h.9v.9h-.9zM349.4 388.5h.9v.9h-.9z"/>
<path d="M367.4 384.4h.9v.9h-.9zM358.7 379.6h.9v.9h-.9zM374.0 390.6h.9v.9h-.9zM361.2 380.8h.9v.9h-.9zM358.5 381.5h.9v.9h-.9zM350.8 379.6h.9v.9h-.9zM352.9 381.4h.9v.9h-.9zM362.3 380.1h.9v.9h-.9zM362.6 385.0h.9v.9h-.9zM366.2 389.9h.9v.9h-.9zM375.7 388.3h.9v.9h-.9zM356.6 383.3h.9v.9h-.9z"/>
<path d="M379.0 379.7h.9v.9h-.9zM359.9 389.4h.9v.9h-.9zM359.4 386.2h.9v.9h-.9zM372.0 388.0h.9v.9h-.9zM359.8 386.8h.9v.9h-.9zM361.6 387.1h.9v.9h-.9zM363.5 383.0h.9v.9h-.9zM360.0 385.3h.9v.9h-.9zM358.1 382.1h.9v.9h-.9zM366.0 375.0h.9v.9h-.9zM357.7 388.6h.9v.9h-.9zM361.6 379.4h.9v.9h-.9z"/>
<path d="M352.6 392.5h.9v.9h-.9zM364.2 384.0h.9v.9h-.9zM360.1 383.0h.9v.9h-.9zM361.9 380.6h.9v.9h-.9zM360.6 383.9h.9v.9h-.9zM360.8 388.1h.9v.9h-.9zM346.9 383.8h.9v.9h-.9zM360.6 385.1h.9v.9h-.9zM359.2 385.9h.9v.9h-.9zM367.0 382.3h.9v.9h-.9zM360.8 387.5h.9v.9h-.9zM358.3 388.6h.9v.9h-.9z"/>
<path d="M354.7 389.3h.9v.9h-.9zM361.3 390.2h.9v.9h-.9zM369.1 380.4h.9v.9h-.9zM366.0 386.4h.9v.9h-.9zM360.1 382.5h.9v.9h-.9zM362.1 383.2h.9v.9h-.9zM359.7 384.3h.9v.9h-.9zM360.0 383.2h.9v.9h-.9zM349.8 385.0h.9v.9h-.9zM336.5 385.4h.9v.9h-.9zM358.5 383.8h.9v.9h-.9zM355.7 385.5h.9v.9h-.9z"/>
<path d="M362.9 382.1h.9v.9h-.9zM355.1 380.1h.9v.9h-.9zM351.0 386.0h.9v.9h-.9zM358.7 390.0h.9v.9h-.9zM348.6 379.5h.9v.9h-.9zM360.3 382.3h.9v.9h-.9zM361.6 380.6h.9v.9h-.9zM368.0 383.1h.9v.9h-.9zM361.8 388.8h.9v.9h-.9zM351.0 382.6h.9v.9h-.9zM352.0 387.7h.9v.9h-.9zM346.9 382.1h.9v.9h-.9z"/>
<path d="M354.7 387.9h.9v.9h-.9zM370.6 384.4h.9v.9h-.9zM372.3 387.0h.9v.9h-.9zM350.0 383.4h.9v.9h-.9zM352.2 387.4h.9v.9h-.9zM362.3 385.4h.9v.9h-.9zM353.2 383.2h.9v.9h-.9zM350.8 383.9h.9v.9h-.9zM369.0 383.2h.9v.9h-.9zM369.3 384.7h.9v.9h-.9zM357.1 386.4h.9v.9h-.9zM349.2 390.7h.9v.9h-.9z"/>
<path d="M361.0 379.5h.9v.9h-.9zM364.4 380.1h.9v.9h-.9zM365.5 389.3h.9v.9h-.9zM365.9 379.2h.9v.9h-.9zM356.8 388.6h.9v.9h-.9zM362.6 386.3h.9v.9h-.9zM375.6 388.4h.9v.9h-.9zM357.5 379.2h.9v.9h-.9z"/>
</g>
<g fill="#000" fill-opacity="0.38" filter="url(#bl)">
<path d="M357.9 389.2h.9v.9h-.9zM357.3 398.4h.9v.9h-.9zM354.8 397.6h.9v.9h-.9zM358.4 400.6h.9v.9h-.9zM354.7 392.9h.9v.9h-.9zM361.3 401.1h.9v.9h-.9zM361.5 380.7h.9v.9h-.9zM359.8 386.9h.9v.9h-.9zM360.2 392.1h.9v.9h-.9zM356.1 394.2h.9v.9h-.9zM363.4 397.9h.9v.9h-.9zM363.6 398.2h.9v.9h-.9z"/>
<path d="M358.8 405.0h.9v.9h-.9zM370.6 394.8h.9v.9h-.9zM361.5 389.5h.9v.9h-.9zM361.1 392.9h.9v.9h-.9zM367.4 401.0h.9v.9h-.9zM362.1 404.6h.9v.9h-.9zM362.6 381.7h.9v.9h-.9zM368.8 408.7h.9v.9h-.9zM361.7 405.2h.9v.9h-.9zM363.4 389.7h.9v.9h-.9zM353.3 405.7h.9v.9h-.9zM365.5 408.3h.9v.9h-.9z"/>
<path d="M370.6 398.2h.9v.9h-.9zM364.7 402.4h.9v.9h-.9zM364.8 401.6h.9v.9h-.9zM358.6 399.8h.9v.9h-.9zM351.8 399.6h.9v.9h-.9zM358.8 393.4h.9v.9h-.9zM362.8 400.2h.9v.9h-.9zM362.5 393.9h.9v.9h-.9zM357.9 396.3h.9v.9h-.9zM360.3 395.5h.9v.9h-.9zM355.7 398.5h.9v.9h-.9zM357.6 397.3h.9v.9h-.9z"/>
<path d="M355.9 383.6h.9v.9h-.9zM361.5 400.3h.9v.9h-.9zM360.2 403.3h.9v.9h-.9zM361.9 396.9h.9v.9h-.9zM366.9 400.7h.9v.9h-.9zM357.6 398.4h.9v.9h-.9zM359.0 392.3h.9v.9h-.9zM364.4 397.6h.9v.9h-.9zM358.4 397.2h.9v.9h-.9zM370.9 408.1h.9v.9h-.9zM367.2 392.3h.9v.9h-.9zM353.5 397.0h.9v.9h-.9z"/>
<path d="M361.5 401.8h.9v.9h-.9zM361.8 402.7h.9v.9h-.9zM356.3 401.7h.9v.9h-.9zM360.4 403.4h.9v.9h-.9zM363.7 388.2h.9v.9h-.9zM360.9 405.7h.9v.9h-.9zM366.5 403.9h.9v.9h-.9zM358.7 395.1h.9v.9h-.9zM364.8 391.6h.9v.9h-.9zM364.9 397.5h.9v.9h-.9zM366.0 407.1h.9v.9h-.9zM361.0 393.7h.9v.9h-.9z"/>
<path d="M358.1 399.0h.9v.9h-.9zM347.3 400.2h.9v.9h-.9zM360.6 403.6h.9v.9h-.9zM370.8 386.1h.9v.9h-.9zM354.7 396.6h.9v.9h-.9zM353.2 396.7h.9v.9h-.9zM370.4 392.0h.9v.9h-.9zM355.9 394.7h.9v.9h-.9zM365.5 391.4h.9v.9h-.9zM363.3 398.1h.9v.9h-.9zM360.2 387.2h.9v.9h-.9zM360.6 398.6h.9v.9h-.9z"/>
<path d="M354.1 410.8h.9v.9h-.9zM361.3 392.6h.9v.9h-.9zM362.2 396.1h.9v.9h-.9zM360.5 390.4h.9v.9h-.9zM365.2 398.0h.9v.9h-.9zM358.3 402.2h.9v.9h-.9zM355.8 399.9h.9v.9h-.9zM362.9 404.3h.9v.9h-.9zM367.6 401.6h.9v.9h-.9zM363.3 393.7h.9v.9h-.9zM348.5 401.4h.9v.9h-.9zM365.0 390.7h.9v.9h-.9z"/>
<path d="M349.5 389.3h.9v.9h-.9zM354.1 398.5h.9v.9h-.9zM364.5 394.7h.9v.9h-.9zM354.4 401.0h.9v.9h-.9zM359.3 388.8h.9v.9h-.9zM357.6 400.3h.9v.9h-.9zM362.0 388.6h.9v.9h-.9zM357.2 397.0h.9v.9h-.9zM366.4 401.8h.9v.9h-.9zM369.4 392.5h.9v.9h-.9zM360.9 391.7h.9v.9h-.9zM368.0 389.8h.9v.9h-.9z"/>
<path d="M358.8 404.7h.9v.9h-.9zM358.8 400.7h.9v.9h-.9zM357.4 397.8h.9v.9h-.9zM374.1 394.2h.9v.9h-.9zM360.9 401.6h.9v.9h-.9zM364.6 411.1h.9v.9h-.9zM356.5 407.2h.9v.9h-.9zM365.6 398.4h.9v.9h-.9zM362.3 395.8h.9v.9h-.9zM368.2 401.3h.9v.9h-.9zM359.7 401.9h.9v.9h-.9zM352.1 396.5h.9v.9h-.9z"/>
<path d="M355.1 400.0h.9v.9h-.9zM361.1 395.4h.9v.9h-.9zM359.6 397.7h.9v.9h-.9zM361.7 401.0h.9v.9h-.9zM365.8 410.7h.9v.9h-.9zM366.7 399.5h.9v.9h-.9zM361.6 398.5h.9v.9h-.9zM366.3 395.5h.9v.9h-.9zM365.4 392.0h.9v.9h-.9zM353.4 392.5h.9v.9h-.9zM364.4 398.5h.9v.9h-.9zM354.2 380.2h.9v.9h-.9z"/>
<path d="M362.8 403.8h.9v.9h-.9zM358.2 390.6h.9v.9h-.9zM360.8 396.1h.9v.9h-.9zM361.3 407.0h.9v.9h-.9zM360.6 389.2h.9v.9h-.9zM364.0 388.2h.9v.9h-.9zM365.3 398.5h.9v.9h-.9zM363.3 399.6h.9v.9h-.9zM360.2 392.1h.9v.9h-.9zM361.9 397.2h.9v.9h-.9zM347.9 401.0h.9v.9h-.9zM356.0 404.2h.9v.9h-.9z"/>
<path d="M367.1 390.8h.9v.9h-.9zM358.6 403.5h.9v.9h-.9zM361.8 390.8h.9v.9h-.9zM350.2 403.2h.9v.9h-.9zM360.7 407.2h.9v.9h-.9zM356.7 404.1h.9v.9h-.9zM361.4 385.5h.9v.9h-.9zM363.0 391.6h.9v.9h-.9zM354.3 392.8h.9v.9h-.9zM361.2 384.5h.9v.9h-.9zM362.1 398.3h.9v.9h-.9zM367.9 396.7h.9v.9h-.9z"/>
<path d="M364.5 401.3h.9v.9h-.9zM363.8 402.3h.9v.9h-.9zM366.1 406.1h.9v.9h-.9zM364.2 403.7h.9v.9h-.9zM365.7 400.7h.9v.9h-.9zM360.6 405.4h.9v.9h-.9zM360.7 402.1h.9v.9h-.9zM353.8 408.6h.9v.9h-.9zM363.9 398.1h.9v.9h-.9zM360.9 396.0h.9v.9h-.9zM357.6 407.2h.9v.9h-.9zM359.9 388.8h.9v.9h-.9z"/>
<path d="M355.6 397.7h.9v.9h-.9zM368.0 401.6h.9v.9h-.9zM357.9 393.2h.9v.9h-.9zM363.3 402.0h.9v.9h-.9zM361.7 395.7h.9v.9h-.9zM354.0 391.2h.9v.9h-.9zM361.0 392.2h.9v.9h-.9zM359.7 394.0h.9v.9h-.9zM360.0 406.3h.9v.9h-.9zM365.6 403.2h.9v.9h-.9zM360.4 396.4h.9v.9h-.9zM369.8 402.1h.9v.9h-.9z"/>
<path d="M364.7 383.4h.9v.9h-.9zM368.4 406.3h.9v.9h-.9zM355.2 394.2h.9v.9h-.9zM363.0 403.4h.9v.9h-.9zM361.4 399.1h.9v.9h-.9zM360.3 395.3h.9v.9h-.9zM368.4 404.4h.9v.9h-.9zM362.1 395.7h.9v.9h-.9zM358.3 398.9h.9v.9h-.9zM358.0 403.2h.9v.9h-.9zM360.1 403.2h.9v.9h-.9zM353.3 399.5h.9v.9h-.9z"/>
<path d="M361.9 401.6h.9v.9h-.9zM356.9 398.7h.9v.9h-.9zM361.3 401.5h.9v.9h-.9zM364.7 388.6h.9v.9h-.9zM366.4 404.5h.9v.9h-.9zM359.3 398.6h.9v.9h-.9zM378.8 411.0h.9v.9h-.9zM365.7 403.0h.9v.9h-.9zM358.5 388.2h.9v.9h-.9zM360.5 395.6h.9v.9h-.9zM359.2 399.8h.9v.9h-.9zM359.3 387.4h.9v.9h-.9z"/>
<path d="M361.7 406.0h.9v.9h-.9zM361.1 403.7h.9v.9h-.9zM362.7 403.1h.9v.9h-.9zM361.5 398.9h.9v.9h-.9zM353.6 403.9h.9v.9h-.9zM355.9 391.0h.9v.9h-.9zM358.0 398.4h.9v.9h-.9zM360.9 400.7h.9v.9h-.9zM358.7 395.6h.9v.9h-.9zM360.4 396.7h.9v.9h-.9zM360.5 393.5h.9v.9h-.9zM363.9 404.0h.9v.9h-.9z"/>
<path d="M362.6 408.5h.9v.9h-.9zM357.9 392.2h.9v.9h-.9zM352.7 394.8h.9v.9h-.9zM358.0 392.5h.9v.9h-.9zM356.0 395.2h.9v.9h-.9zM354.9 389.2h.9v.9h-.9zM362.6 383.5h.9v.9h-.9zM362.9 398.6h.9v.9h-.9zM370.2 408.7h.9v.9h-.9zM356.9 402.5h.9v.9h-.9zM355.7 399.5h.9v.9h-.9zM357.7 390.3h.9v.9h-.9z"/>
<path d="M362.5 404.9h.9v.9h-.9zM364.2 393.0h.9v.9h-.9zM357.0 398.7h.9v.9h-.9zM356.8 400.7h.9v.9h-.9zM363.6 405.8h.9v.9h-.9zM364.4 400.3h.9v.9h-.9zM370.0 400.2h.9v.9h-.9zM356.6 400.0h.9v.9h-.9zM366.6 391.2h.9v.9h-.9zM361.1 406.5h.9v.9h-.9zM360.3 403.5h.9v.9h-.9zM365.9 402.7h.9v.9h-.9z"/>
<path d="M358.6 394.2h.9v.9h-.9zM358.6 401.2h.9v.9h-.9zM356.4 385.1h.9v.9h-.9zM366.2 390.7h.9v.9h-.9zM362.6 392.4h.9v.9h-.9zM357.1 409.2h.9v.9h-.9zM368.9 397.6h.9v.9h-.9zM361.0 400.1h.9v.9h-.9zM359.7 396.0h.9v.9h-.9zM362.9 395.2h.9v.9h-.9zM360.6 400.8h.9v.9h-.9zM361.5 394.4h.9v.9h-.9z"/>
<path d="M363.3 403.2h.9v.9h-.9zM362.4 399.8h.9v.9h-.9zM365.5 395.5h.9v.9h-.9zM361.0 401.7h.9v.9h-.9zM360.9 396.5h.9v.9h-.9zM355.7 396.9h.9v.9h-.9zM356.5 396.1h.9v.9h-.9zM362.4 397.2h.9v.9h-.9zM361.1 394.6h.9v.9h-.9zM363.2 399.2h.9v.9h-.9zM360.2 404.7h.9v.9h-.9zM361.3 401.7h.9v.9h-.9z"/>
<path d="M367.1 406.8h.9v.9h-.9zM364.3 395.5h.9v.9h-.9zM361.5 389.2h.9v.9h-.9zM367.6 388.1h.9v.9h-.9zM357.7 395.6h.9v.9h-.9zM356.1 401.6h.9v.9h-.9zM364.8 400.5h.9v.9h-.9zM367.4 404.6h.9v.9h-.9zM361.2 401.5h.9v.9h-.9zM359.6 405.9h.9v.9h-.9zM359.5 392.4h.9v.9h-.9zM360.0 399.0h.9v.9h-.9z"/>
<path d="M354.0 398.5h.9v.9h-.9zM354.3 394.5h.9v.9h-.9zM352.1 393.5h.9v.9h-.9zM364.9 393.2h.9v.9h-.9zM362.8 395.4h.9v.9h-.9zM365.5 410.1h.9v.9h-.9zM358.8 402.9h.9v.9h-.9zM365.8 403.9h.9v.9h-.9zM360.6 395.6h.9v.9h-.9zM360.6 399.8h.9v.9h-.9zM357.8 399.6h.9v.9h-.9zM354.6 392.5h.9v.9h-.9z"/>
<path d="M355.8 400.5h.9v.9h-.9zM368.4 397.4h.9v.9h-.9zM368.0 405.0h.9v.9h-.9zM350.9 399.9h.9v.9h-.9z"/>
</g>
<g fill="#000" fill-opacity="0.26" filter="url(#bl)">
<path d="M359.9 405.7h.9v.9h-.9zM374.5 391.8h.9v.9h-.9zM366.1 372.3h.9v.9h-.9zM363.6 381.5h.9v.9h-.9zM371.4 402.0h.9v.9h-.9zM344.3 395.2h.9v.9h-.9zM371.2 416.0h.9v.9h-.9zM359.9 395.2h.9v.9h-.9zM362.6 365.9h.9v.9h-.9zM338.3 386.6h.9v.9h-.9zM334.5 395.6h.9v.9h-.9zM343.4 392.6h.9v.9h-.9z"/>
<path d="M356.2 384.1h.9v.9h-.9zM344.1 400.9h.9v.9h-.9zM356.4 410.0h.9v.9h-.9zM357.5 391.3h.9v.9h-.9zM349.9 370.9h.9v.9h-.9zM366.1 384.9h.9v.9h-.9zM352.4 382.0h.9v.9h-.9zM360.7 403.7h.9v.9h-.9zM340.0 397.1h.9v.9h-.9zM353.5 407.2h.9v.9h-.9zM392.7 386.2h.9v.9h-.9zM363.4 415.0h.9v.9h-.9z"/>
<path d="M346.1 406.8h.9v.9h-.9zM365.6 382.9h.9v.9h-.9zM354.5 390.9h.9v.9h-.9zM340.2 395.9h.9v.9h-.9zM349.8 391.9h.9v.9h-.9zM330.1 402.8h.9v.9h-.9zM339.6 382.0h.9v.9h-.9zM358.8 395.0h.9v.9h-.9zM341.4 392.8h.9v.9h-.9zM346.5 411.9h.9v.9h-.9zM337.6 388.2h.9v.9h-.9zM363.3 402.3h.9v.9h-.9z"/>
<path d="M331.0 389.0h.9v.9h-.9zM342.0 388.2h.9v.9h-.9zM331.8 386.4h.9v.9h-.9zM342.1 417.0h.9v.9h-.9zM364.3 395.9h.9v.9h-.9zM368.7 405.6h.9v.9h-.9zM330.7 385.2h.9v.9h-.9zM349.6 393.2h.9v.9h-.9zM370.7 371.5h.9v.9h-.9zM341.6 388.7h.9v.9h-.9zM366.6 390.4h.9v.9h-.9zM365.9 385.5h.9v.9h-.9z"/>
<path d="M367.3 393.4h.9v.9h-.9zM350.1 397.2h.9v.9h-.9zM358.1 400.9h.9v.9h-.9zM357.5 402.2h.9v.9h-.9zM335.7 389.2h.9v.9h-.9zM346.8 396.0h.9v.9h-.9zM357.9 402.4h.9v.9h-.9zM362.6 381.8h.9v.9h-.9zM351.6 388.1h.9v.9h-.9zM375.8 390.6h.9v.9h-.9zM337.7 396.5h.9v.9h-.9zM348.8 388.2h.9v.9h-.9z"/>
<path d="M347.3 387.8h.9v.9h-.9zM367.8 387.4h.9v.9h-.9zM370.0 376.5h.9v.9h-.9zM341.0 381.1h.9v.9h-.9zM353.7 415.2h.9v.9h-.9zM355.7 382.9h.9v.9h-.9zM361.3 396.6h.9v.9h-.9zM333.0 385.4h.9v.9h-.9zM351.3 393.6h.9v.9h-.9zM343.7 387.1h.9v.9h-.9zM344.2 414.2h.9v.9h-.9zM336.3 401.2h.9v.9h-.9z"/>
<path d="M335.4 375.4h.9v.9h-.9zM362.2 392.8h.9v.9h-.9zM342.6 396.3h.9v.9h-.9zM346.0 410.8h.9v.9h-.9zM338.0 397.1h.9v.9h-.9zM334.2 376.0h.9v.9h-.9zM344.8 406.3h.9v.9h-.9zM343.1 389.7h.9v.9h-.9zM340.4 399.5h.9v.9h-.9zM336.2 404.7h.9v.9h-.9zM340.2 400.6h.9v.9h-.9zM353.7 402.8h.9v.9h-.9z"/>
<path d="M343.0 394.9h.9v.9h-.9zM354.6 418.6h.9v.9h-.9zM362.6 416.1h.9v.9h-.9zM338.6 391.3h.9v.9h-.9zM344.4 399.5h.9v.9h-.9zM352.4 385.7h.9v.9h-.9zM338.4 388.7h.9v.9h-.9zM338.9 373.3h.9v.9h-.9zM334.8 394.3h.9v.9h-.9zM342.8 392.1h.9v.9h-.9zM353.7 379.3h.9v.9h-.9zM354.5 400.8h.9v.9h-.9z"/>
<path d="M361.0 368.5h.9v.9h-.9zM348.3 396.1h.9v.9h-.9zM354.0 394.4h.9v.9h-.9zM366.5 392.7h.9v.9h-.9zM357.2 389.7h.9v.9h-.9zM332.6 391.7h.9v.9h-.9zM379.4 370.4h.9v.9h-.9zM365.3 409.0h.9v.9h-.9zM375.6 409.3h.9v.9h-.9zM365.3 392.4h.9v.9h-.9zM336.7 395.5h.9v.9h-.9zM338.7 391.6h.9v.9h-.9z"/>
<path d="M347.0 401.0h.9v.9h-.9zM349.8 391.3h.9v.9h-.9zM354.1 397.9h.9v.9h-.9zM345.2 392.6h.9v.9h-.9zM360.3 408.3h.9v.9h-.9zM358.6 374.9h.9v.9h-.9zM356.1 374.3h.9v.9h-.9zM361.9 383.8h.9v.9h-.9zM344.3 390.1h.9v.9h-.9zM375.4 399.8h.9v.9h-.9zM328.9 397.5h.9v.9h-.9zM351.6 385.3h.9v.9h-.9z"/>
<path d="M349.5 387.8h.9v.9h-.9zM373.6 390.9h.9v.9h-.9z"/>
</g>
<rect x="325.80" y="352.90" width="72.70" height="67.50" rx="1" fill="none" stroke="#8a8a8a" stroke-width="1.1"/>
<line x1="348.50" y1="352.90" x2="348.50" y2="420.40" stroke="#808080" stroke-width="1"/>
<line x1="325.80" y1="390.20" x2="398.50" y2="390.20" stroke="#808080" stroke-width="1"/>
<text x="328.50" y="363.60" font-size="9.6" text-anchor="start" >29.7</text>
<text x="396.00" y="363.60" font-size="9.6" text-anchor="end" >25.5</text>
<text x="396.00" y="418.40" font-size="9.6" text-anchor="end" >33.8</text>
<text x="352.70" y="350.00" font-size="10.4" text-anchor="start" >f/null</text>
<line x1="323.30" y1="359.50" x2="325.80" y2="359.50" stroke="#555" stroke-width="0.9"/>
<text x="318.6" y="360.1" font-size="4.2" fill="#555" style="stroke:none">10<tspan dy="-1.6" font-size="3">1</tspan></text>
<line x1="324.60" y1="354.32" x2="325.80" y2="354.32" stroke="#777" stroke-width="0.6"/>
<line x1="323.30" y1="376.70" x2="325.80" y2="376.70" stroke="#555" stroke-width="0.9"/>
<text x="318.6" y="377.3" font-size="4.2" fill="#555" style="stroke:none">10<tspan dy="-1.6" font-size="3">2</tspan></text>
<line x1="324.60" y1="371.52" x2="325.80" y2="371.52" stroke="#777" stroke-width="0.6"/>
<line x1="324.60" y1="368.49" x2="325.80" y2="368.49" stroke="#777" stroke-width="0.6"/>
<line x1="324.60" y1="366.34" x2="325.80" y2="366.34" stroke="#777" stroke-width="0.6"/>
<line x1="324.60" y1="364.68" x2="325.80" y2="364.68" stroke="#777" stroke-width="0.6"/>
<line x1="324.60" y1="363.32" x2="325.80" y2="363.32" stroke="#777" stroke-width="0.6"/>
<line x1="324.60" y1="362.16" x2="325.80" y2="362.16" stroke="#777" stroke-width="0.6"/>
<line x1="324.60" y1="361.17" x2="325.80" y2="361.17" stroke="#777" stroke-width="0.6"/>
<line x1="324.60" y1="360.29" x2="325.80" y2="360.29" stroke="#777" stroke-width="0.6"/>
<line x1="323.30" y1="393.90" x2="325.80" y2="393.90" stroke="#555" stroke-width="0.9"/>
<text x="318.6" y="394.5" font-size="4.2" fill="#555" style="stroke:none">10<tspan dy="-1.6" font-size="3">3</tspan></text>
<line x1="324.60" y1="388.72" x2="325.80" y2="388.72" stroke="#777" stroke-width="0.6"/>
<line x1="324.60" y1="385.69" x2="325.80" y2="385.69" stroke="#777" stroke-width="0.6"/>
<line x1="324.60" y1="383.54" x2="325.80" y2="383.54" stroke="#777" stroke-width="0.6"/>
<line x1="324.60" y1="381.88" x2="325.80" y2="381.88" stroke="#777" stroke-width="0.6"/>
<line x1="324.60" y1="380.52" x2="325.80" y2="380.52" stroke="#777" stroke-width="0.6"/>
<line x1="324.60" y1="379.36" x2="325.80" y2="379.36" stroke="#777" stroke-width="0.6"/>
<line x1="324.60" y1="378.37" x2="325.80" y2="378.37" stroke="#777" stroke-width="0.6"/>
<line x1="324.60" y1="377.49" x2="325.80" y2="377.49" stroke="#777" stroke-width="0.6"/>
<line x1="323.30" y1="411.10" x2="325.80" y2="411.10" stroke="#555" stroke-width="0.9"/>
<text x="318.6" y="411.7" font-size="4.2" fill="#555" style="stroke:none">10<tspan dy="-1.6" font-size="3">4</tspan></text>
<line x1="324.60" y1="405.92" x2="325.80" y2="405.92" stroke="#777" stroke-width="0.6"/>
<line x1="324.60" y1="402.89" x2="325.80" y2="402.89" stroke="#777" stroke-width="0.6"/>
<line x1="324.60" y1="400.74" x2="325.80" y2="400.74" stroke="#777" stroke-width="0.6"/>
<line x1="324.60" y1="399.08" x2="325.80" y2="399.08" stroke="#777" stroke-width="0.6"/>
<line x1="324.60" y1="397.72" x2="325.80" y2="397.72" stroke="#777" stroke-width="0.6"/>
<line x1="324.60" y1="396.56" x2="325.80" y2="396.56" stroke="#777" stroke-width="0.6"/>
<line x1="324.60" y1="395.57" x2="325.80" y2="395.57" stroke="#777" stroke-width="0.6"/>
<line x1="324.60" y1="394.69" x2="325.80" y2="394.69" stroke="#777" stroke-width="0.6"/>
<line x1="336.30" y1="420.40" x2="336.30" y2="422.90" stroke="#555" stroke-width="0.9"/>
<text x="334.1" y="426.6" font-size="4.2" fill="#555" style="stroke:none">10<tspan dy="-1.6" font-size="3">1</tspan></text>
<line x1="341.72" y1="420.40" x2="341.72" y2="421.60" stroke="#777" stroke-width="0.6"/>
<line x1="344.89" y1="420.40" x2="344.89" y2="421.60" stroke="#777" stroke-width="0.6"/>
<line x1="347.14" y1="420.40" x2="347.14" y2="421.60" stroke="#777" stroke-width="0.6"/>
<line x1="348.88" y1="420.40" x2="348.88" y2="421.60" stroke="#777" stroke-width="0.6"/>
<line x1="350.31" y1="420.40" x2="350.31" y2="421.60" stroke="#777" stroke-width="0.6"/>
<line x1="351.51" y1="420.40" x2="351.51" y2="421.60" stroke="#777" stroke-width="0.6"/>
<line x1="352.56" y1="420.40" x2="352.56" y2="421.60" stroke="#777" stroke-width="0.6"/>
<line x1="353.48" y1="420.40" x2="353.48" y2="421.60" stroke="#777" stroke-width="0.6"/>
<line x1="354.30" y1="420.40" x2="354.30" y2="422.90" stroke="#555" stroke-width="0.9"/>
<text x="352.1" y="426.6" font-size="4.2" fill="#555" style="stroke:none">10<tspan dy="-1.6" font-size="3">2</tspan></text>
<line x1="359.72" y1="420.40" x2="359.72" y2="421.60" stroke="#777" stroke-width="0.6"/>
<line x1="362.89" y1="420.40" x2="362.89" y2="421.60" stroke="#777" stroke-width="0.6"/>
<line x1="365.14" y1="420.40" x2="365.14" y2="421.60" stroke="#777" stroke-width="0.6"/>
<line x1="366.88" y1="420.40" x2="366.88" y2="421.60" stroke="#777" stroke-width="0.6"/>
<line x1="368.31" y1="420.40" x2="368.31" y2="421.60" stroke="#777" stroke-width="0.6"/>
<line x1="369.51" y1="420.40" x2="369.51" y2="421.60" stroke="#777" stroke-width="0.6"/>
<line x1="370.56" y1="420.40" x2="370.56" y2="421.60" stroke="#777" stroke-width="0.6"/>
<line x1="371.48" y1="420.40" x2="371.48" y2="421.60" stroke="#777" stroke-width="0.6"/>
<line x1="372.30" y1="420.40" x2="372.30" y2="422.90" stroke="#555" stroke-width="0.9"/>
<text x="370.1" y="426.6" font-size="4.2" fill="#555" style="stroke:none">10<tspan dy="-1.6" font-size="3">3</tspan></text>
<line x1="377.72" y1="420.40" x2="377.72" y2="421.60" stroke="#777" stroke-width="0.6"/>
<line x1="380.89" y1="420.40" x2="380.89" y2="421.60" stroke="#777" stroke-width="0.6"/>
<line x1="383.14" y1="420.40" x2="383.14" y2="421.60" stroke="#777" stroke-width="0.6"/>
<line x1="384.88" y1="420.40" x2="384.88" y2="421.60" stroke="#777" stroke-width="0.6"/>
<line x1="386.31" y1="420.40" x2="386.31" y2="421.60" stroke="#777" stroke-width="0.6"/>
<line x1="387.51" y1="420.40" x2="387.51" y2="421.60" stroke="#777" stroke-width="0.6"/>
<line x1="388.56" y1="420.40" x2="388.56" y2="421.60" stroke="#777" stroke-width="0.6"/>
<line x1="389.48" y1="420.40" x2="389.48" y2="421.60" stroke="#777" stroke-width="0.6"/>
<line x1="390.30" y1="420.40" x2="390.30" y2="422.90" stroke="#555" stroke-width="0.9"/>
<text x="388.1" y="426.6" font-size="4.2" fill="#555" style="stroke:none">10<tspan dy="-1.6" font-size="3">4</tspan></text>
<line x1="395.72" y1="420.40" x2="395.72" y2="421.60" stroke="#777" stroke-width="0.6"/>
<line x1="26.10" y1="393.70" x2="26.10" y2="358.00" stroke="#000" stroke-width="1.8"/>
<path d="M23.40 360.50L26.10 352.00L28.80 360.50Z" stroke="#000" stroke-width="0" fill="#000"/>
<text transform="translate(28.60,422.40) rotate(-90)" font-size="9.8" >CD27</text>
<text x="38.60" y="439.00" font-size="9.8" text-anchor="start" >CD11b</text>
<line x1="71.90" y1="436.20" x2="196.50" y2="436.20" stroke="#000" stroke-width="1.8"/>
<path d="M194.00 433.50L202.50 436.20L194.00 438.90Z" stroke="#000" stroke-width="0" fill="#000"/>
<line x1="225.40" y1="393.70" x2="225.40" y2="358.00" stroke="#000" stroke-width="1.8"/>
<path d="M222.70 360.50L225.40 352.00L228.10 360.50Z" stroke="#000" stroke-width="0" fill="#000"/>
<text transform="translate(228.20,422.40) rotate(-90)" font-size="9.8" >CD27</text>
<text x="238.20" y="439.00" font-size="9.8" text-anchor="start" >CD11b</text>
<line x1="271.70" y1="436.20" x2="396.50" y2="436.20" stroke="#000" stroke-width="1.8"/>
<path d="M394.00 433.50L402.50 436.20L394.00 438.90Z" stroke="#000" stroke-width="0" fill="#000"/>
<path d="M44.70 467.00V571.80H338.20" stroke="#000" stroke-width="1.6" fill="none"/>
<line x1="42.30" y1="571.80" x2="44.70" y2="571.80" stroke="#000" stroke-width="1.6"/>
<text x="39.90" y="575.23" font-size="9.8" text-anchor="end" >0</text>
<line x1="42.30" y1="558.80" x2="44.70" y2="558.80" stroke="#000" stroke-width="1.6"/>
<text x="39.90" y="562.23" font-size="9.8" text-anchor="end" >10</text>
<line x1="42.30" y1="545.80" x2="44.70" y2="545.80" stroke="#000" stroke-width="1.6"/>
<text x="39.90" y="549.23" font-size="9.8" text-anchor="end" >20</text>
<line x1="42.30" y1="532.80" x2="44.70" y2="532.80" stroke="#000" stroke-width="1.6"/>
<text x="39.90" y="536.23" font-size="9.8" text-anchor="end" >30</text>
<line x1="42.30" y1="519.80" x2="44.70" y2="519.80" stroke="#000" stroke-width="1.6"/>
<text x="39.90" y="523.23" font-size="9.8" text-anchor="end" >40</text>
<line x1="42.30" y1="506.80" x2="44.70" y2="506.80" stroke="#000" stroke-width="1.6"/>
<text x="39.90" y="510.23" font-size="9.8" text-anchor="end" >50</text>
<line x1="42.30" y1="493.80" x2="44.70" y2="493.80" stroke="#000" stroke-width="1.6"/>
<text x="39.90" y="497.23" font-size="9.8" text-anchor="end" >60</text>
<line x1="42.30" y1="480.80" x2="44.70" y2="480.80" stroke="#000" stroke-width="1.6"/>
<text x="39.90" y="484.23" font-size="9.8" text-anchor="end" >70</text>
<line x1="42.30" y1="467.80" x2="44.70" y2="467.80" stroke="#000" stroke-width="1.6"/>
<text x="39.90" y="471.23" font-size="9.8" text-anchor="end" >80</text>
<line x1="44.70" y1="571.80" x2="44.70" y2="574.20" stroke="#000" stroke-width="1.6"/>
<path d="M59.85 547.40V544.80M57.05 544.80H62.65" stroke="#000" stroke-width="1.5" fill="none"/>
<rect x="54.50" y="547.40" width="10.70" height="24.40" fill="#cbcbcb" stroke="#000" stroke-width="1.6"/>
<path d="M71.75 550.10V548.50M68.95 548.50H74.55" stroke="#000" stroke-width="1.5" fill="none"/>
<rect x="65.20" y="550.10" width="13.10" height="21.70" fill="#000" stroke="#000" stroke-width="1.6"/>
<path d="M84.05 563.80V563.00M81.25 563.00H86.85" stroke="#000" stroke-width="1.5" fill="none"/>
<rect x="78.30" y="563.80" width="11.50" height="8.00" fill="#fff" stroke="#000" stroke-width="1.6"/>
<path d="M107.95 539.50V536.90M105.15 536.90H110.75" stroke="#000" stroke-width="1.5" fill="none"/>
<rect x="102.50" y="539.50" width="10.90" height="32.30" fill="#cbcbcb" stroke="#000" stroke-width="1.6"/>
<path d="M119.35 545.50V539.90M116.55 539.90H122.15" stroke="#000" stroke-width="1.5" fill="none"/>
<rect x="113.40" y="545.50" width="11.90" height="26.30" fill="#000" stroke="#000" stroke-width="1.6"/>
<path d="M131.15 545.90V535.10M128.35 535.10H133.95" stroke="#000" stroke-width="1.5" fill="none"/>
<rect x="125.30" y="545.90" width="11.70" height="25.90" fill="#fff" stroke="#000" stroke-width="1.6"/>
<path d="M155.15 528.30V524.10M152.35 524.10H157.95" stroke="#000" stroke-width="1.5" fill="none"/>
<rect x="149.80" y="528.30" width="10.70" height="43.50" fill="#cbcbcb" stroke="#000" stroke-width="1.6"/>
<path d="M166.90 536.90V533.90M164.10 533.90H169.70" stroke="#000" stroke-width="1.5" fill="none"/>
<rect x="160.50" y="536.90" width="12.80" height="34.90" fill="#000" stroke="#000" stroke-width="1.6"/>
<path d="M178.85 537.80V531.70M176.05 531.70H181.65" stroke="#000" stroke-width="1.5" fill="none"/>
<rect x="173.30" y="537.80" width="11.10" height="34.00" fill="#fff" stroke="#000" stroke-width="1.6"/>
<path d="M203.05 509.10V506.70M200.25 506.70H205.85" stroke="#000" stroke-width="1.5" fill="none"/>
<rect x="197.50" y="509.10" width="11.10" height="62.70" fill="#cbcbcb" stroke="#000" stroke-width="1.6"/>
<path d="M214.75 531.40V525.00M211.95 525.00H217.55" stroke="#000" stroke-width="1.5" fill="none"/>
<rect x="208.60" y="531.40" width="12.30" height="40.40" fill="#000" stroke="#000" stroke-width="1.6"/>
<path d="M226.25 555.20V550.60M223.45 550.60H229.05" stroke="#000" stroke-width="1.5" fill="none"/>
<rect x="220.90" y="555.20" width="10.70" height="16.60" fill="#fff" stroke="#000" stroke-width="1.6"/>
<path d="M250.65 513.50V512.50M247.85 512.50H253.45" stroke="#000" stroke-width="1.5" fill="none"/>
<rect x="245.00" y="513.50" width="11.30" height="58.30" fill="#cbcbcb" stroke="#000" stroke-width="1.6"/>
<path d="M262.35 517.30V511.90M259.55 511.90H265.15" stroke="#000" stroke-width="1.5" fill="none"/>
<rect x="256.30" y="517.30" width="12.10" height="54.50" fill="#000" stroke="#000" stroke-width="1.6"/>
<path d="M273.75 533.90V521.60M270.95 521.60H276.55" stroke="#000" stroke-width="1.5" fill="none"/>
<rect x="268.40" y="533.90" width="10.70" height="37.90" fill="#fff" stroke="#000" stroke-width="1.6"/>
<path d="M297.80 509.30V506.60M295.00 506.60H300.60" stroke="#000" stroke-width="1.5" fill="none"/>
<rect x="292.60" y="509.30" width="10.40" height="62.50" fill="#cbcbcb" stroke="#000" stroke-width="1.6"/>
<path d="M309.15 501.00V498.10M306.35 498.10H311.95" stroke="#000" stroke-width="1.5" fill="none"/>
<rect x="303.00" y="501.00" width="12.30" height="70.80" fill="#000" stroke="#000" stroke-width="1.6"/>
<path d="M320.95 489.10V479.30M318.15 479.30H323.75" stroke="#000" stroke-width="1.5" fill="none"/>
<rect x="315.30" y="489.10" width="11.30" height="82.70" fill="#fff" stroke="#000" stroke-width="1.6"/>
<path d="M72.80 542.50V538.90H84.40V542.50" stroke="#000" stroke-width="1.5" fill="none"/>
<ellipse cx="75.30" cy="536.00" rx="1.35" ry="1.15" fill="#000"/>
<ellipse cx="79.00" cy="536.00" rx="1.35" ry="1.15" fill="#000"/>
<ellipse cx="82.70" cy="536.00" rx="1.35" ry="1.15" fill="#000"/>
<path d="M155.60 518.90V515.30H168.00V518.90" stroke="#000" stroke-width="1.5" fill="none"/>
<ellipse cx="160.35" cy="512.40" rx="1.35" ry="1.15" fill="#000"/>
<ellipse cx="164.05" cy="512.40" rx="1.35" ry="1.15" fill="#000"/>
<path d="M202.90 500.70V497.10H212.80V500.70" stroke="#000" stroke-width="1.5" fill="none"/>
<ellipse cx="204.55" cy="494.20" rx="1.35" ry="1.15" fill="#000"/>
<ellipse cx="208.25" cy="494.20" rx="1.35" ry="1.15" fill="#000"/>
<ellipse cx="211.95" cy="494.20" rx="1.35" ry="1.15" fill="#000"/>
<path d="M216.20 500.70V497.10H226.40V500.70" stroke="#000" stroke-width="1.5" fill="none"/>
<ellipse cx="218.00" cy="494.20" rx="1.35" ry="1.15" fill="#000"/>
<ellipse cx="221.70" cy="494.20" rx="1.35" ry="1.15" fill="#000"/>
<ellipse cx="225.40" cy="494.20" rx="1.35" ry="1.15" fill="#000"/>
<path d="M262.00 507.00V503.40H273.80V507.00" stroke="#000" stroke-width="1.5" fill="none"/>
<ellipse cx="266.45" cy="500.50" rx="1.35" ry="1.15" fill="#000"/>
<ellipse cx="270.15" cy="500.50" rx="1.35" ry="1.15" fill="#000"/>
<text x="69.50" y="583.10" font-size="9.8" text-anchor="middle" >KLRG1</text>
<text x="117.80" y="583.10" font-size="9.8" text-anchor="middle" >Ly49A</text>
<text x="164.50" y="583.10" font-size="9.8" text-anchor="middle" >Ly49C/I</text>
<text x="213.80" y="583.10" font-size="9.8" text-anchor="middle" >Ly49D</text>
<text x="262.60" y="583.10" font-size="9.8" text-anchor="middle" >Ly49G2</text>
<text x="309.50" y="583.10" font-size="9.8" text-anchor="middle" >CD94-</text>
<text x="309.50" y="592.00" font-size="9.8" text-anchor="middle" >NKG2</text>
<text x="174.20" y="467.70" font-size="11" text-anchor="start" >BM</text>
<rect x="59.3" y="477.60" width="13" height="5.2" fill="#cbcbcb" stroke="#000" stroke-width="1.5"/>
<text x="75.80" y="483.20" font-size="9.8" text-anchor="start" >f/wt</text>
<rect x="59.3" y="490.60" width="13" height="5.2" fill="#000" stroke="#000" stroke-width="1.5"/>
<text x="75.80" y="496.20" font-size="9.8" text-anchor="start" >f/wt</text>
<rect x="59.3" y="504.40" width="13" height="5.2" fill="#fff" stroke="#000" stroke-width="1.5"/>
<text x="75.80" y="510.00" font-size="9.8" text-anchor="start" >f/null</text>
<text x="105.20" y="482.70" font-size="9.8" text-anchor="start" >pIpC(-)</text>
<line x1="100.60" y1="491.00" x2="100.60" y2="508.50" stroke="#000" stroke-width="1.5"/>
<text x="105.20" y="501.60" font-size="9.8" text-anchor="start" >pIpC(+)</text>
<text transform="translate(22.90,558.60) rotate(-90)" font-size="9.6"  textLength="61.0" lengthAdjust="spacingAndGlyphs">CD3<tspan dy="-3.4" font-size="6.5">−</tspan><tspan dy="3.4"> NK1.1</tspan><tspan dy="-3.4" font-size="6.5">+</tspan></text>
<text transform="translate(23.60,494.60) rotate(-90)" font-size="9.4"  textLength="15.0" lengthAdjust="spacingAndGlyphs">(%)</text>
<path d="M405.00 465.60V573.30H476.40" stroke="#000" stroke-width="1.6" fill="none"/>
<line x1="402.60" y1="573.30" x2="405.00" y2="573.30" stroke="#000" stroke-width="1.6"/>
<text x="401.00" y="576.66" font-size="9.6" text-anchor="end" >0</text>
<line x1="402.60" y1="551.92" x2="405.00" y2="551.92" stroke="#000" stroke-width="1.6"/>
<text x="401.00" y="555.28" font-size="9.6" text-anchor="end" >5</text>
<line x1="402.60" y1="530.54" x2="405.00" y2="530.54" stroke="#000" stroke-width="1.6"/>
<text x="401.00" y="533.90" font-size="9.6" text-anchor="end" >10</text>
<line x1="402.60" y1="509.16" x2="405.00" y2="509.16" stroke="#000" stroke-width="1.6"/>
<text x="401.00" y="512.52" font-size="9.6" text-anchor="end" >15</text>
<line x1="402.60" y1="487.78" x2="405.00" y2="487.78" stroke="#000" stroke-width="1.6"/>
<text x="401.00" y="491.14" font-size="9.6" text-anchor="end" >20</text>
<line x1="402.60" y1="466.40" x2="405.00" y2="466.40" stroke="#000" stroke-width="1.6"/>
<text x="401.00" y="469.76" font-size="9.6" text-anchor="end" >25</text>
<line x1="405.00" y1="573.30" x2="405.00" y2="575.70" stroke="#000" stroke-width="1.6"/>
<line x1="440.80" y1="573.30" x2="440.80" y2="575.70" stroke="#000" stroke-width="1.6"/>
<line x1="476.40" y1="573.30" x2="476.40" y2="575.70" stroke="#000" stroke-width="1.6"/>
<path d="M423.10 485.80V482.30M421.40 482.30H424.80" stroke="#000" stroke-width="1.5" fill="none"/>
<rect x="413.70" y="485.80" width="18.80" height="87.50" fill="#000" stroke="#000" stroke-width="1.6"/>
<path d="M458.35 536.10V534.80M456.65 534.80H460.05" stroke="#000" stroke-width="1.5" fill="none"/>
<rect x="449.20" y="536.10" width="18.30" height="37.20" fill="#fff" stroke="#000" stroke-width="1.6"/>
<path d="M421.70 476.90V473.70H458.60V476.90" stroke="#000" stroke-width="1.5" fill="none"/>
<ellipse cx="438.60" cy="469.20" rx="1.5" ry="1.25" fill="#000"/>
<ellipse cx="442.90" cy="469.20" rx="1.5" ry="1.25" fill="#000"/>
<text x="441.60" y="463.40" font-size="11" text-anchor="middle" >BM iNK</text>
<text x="423.20" y="585.50" font-size="10.6" text-anchor="middle" >f/wt</text>
<text x="459.40" y="585.50" font-size="10.6" text-anchor="middle" >f/null</text>
<text transform="translate(383.40,552.00) rotate(-90)" font-size="9.4"  textLength="67" lengthAdjust="spacingAndGlyphs">BrdU<tspan dy="-3.6" font-size="6.5">+</tspan><tspan dy="3.6"> cells (%)</tspan></text>
<path d="M64.10 621.90V706.70H134.20" stroke="#000" stroke-width="1.6" fill="none"/>
<line x1="61.90" y1="706.70" x2="64.10" y2="706.70" stroke="#000" stroke-width="1.6"/>
<text x="60.30" y="709.99" font-size="9.4" text-anchor="end" >0.0</text>
<line x1="61.90" y1="692.70" x2="64.10" y2="692.70" stroke="#000" stroke-width="1.6"/>
<text x="60.30" y="695.99" font-size="9.4" text-anchor="end" >0.2</text>
<line x1="61.90" y1="678.70" x2="64.10" y2="678.70" stroke="#000" stroke-width="1.6"/>
<text x="60.30" y="681.99" font-size="9.4" text-anchor="end" >0.4</text>
<line x1="61.90" y1="664.70" x2="64.10" y2="664.70" stroke="#000" stroke-width="1.6"/>
<text x="60.30" y="667.99" font-size="9.4" text-anchor="end" >0.6</text>
<line x1="61.90" y1="650.70" x2="64.10" y2="650.70" stroke="#000" stroke-width="1.6"/>
<text x="60.30" y="653.99" font-size="9.4" text-anchor="end" >0.8</text>
<line x1="61.90" y1="636.70" x2="64.10" y2="636.70" stroke="#000" stroke-width="1.6"/>
<text x="60.30" y="639.99" font-size="9.4" text-anchor="end" >1.0</text>
<line x1="61.90" y1="622.70" x2="64.10" y2="622.70" stroke="#000" stroke-width="1.6"/>
<text x="60.30" y="625.99" font-size="9.4" text-anchor="end" >1.2</text>
<line x1="64.10" y1="706.70" x2="64.10" y2="709.10" stroke="#000" stroke-width="1.6"/>
<line x1="99.30" y1="706.70" x2="99.30" y2="709.10" stroke="#000" stroke-width="1.6"/>
<line x1="134.20" y1="706.70" x2="134.20" y2="709.10" stroke="#000" stroke-width="1.6"/>
<rect x="72.90" y="637.30" width="17.20" height="69.40" fill="#000" stroke="#000" stroke-width="1.6"/>
<path d="M116.75 703.30V701.50M114.95 701.50H118.55" stroke="#000" stroke-width="1.5" fill="none"/>
<rect x="108.20" y="703.30" width="17.10" height="3.40" fill="#fff" stroke="#000" stroke-width="1.6"/>
<path d="M81.50 633.50V630.20H117.70V633.50" stroke="#000" stroke-width="1.5" fill="none"/>
<ellipse cx="95.90" cy="625.70" rx="1.5" ry="1.25" fill="#000"/>
<ellipse cx="100.20" cy="625.70" rx="1.5" ry="1.25" fill="#000"/>
<ellipse cx="104.50" cy="625.70" rx="1.5" ry="1.25" fill="#000"/>
<text x="100.80" y="615.90" font-size="11" text-anchor="middle" >BM mNK</text>
<text x="81.50" y="718.00" font-size="10.3" text-anchor="middle" >f/wt</text>
<text x="117.80" y="718.00" font-size="10.3" text-anchor="middle" >f/null</text>
<text transform="translate(30.60,703.00) rotate(-90)" font-size="10.8"  textLength="74.0" lengthAdjust="spacingAndGlyphs"><tspan font-style="italic">Perforin</tspan> mRNA</text>
<text transform="translate(42.40,708.60) rotate(-90)" font-size="8.2"  textLength="86.5" lengthAdjust="spacingAndGlyphs">(relative expression)</text>
<path d="M191.30 623.40V707.40H262.50" stroke="#000" stroke-width="1.6" fill="none"/>
<line x1="189.10" y1="707.40" x2="191.30" y2="707.40" stroke="#000" stroke-width="1.6"/>
<text x="187.50" y="710.69" font-size="9.4" text-anchor="end" >0.0</text>
<line x1="189.10" y1="693.53" x2="191.30" y2="693.53" stroke="#000" stroke-width="1.6"/>
<text x="187.50" y="696.82" font-size="9.4" text-anchor="end" >0.2</text>
<line x1="189.10" y1="679.67" x2="191.30" y2="679.67" stroke="#000" stroke-width="1.6"/>
<text x="187.50" y="682.96" font-size="9.4" text-anchor="end" >0.4</text>
<line x1="189.10" y1="665.80" x2="191.30" y2="665.80" stroke="#000" stroke-width="1.6"/>
<text x="187.50" y="669.09" font-size="9.4" text-anchor="end" >0.6</text>
<line x1="189.10" y1="651.93" x2="191.30" y2="651.93" stroke="#000" stroke-width="1.6"/>
<text x="187.50" y="655.22" font-size="9.4" text-anchor="end" >0.8</text>
<line x1="189.10" y1="638.07" x2="191.30" y2="638.07" stroke="#000" stroke-width="1.6"/>
<text x="187.50" y="641.36" font-size="9.4" text-anchor="end" >1.0</text>
<line x1="189.10" y1="624.20" x2="191.30" y2="624.20" stroke="#000" stroke-width="1.6"/>
<text x="187.50" y="627.49" font-size="9.4" text-anchor="end" >1.2</text>
<line x1="191.30" y1="707.40" x2="191.30" y2="709.80" stroke="#000" stroke-width="1.6"/>
<line x1="226.70" y1="707.40" x2="226.70" y2="709.80" stroke="#000" stroke-width="1.6"/>
<line x1="262.50" y1="707.40" x2="262.50" y2="709.80" stroke="#000" stroke-width="1.6"/>
<rect x="200.60" y="638.40" width="16.70" height="69.00" fill="#000" stroke="#000" stroke-width="1.6"/>
<path d="M244.45 667.60V662.00M242.65 662.00H246.25" stroke="#000" stroke-width="1.5" fill="none"/>
<rect x="235.70" y="667.60" width="17.50" height="39.80" fill="#fff" stroke="#000" stroke-width="1.6"/>
<path d="M208.50 634.50V631.00H246.20V634.50" stroke="#000" stroke-width="1.5" fill="none"/>
<ellipse cx="227.95" cy="626.50" rx="1.8" ry="1.5" fill="#000"/>
<text x="225.50" y="615.90" font-size="11" text-anchor="middle" >Spleen mNK</text>
<text x="208.80" y="718.00" font-size="10.3" text-anchor="middle" >f/wt</text>
<text x="244.20" y="718.00" font-size="10.3" text-anchor="middle" >f/null</text>
<text transform="translate(154.50,703.70) rotate(-90)" font-size="10.8"  textLength="74.0" lengthAdjust="spacingAndGlyphs"><tspan font-style="italic">Perforin</tspan> mRNA</text>
<text transform="translate(166.30,709.00) rotate(-90)" font-size="8.2"  textLength="86.5" lengthAdjust="spacingAndGlyphs">(relative expression)</text>
<path d="M337.90 623.30V707.30H407.50" stroke="#000" stroke-width="1.6" fill="none"/>
<line x1="335.70" y1="707.30" x2="337.90" y2="707.30" stroke="#000" stroke-width="1.6"/>
<text x="334.10" y="710.59" font-size="9.4" text-anchor="end" >0.0</text>
<line x1="335.70" y1="693.43" x2="337.90" y2="693.43" stroke="#000" stroke-width="1.6"/>
<text x="334.10" y="696.72" font-size="9.4" text-anchor="end" >0.2</text>
<line x1="335.70" y1="679.57" x2="337.90" y2="679.57" stroke="#000" stroke-width="1.6"/>
<text x="334.10" y="682.86" font-size="9.4" text-anchor="end" >0.4</text>
<line x1="335.70" y1="665.70" x2="337.90" y2="665.70" stroke="#000" stroke-width="1.6"/>
<text x="334.10" y="668.99" font-size="9.4" text-anchor="end" >0.6</text>
<line x1="335.70" y1="651.83" x2="337.90" y2="651.83" stroke="#000" stroke-width="1.6"/>
<text x="334.10" y="655.12" font-size="9.4" text-anchor="end" >0.8</text>
<line x1="335.70" y1="637.97" x2="337.90" y2="637.97" stroke="#000" stroke-width="1.6"/>
<text x="334.10" y="641.26" font-size="9.4" text-anchor="end" >1.0</text>
<line x1="335.70" y1="624.10" x2="337.90" y2="624.10" stroke="#000" stroke-width="1.6"/>
<text x="334.10" y="627.39" font-size="9.4" text-anchor="end" >1.2</text>
<line x1="337.90" y1="707.30" x2="337.90" y2="709.70" stroke="#000" stroke-width="1.6"/>
<line x1="372.80" y1="707.30" x2="372.80" y2="709.70" stroke="#000" stroke-width="1.6"/>
<line x1="407.50" y1="707.30" x2="407.50" y2="709.70" stroke="#000" stroke-width="1.6"/>
<rect x="347.00" y="638.00" width="17.00" height="69.30" fill="#000" stroke="#000" stroke-width="1.6"/>
<path d="M390.10 685.80V683.10M388.30 683.10H391.90" stroke="#000" stroke-width="1.5" fill="none"/>
<rect x="381.80" y="685.80" width="16.60" height="21.50" fill="#fff" stroke="#000" stroke-width="1.6"/>
<path d="M355.20 632.00V629.00H391.70V632.00" stroke="#000" stroke-width="1.5" fill="none"/>
<ellipse cx="369.75" cy="624.50" rx="1.5" ry="1.25" fill="#000"/>
<ellipse cx="374.05" cy="624.50" rx="1.5" ry="1.25" fill="#000"/>
<ellipse cx="378.35" cy="624.50" rx="1.5" ry="1.25" fill="#000"/>
<text x="371.30" y="615.90" font-size="11" text-anchor="middle" >BM mNK</text>
<text x="354.70" y="718.00" font-size="10.3" text-anchor="middle" >f/wt</text>
<text x="390.00" y="718.00" font-size="10.3" text-anchor="middle" >f/null</text>
<text transform="translate(301.80,698.80) rotate(-90)" font-size="10.8"  textLength="67.3" lengthAdjust="spacingAndGlyphs"><tspan font-style="italic">E4bp4</tspan> mRNA</text>
<text transform="translate(314.00,707.90) rotate(-90)" font-size="8.2"  textLength="87.0" lengthAdjust="spacingAndGlyphs">(relative expression)</text>
</svg></body></html>
